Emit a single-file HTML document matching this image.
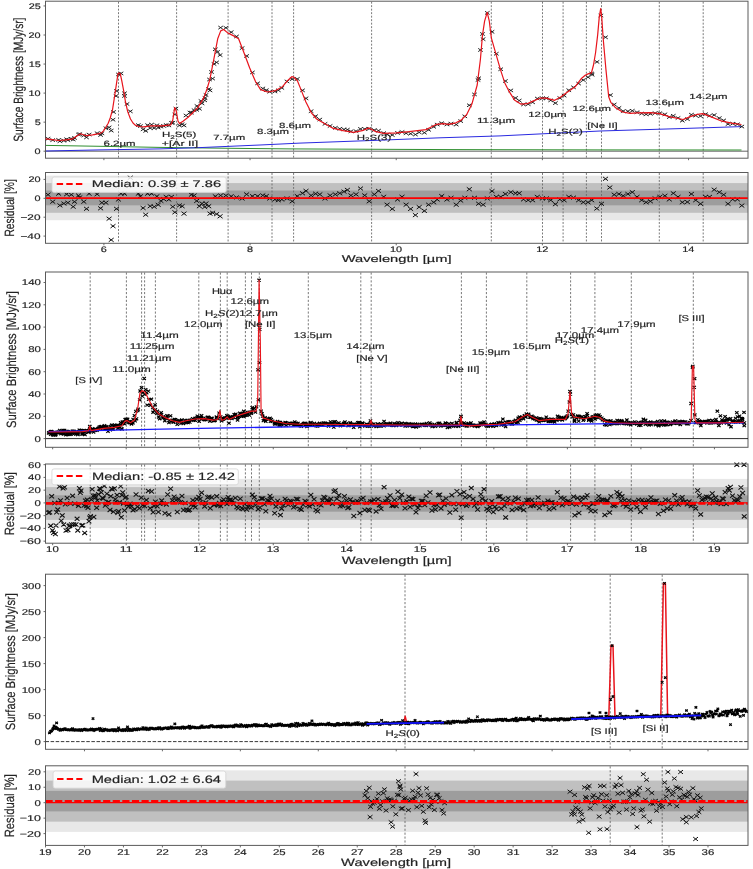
<!DOCTYPE html>
<html><head><meta charset="utf-8"><style>html,body{margin:0;padding:0;background:#fff;}svg{display:block;filter:blur(0.3px);}text{font-family:"Liberation Sans",sans-serif;text-rendering:geometricPrecision;stroke:#262626;stroke-width:0.18px;}</style></head>
<body>
<svg width="753" height="869" viewBox="0 0 753 869" font-family='"Liberation Sans", sans-serif'>
<rect width="753" height="869" fill="#fff"/>
<rect x="45.5" y="1.2" width="702.5" height="157" fill="none" stroke="#5a5a5a" stroke-width="1"/>
<line x1="118.5" y1="1.7" x2="118.5" y2="157.7" stroke="#6a6a6a" stroke-width="0.9" stroke-dasharray="1.93 1.57"/>
<line x1="176.6" y1="1.7" x2="176.6" y2="157.7" stroke="#6a6a6a" stroke-width="0.9" stroke-dasharray="1.93 1.57"/>
<line x1="228.1" y1="1.7" x2="228.1" y2="157.7" stroke="#6a6a6a" stroke-width="0.9" stroke-dasharray="1.93 1.57"/>
<line x1="272" y1="1.7" x2="272" y2="157.7" stroke="#6a6a6a" stroke-width="0.9" stroke-dasharray="1.93 1.57"/>
<line x1="293.6" y1="1.7" x2="293.6" y2="157.7" stroke="#6a6a6a" stroke-width="0.9" stroke-dasharray="1.93 1.57"/>
<line x1="371.6" y1="1.7" x2="371.6" y2="157.7" stroke="#6a6a6a" stroke-width="0.9" stroke-dasharray="1.93 1.57"/>
<line x1="491.3" y1="1.7" x2="491.3" y2="157.7" stroke="#6a6a6a" stroke-width="0.9" stroke-dasharray="1.93 1.57"/>
<line x1="542.5" y1="1.7" x2="542.5" y2="157.7" stroke="#6a6a6a" stroke-width="0.9" stroke-dasharray="1.93 1.57"/>
<line x1="563.1" y1="1.7" x2="563.1" y2="157.7" stroke="#6a6a6a" stroke-width="0.9" stroke-dasharray="1.93 1.57"/>
<line x1="586.4" y1="1.7" x2="586.4" y2="157.7" stroke="#6a6a6a" stroke-width="0.9" stroke-dasharray="1.93 1.57"/>
<line x1="601.5" y1="1.7" x2="601.5" y2="157.7" stroke="#6a6a6a" stroke-width="0.9" stroke-dasharray="1.93 1.57"/>
<line x1="659.3" y1="1.7" x2="659.3" y2="157.7" stroke="#6a6a6a" stroke-width="0.9" stroke-dasharray="1.93 1.57"/>
<line x1="703.2" y1="1.7" x2="703.2" y2="157.7" stroke="#6a6a6a" stroke-width="0.9" stroke-dasharray="1.93 1.57"/>
<line x1="45.5" y1="151.2" x2="748.0" y2="151.2" stroke="#555" stroke-width="0.9"/>
<polyline points="46,145.4 100,146.3 160,147.4 230,148.3 290,148.9 380,149.3 450,149.6 600,149.9 741.5,150" fill="none" stroke="#2f8f2f" stroke-width="1.0" stroke-linejoin="round"/>
<polyline points="46,151 100,149.9 160,148.9 200,147.6 260,145 300,143.1 380,140.2 440,137.8 500,135.9 600,131 680,128.6 741.5,126.6" fill="none" stroke="#2a2ae0" stroke-width="1.0" stroke-linejoin="round"/>
<path d="M45.7 137.1l4.6 3.2m0 -3.2l-4.6 3.2M50.4 138.5l4.6 3.2m0 -3.2l-4.6 3.2M56.3 138.31l4.6 3.2m0 -3.2l-4.6 3.2M57.6 139.63l4.6 3.2m0 -3.2l-4.6 3.2M61.6 139.03l4.6 3.2m0 -3.2l-4.6 3.2M64.3 137.64l4.6 3.2m0 -3.2l-4.6 3.2M65.6 138.55l4.6 3.2m0 -3.2l-4.6 3.2M69 137.21l4.6 3.2m0 -3.2l-4.6 3.2M70.9 137.89l4.6 3.2m0 -3.2l-4.6 3.2M72.2 136.38l4.6 3.2m0 -3.2l-4.6 3.2M76.2 132.95l4.6 3.2m0 -3.2l-4.6 3.2M77.5 132.51l4.6 3.2m0 -3.2l-4.6 3.2M81.5 133.87l4.6 3.2m0 -3.2l-4.6 3.2M84.2 135.79l4.6 3.2m0 -3.2l-4.6 3.2M86.8 132.97l4.6 3.2m0 -3.2l-4.6 3.2M94.8 131.64l4.6 3.2m0 -3.2l-4.6 3.2M98.3 133.4l4.6 3.2m0 -3.2l-4.6 3.2M99.6 131.68l4.6 3.2m0 -3.2l-4.6 3.2M103.6 126.65l4.6 3.2m0 -3.2l-4.6 3.2M106.8 125.81l4.6 3.2m0 -3.2l-4.6 3.2M108.9 129.02l4.6 3.2m0 -3.2l-4.6 3.2M110.7 118.11l4.6 3.2m0 -3.2l-4.6 3.2M114.2 89.38l4.6 3.2m0 -3.2l-4.6 3.2M116.1 72.83l4.6 3.2m0 -3.2l-4.6 3.2M118.7 71.84l4.6 3.2m0 -3.2l-4.6 3.2M122.2 91.66l4.6 3.2m0 -3.2l-4.6 3.2M128 109.74l4.6 3.2m0 -3.2l-4.6 3.2M136 123.47l4.6 3.2m0 -3.2l-4.6 3.2M138.1 124.5l4.6 3.2m0 -3.2l-4.6 3.2M140.8 127.76l4.6 3.2m0 -3.2l-4.6 3.2M143.4 129.28l4.6 3.2m0 -3.2l-4.6 3.2M145.3 123.54l4.6 3.2m0 -3.2l-4.6 3.2M147.9 126.5l4.6 3.2m0 -3.2l-4.6 3.2M149.3 122.96l4.6 3.2m0 -3.2l-4.6 3.2M151.9 126.48l4.6 3.2m0 -3.2l-4.6 3.2M154.6 123.71l4.6 3.2m0 -3.2l-4.6 3.2M155.9 126.01l4.6 3.2m0 -3.2l-4.6 3.2M158.6 124.99l4.6 3.2m0 -3.2l-4.6 3.2M161.2 124.3l4.6 3.2m0 -3.2l-4.6 3.2M163.9 123.4l4.6 3.2m0 -3.2l-4.6 3.2M166.5 123.79l4.6 3.2m0 -3.2l-4.6 3.2M169.2 121.27l4.6 3.2m0 -3.2l-4.6 3.2M170.5 121.17l4.6 3.2m0 -3.2l-4.6 3.2M172.6 112.85l4.6 3.2m0 -3.2l-4.6 3.2M177.1 123.83l4.6 3.2m0 -3.2l-4.6 3.2M179.8 122.65l4.6 3.2m0 -3.2l-4.6 3.2M181.7 123.81l4.6 3.2m0 -3.2l-4.6 3.2M189.1 111.06l4.6 3.2m0 -3.2l-4.6 3.2M191.8 108.58l4.6 3.2m0 -3.2l-4.6 3.2M194.4 108.29l4.6 3.2m0 -3.2l-4.6 3.2M197.1 107.2l4.6 3.2m0 -3.2l-4.6 3.2M199.7 101.78l4.6 3.2m0 -3.2l-4.6 3.2M202.4 98.74l4.6 3.2m0 -3.2l-4.6 3.2M203.7 93.36l4.6 3.2m0 -3.2l-4.6 3.2M206.4 87.43l4.6 3.2m0 -3.2l-4.6 3.2M207.7 88.82l4.6 3.2m0 -3.2l-4.6 3.2M210.3 76.98l4.6 3.2m0 -3.2l-4.6 3.2M213 47.69l4.6 3.2m0 -3.2l-4.6 3.2M214.3 60.8l4.6 3.2m0 -3.2l-4.6 3.2M217.8 53.49l4.6 3.2m0 -3.2l-4.6 3.2M218.3 26.01l4.6 3.2m0 -3.2l-4.6 3.2M223.6 26.22l4.6 3.2m0 -3.2l-4.6 3.2M228.9 30.58l4.6 3.2m0 -3.2l-4.6 3.2M234.2 34.87l4.6 3.2m0 -3.2l-4.6 3.2M239.8 46.52l4.6 3.2m0 -3.2l-4.6 3.2M244.3 54.38l4.6 3.2m0 -3.2l-4.6 3.2M250.1 70.84l4.6 3.2m0 -3.2l-4.6 3.2M255.3 81.72l4.6 3.2m0 -3.2l-4.6 3.2M260.5 86.9l4.6 3.2m0 -3.2l-4.6 3.2M264 88.59l4.6 3.2m0 -3.2l-4.6 3.2M267.4 90.14l4.6 3.2m0 -3.2l-4.6 3.2M272.6 89.87l4.6 3.2m0 -3.2l-4.6 3.2M276 88.69l4.6 3.2m0 -3.2l-4.6 3.2M279.5 86.3l4.6 3.2m0 -3.2l-4.6 3.2M284.7 79.85l4.6 3.2m0 -3.2l-4.6 3.2M289.9 77.53l4.6 3.2m0 -3.2l-4.6 3.2M295 77.36l4.6 3.2m0 -3.2l-4.6 3.2M300.2 88.76l4.6 3.2m0 -3.2l-4.6 3.2M303.7 96.76l4.6 3.2m0 -3.2l-4.6 3.2M308.8 109.61l4.6 3.2m0 -3.2l-4.6 3.2M313.3 114.59l4.6 3.2m0 -3.2l-4.6 3.2M317.5 117.96l4.6 3.2m0 -3.2l-4.6 3.2M322.7 122.23l4.6 3.2m0 -3.2l-4.6 3.2M327.8 124.37l4.6 3.2m0 -3.2l-4.6 3.2M333 126.26l4.6 3.2m0 -3.2l-4.6 3.2M337.5 127.16l4.6 3.2m0 -3.2l-4.6 3.2M341.7 127.8l4.6 3.2m0 -3.2l-4.6 3.2M345.1 128.03l4.6 3.2m0 -3.2l-4.6 3.2M348.6 129.76l4.6 3.2m0 -3.2l-4.6 3.2M353.7 129.55l4.6 3.2m0 -3.2l-4.6 3.2M358.2 127.35l4.6 3.2m0 -3.2l-4.6 3.2M362.4 127.41l4.6 3.2m0 -3.2l-4.6 3.2M366.9 127.15l4.6 3.2m0 -3.2l-4.6 3.2M372 128.47l4.6 3.2m0 -3.2l-4.6 3.2M376.2 129.07l4.6 3.2m0 -3.2l-4.6 3.2M381.4 131.51l4.6 3.2m0 -3.2l-4.6 3.2M384.8 132.85l4.6 3.2m0 -3.2l-4.6 3.2M390 133.43l4.6 3.2m0 -3.2l-4.6 3.2M395.2 131.32l4.6 3.2m0 -3.2l-4.6 3.2M399.7 130.4l4.6 3.2m0 -3.2l-4.6 3.2M403.8 131.65l4.6 3.2m0 -3.2l-4.6 3.2M408.3 132.11l4.6 3.2m0 -3.2l-4.6 3.2M413.1 132.92l4.6 3.2m0 -3.2l-4.6 3.2M416.9 130.77l4.6 3.2m0 -3.2l-4.6 3.2M422.1 131.05l4.6 3.2m0 -3.2l-4.6 3.2M426.3 128.25l4.6 3.2m0 -3.2l-4.6 3.2M431.4 125.23l4.6 3.2m0 -3.2l-4.6 3.2M434.9 122.99l4.6 3.2m0 -3.2l-4.6 3.2M439.4 121.58l4.6 3.2m0 -3.2l-4.6 3.2M444.6 122.87l4.6 3.2m0 -3.2l-4.6 3.2M448.7 122.05l4.6 3.2m0 -3.2l-4.6 3.2M453.9 122.98l4.6 3.2m0 -3.2l-4.6 3.2M458.4 119.51l4.6 3.2m0 -3.2l-4.6 3.2M462.5 114.72l4.6 3.2m0 -3.2l-4.6 3.2M467 103.67l4.6 3.2m0 -3.2l-4.6 3.2M472.2 92.83l4.6 3.2m0 -3.2l-4.6 3.2M476.3 76.66l4.6 3.2m0 -3.2l-4.6 3.2M480.8 37.59l4.6 3.2m0 -3.2l-4.6 3.2M485 11.27l4.6 3.2m0 -3.2l-4.6 3.2M489.7 30.23l4.6 3.2m0 -3.2l-4.6 3.2M494 52.16l4.6 3.2m0 -3.2l-4.6 3.2M498.4 67.61l4.6 3.2m0 -3.2l-4.6 3.2M503.1 79.43l4.6 3.2m0 -3.2l-4.6 3.2M508.5 88.84l4.6 3.2m0 -3.2l-4.6 3.2M513.2 96.36l4.6 3.2m0 -3.2l-4.6 3.2M516.9 98.96l4.6 3.2m0 -3.2l-4.6 3.2M521.2 102.88l4.6 3.2m0 -3.2l-4.6 3.2M525.9 102.58l4.6 3.2m0 -3.2l-4.6 3.2M530.3 100.7l4.6 3.2m0 -3.2l-4.6 3.2M535 96.93l4.6 3.2m0 -3.2l-4.6 3.2M540.1 96.66l4.6 3.2m0 -3.2l-4.6 3.2M544.1 96.71l4.6 3.2m0 -3.2l-4.6 3.2M548.4 98.76l4.6 3.2m0 -3.2l-4.6 3.2M553.1 101.51l4.6 3.2m0 -3.2l-4.6 3.2M557.5 96.46l4.6 3.2m0 -3.2l-4.6 3.2M561.8 94.01l4.6 3.2m0 -3.2l-4.6 3.2M566.5 88.62l4.6 3.2m0 -3.2l-4.6 3.2M571.2 85.74l4.6 3.2m0 -3.2l-4.6 3.2M576.3 81.98l4.6 3.2m0 -3.2l-4.6 3.2M581 78.47l4.6 3.2m0 -3.2l-4.6 3.2M585.7 75.61l4.6 3.2m0 -3.2l-4.6 3.2M589.4 71.85l4.6 3.2m0 -3.2l-4.6 3.2M611.9 102.88l4.6 3.2m0 -3.2l-4.6 3.2M616.6 106.33l4.6 3.2m0 -3.2l-4.6 3.2M620.9 109.5l4.6 3.2m0 -3.2l-4.6 3.2M625.6 109.67l4.6 3.2m0 -3.2l-4.6 3.2M630 109.17l4.6 3.2m0 -3.2l-4.6 3.2M634.7 110.68l4.6 3.2m0 -3.2l-4.6 3.2M639.4 111.91l4.6 3.2m0 -3.2l-4.6 3.2M643.8 112.7l4.6 3.2m0 -3.2l-4.6 3.2M648.1 112.23l4.6 3.2m0 -3.2l-4.6 3.2M652.8 111.56l4.6 3.2m0 -3.2l-4.6 3.2M657.5 111.6l4.6 3.2m0 -3.2l-4.6 3.2M662.6 112.76l4.6 3.2m0 -3.2l-4.6 3.2M667 115.46l4.6 3.2m0 -3.2l-4.6 3.2M671 114.16l4.6 3.2m0 -3.2l-4.6 3.2M675.7 116.4l4.6 3.2m0 -3.2l-4.6 3.2M680 119.09l4.6 3.2m0 -3.2l-4.6 3.2M685.1 117.49l4.6 3.2m0 -3.2l-4.6 3.2M689.1 113.1l4.6 3.2m0 -3.2l-4.6 3.2M693.4 113.97l4.6 3.2m0 -3.2l-4.6 3.2M698.2 114.52l4.6 3.2m0 -3.2l-4.6 3.2M703.2 112.57l4.6 3.2m0 -3.2l-4.6 3.2M707.2 114.13l4.6 3.2m0 -3.2l-4.6 3.2M711.9 113.48l4.6 3.2m0 -3.2l-4.6 3.2M717 116.52l4.6 3.2m0 -3.2l-4.6 3.2M721.4 118.81l4.6 3.2m0 -3.2l-4.6 3.2M725.7 122.49l4.6 3.2m0 -3.2l-4.6 3.2M730.4 122.08l4.6 3.2m0 -3.2l-4.6 3.2M735.1 122.69l4.6 3.2m0 -3.2l-4.6 3.2M739.5 124.96l4.6 3.2m0 -3.2l-4.6 3.2M173.6 107l4.6 3.2m0 -3.2l-4.6 3.2M207.2 77.9l4.6 3.2m0 -3.2l-4.6 3.2M209.2 70.4l4.6 3.2m0 -3.2l-4.6 3.2M211.7 62.4l4.6 3.2m0 -3.2l-4.6 3.2M215.2 50.4l4.6 3.2m0 -3.2l-4.6 3.2M202.7 96.4l4.6 3.2m0 -3.2l-4.6 3.2M198.7 99.4l4.6 3.2m0 -3.2l-4.6 3.2M194.7 104.4l4.6 3.2m0 -3.2l-4.6 3.2M187.7 110.9l4.6 3.2m0 -3.2l-4.6 3.2M183.7 113.9l4.6 3.2m0 -3.2l-4.6 3.2M111.2 110.4l4.6 3.2m0 -3.2l-4.6 3.2M113.7 94.4l4.6 3.2m0 -3.2l-4.6 3.2M122.2 94.4l4.6 3.2m0 -3.2l-4.6 3.2M124.7 102.4l4.6 3.2m0 -3.2l-4.6 3.2M480.2 32.4l4.6 3.2m0 -3.2l-4.6 3.2M478.2 48.4l4.6 3.2m0 -3.2l-4.6 3.2M475.7 78.4l4.6 3.2m0 -3.2l-4.6 3.2M594.7 60.3l4.6 3.2m0 -3.2l-4.6 3.2M598.6 13.9l4.6 3.2m0 -3.2l-4.6 3.2M603.2 35.7l4.6 3.2m0 -3.2l-4.6 3.2M608.1 93.5l4.6 3.2m0 -3.2l-4.6 3.2M589.8 73.1l4.6 3.2m0 -3.2l-4.6 3.2" fill="none" stroke="#1a1a1a" stroke-width="0.95"/>
<polyline points="45.6,138.9 52,139.6 59.1,140.5 66,139.8 71.9,139.2 76,136.5 80.6,133.8 86.2,135.7 92.6,134.9 99,133.6 101.5,132.8 103.7,130.6 105.8,127.3 108.2,123.2 110.2,118 112.5,109.8 114.8,95 116.7,82.1 118,73.8 119,72.9 120.3,73.8 121.7,80.3 123.6,90.4 125.4,101.5 127.7,111.6 130.5,119 133,123 135.5,125.4 139,126.5 143.6,126.9 151.6,125.8 162,125.9 170.9,124.8 172.8,120 174.7,107.6 176.2,111 178,121 179.5,123.5 183,121.2 187.8,117.5 192,113.5 197.8,107.6 203.8,97.6 207,89 209.8,79.7 213.7,59.8 217.7,38.8 220.7,30.9 223.7,29.5 227.7,32.9 233.7,35.9 238.6,38.8 243.6,51.8 249.6,67.7 255.6,81.7 260.6,89.6 267.5,92 275.5,90.6 282.5,86.7 287.5,80.7 291.8,76.7 293.5,77 297.4,80.7 301.7,91.4 305.9,102 311.2,112.6 316.6,119 324,123.2 332.5,128.1 343.1,130.7 353.7,132.4 362.2,130.7 369,127.9 375,131.3 383.5,133.4 396.2,132.8 409,131.7 426,129.6 430.2,127.5 436.6,124.3 443,123.7 448.5,124.3 455.9,122.8 461.2,120.1 466.6,114.7 471.9,104.1 477.2,85 480.4,59.5 482.5,35 484.6,21.2 487.2,12.3 489.3,21.2 491.4,38.2 495.7,53.1 500.6,70.1 504.8,82.9 509.1,91.4 514.4,99.9 520.7,104.1 527.1,103.7 533.5,100.9 539.9,98.2 546.2,98.2 554.7,100.3 561.1,96.7 565.4,93.5 575.5,86.4 581.1,78.8 585.2,75.3 588.7,73.6 591.4,73 593.5,65 595.6,52.5 597.7,34.6 599.3,16.6 600.7,8.6 601.8,18 603.2,38.7 605.9,69.1 608.7,96.8 610.8,102.3 615.6,107.8 622.5,112 630,113.4 637.6,112.8 650.6,112.6 659.3,113.6 670.1,116.9 683.1,119.5 689.6,116.9 696.1,114.7 702.6,113.6 711.2,116.9 722,121.2 732.9,123.4 741.5,124.5" fill="none" stroke="#e8141c" stroke-width="1.2" stroke-linejoin="round"/>
<line x1="43.5" y1="151.2" x2="45.5" y2="151.2" stroke="#5a5a5a" stroke-width="0.9"/>
<text x="34.59" y="153.94" font-size="7.95" textLength="6.04" lengthAdjust="spacingAndGlyphs" fill="#222">0</text>
<line x1="43.5" y1="122.15" x2="45.5" y2="122.15" stroke="#5a5a5a" stroke-width="0.9"/>
<text x="34.78" y="124.89" font-size="7.95" textLength="6.04" lengthAdjust="spacingAndGlyphs" fill="#222">5</text>
<line x1="43.5" y1="93.1" x2="45.5" y2="93.1" stroke="#5a5a5a" stroke-width="0.9"/>
<text x="28.54" y="95.84" font-size="7.95" textLength="12.09" lengthAdjust="spacingAndGlyphs" fill="#222">10</text>
<line x1="43.5" y1="64.05" x2="45.5" y2="64.05" stroke="#5a5a5a" stroke-width="0.9"/>
<text x="28.74" y="66.79" font-size="7.95" textLength="12.09" lengthAdjust="spacingAndGlyphs" fill="#222">15</text>
<line x1="43.5" y1="35" x2="45.5" y2="35" stroke="#5a5a5a" stroke-width="0.9"/>
<text x="28.54" y="37.74" font-size="7.95" textLength="12.09" lengthAdjust="spacingAndGlyphs" fill="#222">20</text>
<line x1="43.5" y1="5.95" x2="45.5" y2="5.95" stroke="#5a5a5a" stroke-width="0.9"/>
<text x="28.74" y="8.69" font-size="7.95" textLength="12.09" lengthAdjust="spacingAndGlyphs" fill="#222">25</text>
<line x1="103.9" y1="158.2" x2="103.9" y2="160.2" stroke="#5a5a5a" stroke-width="0.9"/>
<line x1="250.06" y1="158.2" x2="250.06" y2="160.2" stroke="#5a5a5a" stroke-width="0.9"/>
<line x1="396.22" y1="158.2" x2="396.22" y2="160.2" stroke="#5a5a5a" stroke-width="0.9"/>
<line x1="542.38" y1="158.2" x2="542.38" y2="160.2" stroke="#5a5a5a" stroke-width="0.9"/>
<line x1="688.54" y1="158.2" x2="688.54" y2="160.2" stroke="#5a5a5a" stroke-width="0.9"/>
<text transform="translate(22.5,79.7) rotate(-90)" x="-61.96" y="0" font-size="13.46" textLength="124.09" lengthAdjust="spacingAndGlyphs" fill="#222">Surface Brightness [MJy/sr]</text>
<text x="103.57" y="145.6" font-size="7.63" textLength="32.01" lengthAdjust="spacingAndGlyphs" fill="#222">6.2µm</text>
<text x="161.92" y="137.2" font-size="7.63" textLength="34.39" lengthAdjust="spacingAndGlyphs" fill="#222">H<tspan font-size="70%" dy="1.6">2</tspan><tspan dy="-1.6">S(5)</tspan></text>
<text x="161.85" y="146" font-size="7.63" textLength="36.21" lengthAdjust="spacingAndGlyphs" fill="#222">+[Ar II]</text>
<text x="213.2" y="139.7" font-size="7.63" textLength="32.01" lengthAdjust="spacingAndGlyphs" fill="#222">7.7µm</text>
<text x="257.08" y="134" font-size="7.63" textLength="32.01" lengthAdjust="spacingAndGlyphs" fill="#222">8.3µm</text>
<text x="279.08" y="128.2" font-size="7.63" textLength="32.01" lengthAdjust="spacingAndGlyphs" fill="#222">8.6µm</text>
<text x="356.84" y="139.5" font-size="7.63" textLength="34.39" lengthAdjust="spacingAndGlyphs" fill="#222">H<tspan font-size="70%" dy="1.6">2</tspan><tspan dy="-1.6">S(3)</tspan></text>
<text x="476.99" y="122.6" font-size="7.63" textLength="38.37" lengthAdjust="spacingAndGlyphs" fill="#222">11.3µm</text>
<text x="528.19" y="116.9" font-size="7.63" textLength="38.37" lengthAdjust="spacingAndGlyphs" fill="#222">12.0µm</text>
<text x="548.34" y="133.9" font-size="7.63" textLength="34.39" lengthAdjust="spacingAndGlyphs" fill="#222">H<tspan font-size="70%" dy="1.6">2</tspan><tspan dy="-1.6">S(2)</tspan></text>
<text x="572.59" y="111.3" font-size="7.63" textLength="38.37" lengthAdjust="spacingAndGlyphs" fill="#222">12.6µm</text>
<text x="587.25" y="128" font-size="7.63" textLength="30.51" lengthAdjust="spacingAndGlyphs" fill="#222">[Ne II]</text>
<text x="645.59" y="104.7" font-size="7.63" textLength="38.37" lengthAdjust="spacingAndGlyphs" fill="#222">13.6µm</text>
<text x="689.29" y="99.3" font-size="7.63" textLength="38.37" lengthAdjust="spacingAndGlyphs" fill="#222">14.2µm</text>
<rect x="45.5" y="175.65" width="702.5" height="44.57" fill="#e8e8e8"/>
<rect x="45.5" y="183.08" width="702.5" height="29.71" fill="#c0c0c0"/>
<rect x="45.5" y="190.5" width="702.5" height="14.86" fill="#9d9d9d"/>
<line x1="118.5" y1="173" x2="118.5" y2="242.8" stroke="#6a6a6a" stroke-width="0.9" stroke-dasharray="1.93 1.57"/>
<line x1="176.6" y1="173" x2="176.6" y2="242.8" stroke="#6a6a6a" stroke-width="0.9" stroke-dasharray="1.93 1.57"/>
<line x1="228.1" y1="173" x2="228.1" y2="242.8" stroke="#6a6a6a" stroke-width="0.9" stroke-dasharray="1.93 1.57"/>
<line x1="272" y1="173" x2="272" y2="242.8" stroke="#6a6a6a" stroke-width="0.9" stroke-dasharray="1.93 1.57"/>
<line x1="293.6" y1="173" x2="293.6" y2="242.8" stroke="#6a6a6a" stroke-width="0.9" stroke-dasharray="1.93 1.57"/>
<line x1="371.6" y1="173" x2="371.6" y2="242.8" stroke="#6a6a6a" stroke-width="0.9" stroke-dasharray="1.93 1.57"/>
<line x1="491.3" y1="173" x2="491.3" y2="242.8" stroke="#6a6a6a" stroke-width="0.9" stroke-dasharray="1.93 1.57"/>
<line x1="542.5" y1="173" x2="542.5" y2="242.8" stroke="#6a6a6a" stroke-width="0.9" stroke-dasharray="1.93 1.57"/>
<line x1="563.1" y1="173" x2="563.1" y2="242.8" stroke="#6a6a6a" stroke-width="0.9" stroke-dasharray="1.93 1.57"/>
<line x1="586.4" y1="173" x2="586.4" y2="242.8" stroke="#6a6a6a" stroke-width="0.9" stroke-dasharray="1.93 1.57"/>
<line x1="601.5" y1="173" x2="601.5" y2="242.8" stroke="#6a6a6a" stroke-width="0.9" stroke-dasharray="1.93 1.57"/>
<line x1="659.3" y1="173" x2="659.3" y2="242.8" stroke="#6a6a6a" stroke-width="0.9" stroke-dasharray="1.93 1.57"/>
<line x1="703.2" y1="173" x2="703.2" y2="242.8" stroke="#6a6a6a" stroke-width="0.9" stroke-dasharray="1.93 1.57"/>
<path d="M45.5 192.8l5 3.8m0 -3.8l-5 3.8M50.2 199.8l5 3.8m0 -3.8l-5 3.8M56.1 191.8l5 3.8m0 -3.8l-5 3.8M57.4 203.5l5 3.8m0 -3.8l-5 3.8M61.4 201.6l5 3.8m0 -3.8l-5 3.8M64.1 192.3l5 3.8m0 -3.8l-5 3.8M65.4 200.8l5 3.8m0 -3.8l-5 3.8M68.8 192.8l5 3.8m0 -3.8l-5 3.8M70.7 204.8l5 3.8m0 -3.8l-5 3.8M72 199.8l5 3.8m0 -3.8l-5 3.8M76 193.6l5 3.8m0 -3.8l-5 3.8M77.3 195.5l5 3.8m0 -3.8l-5 3.8M81.3 199.8l5 3.8m0 -3.8l-5 3.8M84 206.9l5 3.8m0 -3.8l-5 3.8M86.6 191.8l5 3.8m0 -3.8l-5 3.8M94.6 192.3l5 3.8m0 -3.8l-5 3.8M98.1 206.4l5 3.8m0 -3.8l-5 3.8M99.4 200.8l5 3.8m0 -3.8l-5 3.8M103.4 200.8l5 3.8m0 -3.8l-5 3.8M106.6 216.8l5 3.8m0 -3.8l-5 3.8M108.7 238l5 3.8m0 -3.8l-5 3.8M110.5 224.2l5 3.8m0 -3.8l-5 3.8M114 206.9l5 3.8m0 -3.8l-5 3.8M115.9 197.6l5 3.8m0 -3.8l-5 3.8M118.5 191.8l5 3.8m0 -3.8l-5 3.8M122 191.8l5 3.8m0 -3.8l-5 3.8M127.8 175.8l5 3.8m0 -3.8l-5 3.8M135.8 191.8l5 3.8m0 -3.8l-5 3.8M137.9 194.4l5 3.8m0 -3.8l-5 3.8M140.6 206.1l5 3.8m0 -3.8l-5 3.8M143.2 212.8l5 3.8m0 -3.8l-5 3.8M145.1 191.8l5 3.8m0 -3.8l-5 3.8M147.7 204.3l5 3.8m0 -3.8l-5 3.8M149.1 191.8l5 3.8m0 -3.8l-5 3.8M151.7 204.8l5 3.8m0 -3.8l-5 3.8M154.4 194.4l5 3.8m0 -3.8l-5 3.8M155.7 202.9l5 3.8m0 -3.8l-5 3.8M158.4 199l5 3.8m0 -3.8l-5 3.8M161 197.1l5 3.8m0 -3.8l-5 3.8M163.7 195l5 3.8m0 -3.8l-5 3.8M166.3 197.6l5 3.8m0 -3.8l-5 3.8M169 195l5 3.8m0 -3.8l-5 3.8M170.3 204.8l5 3.8m0 -3.8l-5 3.8M172.4 210.4l5 3.8m0 -3.8l-5 3.8M176.9 203.5l5 3.8m0 -3.8l-5 3.8M179.6 204.3l5 3.8m0 -3.8l-5 3.8M181.5 211.7l5 3.8m0 -3.8l-5 3.8M188.9 192.8l5 3.8m0 -3.8l-5 3.8M191.6 193.6l5 3.8m0 -3.8l-5 3.8M194.2 199l5 3.8m0 -3.8l-5 3.8M196.9 204.3l5 3.8m0 -3.8l-5 3.8M199.5 201.6l5 3.8m0 -3.8l-5 3.8M202.2 205.1l5 3.8m0 -3.8l-5 3.8M203.5 201.6l5 3.8m0 -3.8l-5 3.8M206.2 204.3l5 3.8m0 -3.8l-5 3.8M207.5 211.7l5 3.8m0 -3.8l-5 3.8M210.1 210.9l5 3.8m0 -3.8l-5 3.8M212.8 194.4l5 3.8m0 -3.8l-5 3.8M214.1 212.2l5 3.8m0 -3.8l-5 3.8M217.6 214.4l5 3.8m0 -3.8l-5 3.8M218.1 193.6l5 3.8m0 -3.8l-5 3.8M223.4 193.6l5 3.8m0 -3.8l-5 3.8M228.7 194.4l5 3.8m0 -3.8l-5 3.8M234 195.5l5 3.8m0 -3.8l-5 3.8M239.6 196.6l5 3.8m0 -3.8l-5 3.8M244.1 192.5l5 3.8m0 -3.8l-5 3.8M249.9 194.2l5 3.8m0 -3.8l-5 3.8M255.1 194.2l5 3.8m0 -3.8l-5 3.8M260.3 193.5l5 3.8m0 -3.8l-5 3.8M263.8 194.2l5 3.8m0 -3.8l-5 3.8M267.2 196.6l5 3.8m0 -3.8l-5 3.8M272.4 197.6l5 3.8m0 -3.8l-5 3.8M275.8 198.3l5 3.8m0 -3.8l-5 3.8M279.3 197.6l5 3.8m0 -3.8l-5 3.8M284.5 196.6l5 3.8m0 -3.8l-5 3.8M289.7 199.4l5 3.8m0 -3.8l-5 3.8M294.8 194.2l5 3.8m0 -3.8l-5 3.8M300 191.4l5 3.8m0 -3.8l-5 3.8M303.5 189l5 3.8m0 -3.8l-5 3.8M308.6 193.5l5 3.8m0 -3.8l-5 3.8M313.1 191.8l5 3.8m0 -3.8l-5 3.8M317.3 192.5l5 3.8m0 -3.8l-5 3.8M322.5 196.6l5 3.8m0 -3.8l-5 3.8M327.6 193.5l5 3.8m0 -3.8l-5 3.8M332.8 192.5l5 3.8m0 -3.8l-5 3.8M337.3 191.4l5 3.8m0 -3.8l-5 3.8M341.5 189.7l5 3.8m0 -3.8l-5 3.8M344.9 188l5 3.8m0 -3.8l-5 3.8M348.4 193.5l5 3.8m0 -3.8l-5 3.8M353.5 192.5l5 3.8m0 -3.8l-5 3.8M358 186.6l5 3.8m0 -3.8l-5 3.8M362.2 193.5l5 3.8m0 -3.8l-5 3.8M366.7 199.4l5 3.8m0 -3.8l-5 3.8M371.8 192.5l5 3.8m0 -3.8l-5 3.8M376 189l5 3.8m0 -3.8l-5 3.8M381.2 194.9l5 3.8m0 -3.8l-5 3.8M384.6 202.8l5 3.8m0 -3.8l-5 3.8M389.8 207l5 3.8m0 -3.8l-5 3.8M395 197.6l5 3.8m0 -3.8l-5 3.8M399.5 194.9l5 3.8m0 -3.8l-5 3.8M403.6 202.8l5 3.8m0 -3.8l-5 3.8M408.1 207l5 3.8m0 -3.8l-5 3.8M412.9 213.2l5 3.8m0 -3.8l-5 3.8M416.7 205.2l5 3.8m0 -3.8l-5 3.8M421.9 209l5 3.8m0 -3.8l-5 3.8M426.1 202.8l5 3.8m0 -3.8l-5 3.8M431.2 200.4l5 3.8m0 -3.8l-5 3.8M434.7 197.6l5 3.8m0 -3.8l-5 3.8M439.2 194.2l5 3.8m0 -3.8l-5 3.8M444.4 197.6l5 3.8m0 -3.8l-5 3.8M448.5 195.9l5 3.8m0 -3.8l-5 3.8M453.7 202.8l5 3.8m0 -3.8l-5 3.8M458.2 198.7l5 3.8m0 -3.8l-5 3.8M462.3 195.9l5 3.8m0 -3.8l-5 3.8M466.8 187.3l5 3.8m0 -3.8l-5 3.8M472 195.9l5 3.8m0 -3.8l-5 3.8M476.1 201.8l5 3.8m0 -3.8l-5 3.8M480.6 202.8l5 3.8m0 -3.8l-5 3.8M484.8 196.5l5 3.8m0 -3.8l-5 3.8M489.5 189.2l5 3.8m0 -3.8l-5 3.8M493.8 195l5 3.8m0 -3.8l-5 3.8M498.2 195l5 3.8m0 -3.8l-5 3.8M502.9 192.1l5 3.8m0 -3.8l-5 3.8M508.3 190.3l5 3.8m0 -3.8l-5 3.8M513 191.4l5 3.8m0 -3.8l-5 3.8M516.7 191.4l5 3.8m0 -3.8l-5 3.8M521 197.5l5 3.8m0 -3.8l-5 3.8M525.7 198.3l5 3.8m0 -3.8l-5 3.8M530.1 198.3l5 3.8m0 -3.8l-5 3.8M534.8 195l5 3.8m0 -3.8l-5 3.8M539.9 196.5l5 3.8m0 -3.8l-5 3.8M543.9 196.5l5 3.8m0 -3.8l-5 3.8M548.2 198.3l5 3.8m0 -3.8l-5 3.8M552.9 202.3l5 3.8m0 -3.8l-5 3.8M557.3 197.5l5 3.8m0 -3.8l-5 3.8M561.6 198.3l5 3.8m0 -3.8l-5 3.8M566.3 195l5 3.8m0 -3.8l-5 3.8M571 195.7l5 3.8m0 -3.8l-5 3.8M576.1 198.3l5 3.8m0 -3.8l-5 3.8M580.8 200.4l5 3.8m0 -3.8l-5 3.8M585.5 200.4l5 3.8m0 -3.8l-5 3.8M589.2 198.3l5 3.8m0 -3.8l-5 3.8M594.3 206.6l5 3.8m0 -3.8l-5 3.8M599 201.9l5 3.8m0 -3.8l-5 3.8M603 176.9l5 3.8m0 -3.8l-5 3.8M607.3 185.6l5 3.8m0 -3.8l-5 3.8M611.7 192.8l5 3.8m0 -3.8l-5 3.8M616.4 192.1l5 3.8m0 -3.8l-5 3.8M620.7 193.9l5 3.8m0 -3.8l-5 3.8M625.4 192.1l5 3.8m0 -3.8l-5 3.8M629.8 190.3l5 3.8m0 -3.8l-5 3.8M634.5 195l5 3.8m0 -3.8l-5 3.8M639.2 198.3l5 3.8m0 -3.8l-5 3.8M643.6 200.4l5 3.8m0 -3.8l-5 3.8M647.9 199.4l5 3.8m0 -3.8l-5 3.8M652.6 196.5l5 3.8m0 -3.8l-5 3.8M657.3 195l5 3.8m0 -3.8l-5 3.8M662.4 193.9l5 3.8m0 -3.8l-5 3.8M666.8 197.5l5 3.8m0 -3.8l-5 3.8M670.8 191.4l5 3.8m0 -3.8l-5 3.8M675.5 195l5 3.8m0 -3.8l-5 3.8M679.8 200.4l5 3.8m0 -3.8l-5 3.8M684.9 200.1l5 3.8m0 -3.8l-5 3.8M688.9 192.1l5 3.8m0 -3.8l-5 3.8M693.2 198.3l5 3.8m0 -3.8l-5 3.8M698 201.9l5 3.8m0 -3.8l-5 3.8M703 195l5 3.8m0 -3.8l-5 3.8M707 195l5 3.8m0 -3.8l-5 3.8M711.7 187.8l5 3.8m0 -3.8l-5 3.8M716.8 190.3l5 3.8m0 -3.8l-5 3.8M721.2 192.8l5 3.8m0 -3.8l-5 3.8M725.5 201.9l5 3.8m0 -3.8l-5 3.8M730.2 197.5l5 3.8m0 -3.8l-5 3.8M734.9 197.5l5 3.8m0 -3.8l-5 3.8M739.3 203.7l5 3.8m0 -3.8l-5 3.8" fill="none" stroke="#111" stroke-width="1.0"/>
<line x1="45.5" y1="198.1" x2="748.0" y2="198.1" stroke="#f00" stroke-width="1.6"/>
<rect x="45.5" y="172.5" width="702.5" height="70.8" fill="none" stroke="#5a5a5a" stroke-width="1"/>
<rect x="52" y="177" width="174.2" height="15.5" rx="2.2" fill="#fff" fill-opacity="0.82" stroke="#d4d4d4" stroke-width="0.8"/>
<line x1="56.7" y1="184" x2="82.4" y2="184" stroke="#f00" stroke-width="2" stroke-dasharray="6.4 3.2"/>
<text x="91.86" y="186.9" font-size="9.64" textLength="129.17" lengthAdjust="spacingAndGlyphs" fill="#222">Median: 0.39 ± 7.86</text>
<line x1="43.5" y1="179.4" x2="45.5" y2="179.4" stroke="#5a5a5a" stroke-width="0.9"/>
<text x="28.44" y="182.14" font-size="7.95" textLength="12.09" lengthAdjust="spacingAndGlyphs" fill="#222">20</text>
<line x1="43.5" y1="198.3" x2="45.5" y2="198.3" stroke="#5a5a5a" stroke-width="0.9"/>
<text x="34.48" y="201.04" font-size="7.95" textLength="6.04" lengthAdjust="spacingAndGlyphs" fill="#222">0</text>
<line x1="43.5" y1="217.2" x2="45.5" y2="217.2" stroke="#5a5a5a" stroke-width="0.9"/>
<text x="20.48" y="219.94" font-size="7.95" textLength="20.05" lengthAdjust="spacingAndGlyphs" fill="#222">−20</text>
<line x1="43.5" y1="236.1" x2="45.5" y2="236.1" stroke="#5a5a5a" stroke-width="0.9"/>
<text x="20.48" y="238.84" font-size="7.95" textLength="20.05" lengthAdjust="spacingAndGlyphs" fill="#222">−40</text>
<line x1="103.9" y1="243.3" x2="103.9" y2="245.3" stroke="#5a5a5a" stroke-width="0.9"/>
<text x="100.85" y="252.4" font-size="7.95" textLength="6.04" lengthAdjust="spacingAndGlyphs" fill="#222">6</text>
<line x1="250.06" y1="243.3" x2="250.06" y2="245.3" stroke="#5a5a5a" stroke-width="0.9"/>
<text x="247.04" y="252.4" font-size="7.95" textLength="6.04" lengthAdjust="spacingAndGlyphs" fill="#222">8</text>
<line x1="396.22" y1="243.3" x2="396.22" y2="245.3" stroke="#5a5a5a" stroke-width="0.9"/>
<text x="389.97" y="252.4" font-size="7.95" textLength="12.09" lengthAdjust="spacingAndGlyphs" fill="#222">10</text>
<line x1="542.38" y1="243.3" x2="542.38" y2="245.3" stroke="#5a5a5a" stroke-width="0.9"/>
<text x="536.29" y="252.4" font-size="7.95" textLength="12.09" lengthAdjust="spacingAndGlyphs" fill="#222">12</text>
<line x1="688.54" y1="243.3" x2="688.54" y2="245.3" stroke="#5a5a5a" stroke-width="0.9"/>
<text x="682.24" y="252.4" font-size="7.95" textLength="12.09" lengthAdjust="spacingAndGlyphs" fill="#222">14</text>
<text x="341.68" y="262" font-size="9.7" textLength="109.91" lengthAdjust="spacingAndGlyphs" fill="#222">Wavelength [µm]</text>
<text transform="translate(13.9,207.9) rotate(-90)" x="-28.73" y="0" font-size="13.46" textLength="57.35" lengthAdjust="spacingAndGlyphs" fill="#222">Residual [%]</text>
<rect x="45.5" y="272.0" width="702.5" height="175.3" fill="none" stroke="#5a5a5a" stroke-width="1"/>
<line x1="90.2" y1="272.5" x2="90.2" y2="446.8" stroke="#6a6a6a" stroke-width="0.9" stroke-dasharray="2.15 1.75"/>
<line x1="126.4" y1="272.5" x2="126.4" y2="446.8" stroke="#6a6a6a" stroke-width="0.9" stroke-dasharray="2.15 1.75"/>
<line x1="141.6" y1="272.5" x2="141.6" y2="446.8" stroke="#6a6a6a" stroke-width="0.9" stroke-dasharray="2.15 1.75"/>
<line x1="144.6" y1="272.5" x2="144.6" y2="446.8" stroke="#6a6a6a" stroke-width="0.9" stroke-dasharray="2.15 1.75"/>
<line x1="155.4" y1="272.5" x2="155.4" y2="446.8" stroke="#6a6a6a" stroke-width="0.9" stroke-dasharray="2.15 1.75"/>
<line x1="198.8" y1="272.5" x2="198.8" y2="446.8" stroke="#6a6a6a" stroke-width="0.9" stroke-dasharray="2.15 1.75"/>
<line x1="220.4" y1="272.5" x2="220.4" y2="446.8" stroke="#6a6a6a" stroke-width="0.9" stroke-dasharray="2.15 1.75"/>
<line x1="227.2" y1="272.5" x2="227.2" y2="446.8" stroke="#6a6a6a" stroke-width="0.9" stroke-dasharray="2.15 1.75"/>
<line x1="245.4" y1="272.5" x2="245.4" y2="446.8" stroke="#6a6a6a" stroke-width="0.9" stroke-dasharray="2.15 1.75"/>
<line x1="251.5" y1="272.5" x2="251.5" y2="446.8" stroke="#6a6a6a" stroke-width="0.9" stroke-dasharray="2.15 1.75"/>
<line x1="259.3" y1="272.5" x2="259.3" y2="446.8" stroke="#6a6a6a" stroke-width="0.9" stroke-dasharray="2.15 1.75"/>
<line x1="308.3" y1="272.5" x2="308.3" y2="446.8" stroke="#6a6a6a" stroke-width="0.9" stroke-dasharray="2.15 1.75"/>
<line x1="360.8" y1="272.5" x2="360.8" y2="446.8" stroke="#6a6a6a" stroke-width="0.9" stroke-dasharray="2.15 1.75"/>
<line x1="371.2" y1="272.5" x2="371.2" y2="446.8" stroke="#6a6a6a" stroke-width="0.9" stroke-dasharray="2.15 1.75"/>
<line x1="461.4" y1="272.5" x2="461.4" y2="446.8" stroke="#6a6a6a" stroke-width="0.9" stroke-dasharray="2.15 1.75"/>
<line x1="486.4" y1="272.5" x2="486.4" y2="446.8" stroke="#6a6a6a" stroke-width="0.9" stroke-dasharray="2.15 1.75"/>
<line x1="526.8" y1="272.5" x2="526.8" y2="446.8" stroke="#6a6a6a" stroke-width="0.9" stroke-dasharray="2.15 1.75"/>
<line x1="570.6" y1="272.5" x2="570.6" y2="446.8" stroke="#6a6a6a" stroke-width="0.9" stroke-dasharray="2.15 1.75"/>
<line x1="594.9" y1="272.5" x2="594.9" y2="446.8" stroke="#6a6a6a" stroke-width="0.9" stroke-dasharray="2.15 1.75"/>
<line x1="631.3" y1="272.5" x2="631.3" y2="446.8" stroke="#6a6a6a" stroke-width="0.9" stroke-dasharray="2.15 1.75"/>
<line x1="693.3" y1="272.5" x2="693.3" y2="446.8" stroke="#6a6a6a" stroke-width="0.9" stroke-dasharray="2.15 1.75"/>
<line x1="45.5" y1="438.6" x2="748.0" y2="438.6" stroke="#111" stroke-width="0.9"/>
<path d="M46.94 431.58l3.4 2.9m0 -2.9l-3.4 2.9M48.06 431.51l3.4 2.9m0 -2.9l-3.4 2.9M49.01 432.92l3.4 2.9m0 -2.9l-3.4 2.9M49.74 429.87l3.4 2.9m0 -2.9l-3.4 2.9M50.95 433.4l3.4 2.9m0 -2.9l-3.4 2.9M52.07 433.64l3.4 2.9m0 -2.9l-3.4 2.9M53.03 430.57l3.4 2.9m0 -2.9l-3.4 2.9M53.67 433.77l3.4 2.9m0 -2.9l-3.4 2.9M54.14 432.9l3.4 2.9m0 -2.9l-3.4 2.9M54.87 431.52l3.4 2.9m0 -2.9l-3.4 2.9M56.1 431.25l3.4 2.9m0 -2.9l-3.4 2.9M56.89 430.53l3.4 2.9m0 -2.9l-3.4 2.9M57.98 428.85l3.4 2.9m0 -2.9l-3.4 2.9M58.68 430.3l3.4 2.9m0 -2.9l-3.4 2.9M59.27 432.4l3.4 2.9m0 -2.9l-3.4 2.9M60.79 431.83l3.4 2.9m0 -2.9l-3.4 2.9M61.62 429l3.4 2.9m0 -2.9l-3.4 2.9M62.26 432.77l3.4 2.9m0 -2.9l-3.4 2.9M62.84 428.86l3.4 2.9m0 -2.9l-3.4 2.9M63.71 430.62l3.4 2.9m0 -2.9l-3.4 2.9M64.2 433.36l3.4 2.9m0 -2.9l-3.4 2.9M65.25 429.93l3.4 2.9m0 -2.9l-3.4 2.9M65.97 433.27l3.4 2.9m0 -2.9l-3.4 2.9M67.34 432.87l3.4 2.9m0 -2.9l-3.4 2.9M68.32 432.79l3.4 2.9m0 -2.9l-3.4 2.9M68.63 430.45l3.4 2.9m0 -2.9l-3.4 2.9M69.57 432.66l3.4 2.9m0 -2.9l-3.4 2.9M70.77 429.58l3.4 2.9m0 -2.9l-3.4 2.9M71.96 432.64l3.4 2.9m0 -2.9l-3.4 2.9M72.89 430.38l3.4 2.9m0 -2.9l-3.4 2.9M74.18 432.6l3.4 2.9m0 -2.9l-3.4 2.9M75.27 431.98l3.4 2.9m0 -2.9l-3.4 2.9M76.08 433.22l3.4 2.9m0 -2.9l-3.4 2.9M76.7 430.52l3.4 2.9m0 -2.9l-3.4 2.9M77.64 428.62l3.4 2.9m0 -2.9l-3.4 2.9M78.41 429.09l3.4 2.9m0 -2.9l-3.4 2.9M79.48 428.85l3.4 2.9m0 -2.9l-3.4 2.9M80.18 432.65l3.4 2.9m0 -2.9l-3.4 2.9M81.47 432.56l3.4 2.9m0 -2.9l-3.4 2.9M82.29 430.2l3.4 2.9m0 -2.9l-3.4 2.9M83.27 433.25l3.4 2.9m0 -2.9l-3.4 2.9M83.59 429.4l3.4 2.9m0 -2.9l-3.4 2.9M84.71 429.85l3.4 2.9m0 -2.9l-3.4 2.9M85.28 429l3.4 2.9m0 -2.9l-3.4 2.9M86.49 429.84l3.4 2.9m0 -2.9l-3.4 2.9M87.49 430.51l3.4 2.9m0 -2.9l-3.4 2.9M87.83 427.86l3.4 2.9m0 -2.9l-3.4 2.9M88.64 429.41l3.4 2.9m0 -2.9l-3.4 2.9M89.43 428.67l3.4 2.9m0 -2.9l-3.4 2.9M90.76 427.19l3.4 2.9m0 -2.9l-3.4 2.9M91.52 427.83l3.4 2.9m0 -2.9l-3.4 2.9M91.86 430.54l3.4 2.9m0 -2.9l-3.4 2.9M93.57 427.44l3.4 2.9m0 -2.9l-3.4 2.9M93.9 427.61l3.4 2.9m0 -2.9l-3.4 2.9M95.25 428.87l3.4 2.9m0 -2.9l-3.4 2.9M95.74 427.71l3.4 2.9m0 -2.9l-3.4 2.9M96.86 426.6l3.4 2.9m0 -2.9l-3.4 2.9M97.72 425.53l3.4 2.9m0 -2.9l-3.4 2.9M99.04 425.38l3.4 2.9m0 -2.9l-3.4 2.9M99.89 425.76l3.4 2.9m0 -2.9l-3.4 2.9M100.54 426.41l3.4 2.9m0 -2.9l-3.4 2.9M101.31 426.31l3.4 2.9m0 -2.9l-3.4 2.9M102.78 424.17l3.4 2.9m0 -2.9l-3.4 2.9M103.73 427.24l3.4 2.9m0 -2.9l-3.4 2.9M104.74 426.87l3.4 2.9m0 -2.9l-3.4 2.9M104.9 425.16l3.4 2.9m0 -2.9l-3.4 2.9M105.98 426.51l3.4 2.9m0 -2.9l-3.4 2.9M107.23 426.32l3.4 2.9m0 -2.9l-3.4 2.9M108.02 427.54l3.4 2.9m0 -2.9l-3.4 2.9M108.92 425.14l3.4 2.9m0 -2.9l-3.4 2.9M109.89 423.8l3.4 2.9m0 -2.9l-3.4 2.9M110.56 423.78l3.4 2.9m0 -2.9l-3.4 2.9M111.62 427.59l3.4 2.9m0 -2.9l-3.4 2.9M112.97 423.4l3.4 2.9m0 -2.9l-3.4 2.9M113.47 425.09l3.4 2.9m0 -2.9l-3.4 2.9M114.46 425.44l3.4 2.9m0 -2.9l-3.4 2.9M115.64 423.89l3.4 2.9m0 -2.9l-3.4 2.9M116.1 427l3.4 2.9m0 -2.9l-3.4 2.9M116.85 426.58l3.4 2.9m0 -2.9l-3.4 2.9M117.76 424.61l3.4 2.9m0 -2.9l-3.4 2.9M118.95 421.21l3.4 2.9m0 -2.9l-3.4 2.9M119.85 427.22l3.4 2.9m0 -2.9l-3.4 2.9M120.29 422.44l3.4 2.9m0 -2.9l-3.4 2.9M120.74 420.54l3.4 2.9m0 -2.9l-3.4 2.9M121.43 422l3.4 2.9m0 -2.9l-3.4 2.9M122.6 422.27l3.4 2.9m0 -2.9l-3.4 2.9M123.41 418.1l3.4 2.9m0 -2.9l-3.4 2.9M124.6 417.66l3.4 2.9m0 -2.9l-3.4 2.9M125.58 419.71l3.4 2.9m0 -2.9l-3.4 2.9M126.56 421.04l3.4 2.9m0 -2.9l-3.4 2.9M128.24 421.31l3.4 2.9m0 -2.9l-3.4 2.9M129.91 421.42l3.4 2.9m0 -2.9l-3.4 2.9M131.29 421.52l3.4 2.9m0 -2.9l-3.4 2.9M133.42 419.48l3.4 2.9m0 -2.9l-3.4 2.9M134.13 409.92l3.4 2.9m0 -2.9l-3.4 2.9M135.93 409.15l3.4 2.9m0 -2.9l-3.4 2.9M138 398.35l3.4 2.9m0 -2.9l-3.4 2.9M139.86 386.25l3.4 2.9m0 -2.9l-3.4 2.9M141.24 391.27l3.4 2.9m0 -2.9l-3.4 2.9M143.03 392.87l3.4 2.9m0 -2.9l-3.4 2.9M144.98 391.3l3.4 2.9m0 -2.9l-3.4 2.9M146.7 389.68l3.4 2.9m0 -2.9l-3.4 2.9M148.7 403.93l3.4 2.9m0 -2.9l-3.4 2.9M149.65 397.76l3.4 2.9m0 -2.9l-3.4 2.9M151.39 410.8l3.4 2.9m0 -2.9l-3.4 2.9M152.71 408.92l3.4 2.9m0 -2.9l-3.4 2.9M153.58 408.26l3.4 2.9m0 -2.9l-3.4 2.9M155.27 412.09l3.4 2.9m0 -2.9l-3.4 2.9M156.93 415.63l3.4 2.9m0 -2.9l-3.4 2.9M158.71 413.65l3.4 2.9m0 -2.9l-3.4 2.9M159.82 413.32l3.4 2.9m0 -2.9l-3.4 2.9M161.7 415.28l3.4 2.9m0 -2.9l-3.4 2.9M163.12 419.4l3.4 2.9m0 -2.9l-3.4 2.9M164.92 417.17l3.4 2.9m0 -2.9l-3.4 2.9M166.01 414.61l3.4 2.9m0 -2.9l-3.4 2.9M167.25 421.28l3.4 2.9m0 -2.9l-3.4 2.9M168.83 414.37l3.4 2.9m0 -2.9l-3.4 2.9M170.71 418.57l3.4 2.9m0 -2.9l-3.4 2.9M172.71 418.02l3.4 2.9m0 -2.9l-3.4 2.9M174.35 419.44l3.4 2.9m0 -2.9l-3.4 2.9M175.56 422.84l3.4 2.9m0 -2.9l-3.4 2.9M177.04 419.74l3.4 2.9m0 -2.9l-3.4 2.9M178.6 420.51l3.4 2.9m0 -2.9l-3.4 2.9M180.1 418.54l3.4 2.9m0 -2.9l-3.4 2.9M181.88 421.9l3.4 2.9m0 -2.9l-3.4 2.9M183.77 419.55l3.4 2.9m0 -2.9l-3.4 2.9M184.69 421.2l3.4 2.9m0 -2.9l-3.4 2.9M186.38 421.07l3.4 2.9m0 -2.9l-3.4 2.9M188.09 420.68l3.4 2.9m0 -2.9l-3.4 2.9M189.31 418.91l3.4 2.9m0 -2.9l-3.4 2.9M190.97 417.19l3.4 2.9m0 -2.9l-3.4 2.9M192.12 418.47l3.4 2.9m0 -2.9l-3.4 2.9M193.54 418.91l3.4 2.9m0 -2.9l-3.4 2.9M195.33 416.32l3.4 2.9m0 -2.9l-3.4 2.9M197.26 415.6l3.4 2.9m0 -2.9l-3.4 2.9M198.57 416.09l3.4 2.9m0 -2.9l-3.4 2.9M199.89 414.07l3.4 2.9m0 -2.9l-3.4 2.9M201.09 417.24l3.4 2.9m0 -2.9l-3.4 2.9M202.74 418.31l3.4 2.9m0 -2.9l-3.4 2.9M204.29 417.3l3.4 2.9m0 -2.9l-3.4 2.9M205.56 416.04l3.4 2.9m0 -2.9l-3.4 2.9M207.17 416.1l3.4 2.9m0 -2.9l-3.4 2.9M208.36 419.76l3.4 2.9m0 -2.9l-3.4 2.9M209.93 416.79l3.4 2.9m0 -2.9l-3.4 2.9M211.83 419.15l3.4 2.9m0 -2.9l-3.4 2.9M213.34 418.87l3.4 2.9m0 -2.9l-3.4 2.9M215.09 416.23l3.4 2.9m0 -2.9l-3.4 2.9M216.31 417.36l3.4 2.9m0 -2.9l-3.4 2.9M217.43 411.61l3.4 2.9m0 -2.9l-3.4 2.9M218.97 415.38l3.4 2.9m0 -2.9l-3.4 2.9M220.71 418.07l3.4 2.9m0 -2.9l-3.4 2.9M222.14 417.24l3.4 2.9m0 -2.9l-3.4 2.9M224.17 416.51l3.4 2.9m0 -2.9l-3.4 2.9M225.21 415.92l3.4 2.9m0 -2.9l-3.4 2.9M226.36 415.06l3.4 2.9m0 -2.9l-3.4 2.9M227.78 416.93l3.4 2.9m0 -2.9l-3.4 2.9M228.94 416.31l3.4 2.9m0 -2.9l-3.4 2.9M230.43 415.63l3.4 2.9m0 -2.9l-3.4 2.9M232.01 416.08l3.4 2.9m0 -2.9l-3.4 2.9M233.38 413.38l3.4 2.9m0 -2.9l-3.4 2.9M235.4 416.01l3.4 2.9m0 -2.9l-3.4 2.9M236.5 416.01l3.4 2.9m0 -2.9l-3.4 2.9M238.5 411.86l3.4 2.9m0 -2.9l-3.4 2.9M240.03 414.95l3.4 2.9m0 -2.9l-3.4 2.9M241.73 414.84l3.4 2.9m0 -2.9l-3.4 2.9M242.89 412.39l3.4 2.9m0 -2.9l-3.4 2.9M245.08 413.99l3.4 2.9m0 -2.9l-3.4 2.9M246.05 412.55l3.4 2.9m0 -2.9l-3.4 2.9M247.57 410.72l3.4 2.9m0 -2.9l-3.4 2.9M249.64 411.8l3.4 2.9m0 -2.9l-3.4 2.9M250.41 406.18l3.4 2.9m0 -2.9l-3.4 2.9M252.71 407.18l3.4 2.9m0 -2.9l-3.4 2.9M253.65 410.67l3.4 2.9m0 -2.9l-3.4 2.9M254.76 405.38l3.4 2.9m0 -2.9l-3.4 2.9M256.37 368.38l3.4 2.9m0 -2.9l-3.4 2.9M258 327.94l3.4 2.9m0 -2.9l-3.4 2.9M259.46 409.58l3.4 2.9m0 -2.9l-3.4 2.9M261 414.77l3.4 2.9m0 -2.9l-3.4 2.9M262.65 417.38l3.4 2.9m0 -2.9l-3.4 2.9M264.1 419.96l3.4 2.9m0 -2.9l-3.4 2.9M265.49 417.1l3.4 2.9m0 -2.9l-3.4 2.9M267.15 417.73l3.4 2.9m0 -2.9l-3.4 2.9M268.36 416.72l3.4 2.9m0 -2.9l-3.4 2.9M269.55 418.01l3.4 2.9m0 -2.9l-3.4 2.9M270.9 419.63l3.4 2.9m0 -2.9l-3.4 2.9M273.12 422.7l3.4 2.9m0 -2.9l-3.4 2.9M274.17 421.15l3.4 2.9m0 -2.9l-3.4 2.9M275.83 419.99l3.4 2.9m0 -2.9l-3.4 2.9M277.45 420.88l3.4 2.9m0 -2.9l-3.4 2.9M278.47 424.12l3.4 2.9m0 -2.9l-3.4 2.9M279.77 422.7l3.4 2.9m0 -2.9l-3.4 2.9M281.52 422.23l3.4 2.9m0 -2.9l-3.4 2.9M283.51 421.01l3.4 2.9m0 -2.9l-3.4 2.9M284.66 421.56l3.4 2.9m0 -2.9l-3.4 2.9M286.54 422.61l3.4 2.9m0 -2.9l-3.4 2.9M288.67 421.82l3.4 2.9m0 -2.9l-3.4 2.9M289.86 422.02l3.4 2.9m0 -2.9l-3.4 2.9M291.71 423.47l3.4 2.9m0 -2.9l-3.4 2.9M293.22 423.33l3.4 2.9m0 -2.9l-3.4 2.9M294.74 421.73l3.4 2.9m0 -2.9l-3.4 2.9M296.3 421.87l3.4 2.9m0 -2.9l-3.4 2.9M297.75 424.1l3.4 2.9m0 -2.9l-3.4 2.9M299.69 424.27l3.4 2.9m0 -2.9l-3.4 2.9M301.46 423.18l3.4 2.9m0 -2.9l-3.4 2.9M303.48 422.31l3.4 2.9m0 -2.9l-3.4 2.9M304.2 422.5l3.4 2.9m0 -2.9l-3.4 2.9M306.34 423.29l3.4 2.9m0 -2.9l-3.4 2.9M307.69 423.49l3.4 2.9m0 -2.9l-3.4 2.9M309.18 420.96l3.4 2.9m0 -2.9l-3.4 2.9M311.16 423.11l3.4 2.9m0 -2.9l-3.4 2.9M312.56 421.93l3.4 2.9m0 -2.9l-3.4 2.9M314.5 424.39l3.4 2.9m0 -2.9l-3.4 2.9M315.86 424.7l3.4 2.9m0 -2.9l-3.4 2.9M317.53 423.11l3.4 2.9m0 -2.9l-3.4 2.9M319.33 423.37l3.4 2.9m0 -2.9l-3.4 2.9M320.47 422.34l3.4 2.9m0 -2.9l-3.4 2.9M321.92 421.56l3.4 2.9m0 -2.9l-3.4 2.9M323.32 421.73l3.4 2.9m0 -2.9l-3.4 2.9M325.02 422.34l3.4 2.9m0 -2.9l-3.4 2.9M326.56 422.79l3.4 2.9m0 -2.9l-3.4 2.9M327.96 422.55l3.4 2.9m0 -2.9l-3.4 2.9M329.37 422.05l3.4 2.9m0 -2.9l-3.4 2.9M330.62 423.13l3.4 2.9m0 -2.9l-3.4 2.9M332.3 420.47l3.4 2.9m0 -2.9l-3.4 2.9M333.54 420.22l3.4 2.9m0 -2.9l-3.4 2.9M335.04 422.12l3.4 2.9m0 -2.9l-3.4 2.9M337.14 421.37l3.4 2.9m0 -2.9l-3.4 2.9M338.72 423.79l3.4 2.9m0 -2.9l-3.4 2.9M340.15 422.96l3.4 2.9m0 -2.9l-3.4 2.9M341.26 423.72l3.4 2.9m0 -2.9l-3.4 2.9M342.57 421.59l3.4 2.9m0 -2.9l-3.4 2.9M344.45 422.56l3.4 2.9m0 -2.9l-3.4 2.9M346.21 424.18l3.4 2.9m0 -2.9l-3.4 2.9M347.29 424.05l3.4 2.9m0 -2.9l-3.4 2.9M348.93 422.32l3.4 2.9m0 -2.9l-3.4 2.9M350.35 423l3.4 2.9m0 -2.9l-3.4 2.9M351.99 425.99l3.4 2.9m0 -2.9l-3.4 2.9M353.86 423l3.4 2.9m0 -2.9l-3.4 2.9M355.36 422.68l3.4 2.9m0 -2.9l-3.4 2.9M357.14 422.92l3.4 2.9m0 -2.9l-3.4 2.9M358.16 425.36l3.4 2.9m0 -2.9l-3.4 2.9M359.71 422.32l3.4 2.9m0 -2.9l-3.4 2.9M361.2 422.06l3.4 2.9m0 -2.9l-3.4 2.9M363.23 424.71l3.4 2.9m0 -2.9l-3.4 2.9M364.85 423.09l3.4 2.9m0 -2.9l-3.4 2.9M366.36 424.66l3.4 2.9m0 -2.9l-3.4 2.9M367.75 424.82l3.4 2.9m0 -2.9l-3.4 2.9M368.79 419.32l3.4 2.9m0 -2.9l-3.4 2.9M370.66 422.82l3.4 2.9m0 -2.9l-3.4 2.9M372.13 422.48l3.4 2.9m0 -2.9l-3.4 2.9M374.6 425.07l3.4 2.9m0 -2.9l-3.4 2.9M376.16 422.41l3.4 2.9m0 -2.9l-3.4 2.9M377.64 423.74l3.4 2.9m0 -2.9l-3.4 2.9M379.22 424.54l3.4 2.9m0 -2.9l-3.4 2.9M380.99 423.2l3.4 2.9m0 -2.9l-3.4 2.9M382.37 419.9l3.4 2.9m0 -2.9l-3.4 2.9M383.77 423.05l3.4 2.9m0 -2.9l-3.4 2.9M385.77 422.36l3.4 2.9m0 -2.9l-3.4 2.9M387.16 423.23l3.4 2.9m0 -2.9l-3.4 2.9M388.69 421.81l3.4 2.9m0 -2.9l-3.4 2.9M389.91 423.99l3.4 2.9m0 -2.9l-3.4 2.9M391.56 424.05l3.4 2.9m0 -2.9l-3.4 2.9M392.82 422.83l3.4 2.9m0 -2.9l-3.4 2.9M394.64 424.15l3.4 2.9m0 -2.9l-3.4 2.9M396.34 421.15l3.4 2.9m0 -2.9l-3.4 2.9M397.89 422.55l3.4 2.9m0 -2.9l-3.4 2.9M400.2 421.79l3.4 2.9m0 -2.9l-3.4 2.9M401.53 423.51l3.4 2.9m0 -2.9l-3.4 2.9M403.56 424.68l3.4 2.9m0 -2.9l-3.4 2.9M405.45 423.22l3.4 2.9m0 -2.9l-3.4 2.9M407.32 422.22l3.4 2.9m0 -2.9l-3.4 2.9M408.12 424.44l3.4 2.9m0 -2.9l-3.4 2.9M409.76 422.68l3.4 2.9m0 -2.9l-3.4 2.9M411.03 422.75l3.4 2.9m0 -2.9l-3.4 2.9M413.1 423.91l3.4 2.9m0 -2.9l-3.4 2.9M414.53 425.55l3.4 2.9m0 -2.9l-3.4 2.9M416.45 424.64l3.4 2.9m0 -2.9l-3.4 2.9M417.85 424.02l3.4 2.9m0 -2.9l-3.4 2.9M419.47 423.13l3.4 2.9m0 -2.9l-3.4 2.9M420.86 423.17l3.4 2.9m0 -2.9l-3.4 2.9M422.99 424.01l3.4 2.9m0 -2.9l-3.4 2.9M424.68 422.02l3.4 2.9m0 -2.9l-3.4 2.9M426.56 423.47l3.4 2.9m0 -2.9l-3.4 2.9M428.08 421.32l3.4 2.9m0 -2.9l-3.4 2.9M430.46 425.17l3.4 2.9m0 -2.9l-3.4 2.9M432.46 424.02l3.4 2.9m0 -2.9l-3.4 2.9M433.76 424.98l3.4 2.9m0 -2.9l-3.4 2.9M434.89 423.98l3.4 2.9m0 -2.9l-3.4 2.9M436.68 421.91l3.4 2.9m0 -2.9l-3.4 2.9M437.79 421.81l3.4 2.9m0 -2.9l-3.4 2.9M439.12 424.73l3.4 2.9m0 -2.9l-3.4 2.9M440.94 423.09l3.4 2.9m0 -2.9l-3.4 2.9M442.73 423.95l3.4 2.9m0 -2.9l-3.4 2.9M444.19 422.61l3.4 2.9m0 -2.9l-3.4 2.9M446.45 423.69l3.4 2.9m0 -2.9l-3.4 2.9M447.99 425.6l3.4 2.9m0 -2.9l-3.4 2.9M450.29 421.89l3.4 2.9m0 -2.9l-3.4 2.9M452.02 423.8l3.4 2.9m0 -2.9l-3.4 2.9M453.91 425.02l3.4 2.9m0 -2.9l-3.4 2.9M454.98 421.05l3.4 2.9m0 -2.9l-3.4 2.9M456.81 423.77l3.4 2.9m0 -2.9l-3.4 2.9M458.29 418.84l3.4 2.9m0 -2.9l-3.4 2.9M459.29 421.47l3.4 2.9m0 -2.9l-3.4 2.9M460.89 423.81l3.4 2.9m0 -2.9l-3.4 2.9M462.55 421.43l3.4 2.9m0 -2.9l-3.4 2.9M463.43 422.68l3.4 2.9m0 -2.9l-3.4 2.9M464.7 424.65l3.4 2.9m0 -2.9l-3.4 2.9M465.87 424.49l3.4 2.9m0 -2.9l-3.4 2.9M468.21 423.1l3.4 2.9m0 -2.9l-3.4 2.9M469.33 421.36l3.4 2.9m0 -2.9l-3.4 2.9M471.11 423.39l3.4 2.9m0 -2.9l-3.4 2.9M472.83 424.63l3.4 2.9m0 -2.9l-3.4 2.9M474.9 424.02l3.4 2.9m0 -2.9l-3.4 2.9M476.04 425.28l3.4 2.9m0 -2.9l-3.4 2.9M477.39 423.85l3.4 2.9m0 -2.9l-3.4 2.9M479.18 421.85l3.4 2.9m0 -2.9l-3.4 2.9M480.42 422.67l3.4 2.9m0 -2.9l-3.4 2.9M482.41 420.48l3.4 2.9m0 -2.9l-3.4 2.9M484.21 422.88l3.4 2.9m0 -2.9l-3.4 2.9M484.93 424.61l3.4 2.9m0 -2.9l-3.4 2.9M486.53 424.89l3.4 2.9m0 -2.9l-3.4 2.9M488.47 424.06l3.4 2.9m0 -2.9l-3.4 2.9M490.14 422.68l3.4 2.9m0 -2.9l-3.4 2.9M491.45 425l3.4 2.9m0 -2.9l-3.4 2.9M493.04 423.8l3.4 2.9m0 -2.9l-3.4 2.9M494.8 424.22l3.4 2.9m0 -2.9l-3.4 2.9M496.42 421.31l3.4 2.9m0 -2.9l-3.4 2.9M498.7 420.97l3.4 2.9m0 -2.9l-3.4 2.9M499.54 423.62l3.4 2.9m0 -2.9l-3.4 2.9M501.32 421.26l3.4 2.9m0 -2.9l-3.4 2.9M502.62 422.59l3.4 2.9m0 -2.9l-3.4 2.9M503.9 425.2l3.4 2.9m0 -2.9l-3.4 2.9M505.38 421.35l3.4 2.9m0 -2.9l-3.4 2.9M506.48 420.19l3.4 2.9m0 -2.9l-3.4 2.9M508.65 421.19l3.4 2.9m0 -2.9l-3.4 2.9M510.57 422.57l3.4 2.9m0 -2.9l-3.4 2.9M512.24 420.18l3.4 2.9m0 -2.9l-3.4 2.9M513.8 418.77l3.4 2.9m0 -2.9l-3.4 2.9M515.13 420.78l3.4 2.9m0 -2.9l-3.4 2.9M516.5 416.81l3.4 2.9m0 -2.9l-3.4 2.9M518.09 418.79l3.4 2.9m0 -2.9l-3.4 2.9M520.19 416.24l3.4 2.9m0 -2.9l-3.4 2.9M521.78 417.32l3.4 2.9m0 -2.9l-3.4 2.9M523.28 414.52l3.4 2.9m0 -2.9l-3.4 2.9M524.71 412.53l3.4 2.9m0 -2.9l-3.4 2.9M526.91 412.73l3.4 2.9m0 -2.9l-3.4 2.9M528.91 415.96l3.4 2.9m0 -2.9l-3.4 2.9M530.17 414.69l3.4 2.9m0 -2.9l-3.4 2.9M531.4 417.2l3.4 2.9m0 -2.9l-3.4 2.9M532.99 417.12l3.4 2.9m0 -2.9l-3.4 2.9M534.8 418.54l3.4 2.9m0 -2.9l-3.4 2.9M536.39 417.18l3.4 2.9m0 -2.9l-3.4 2.9M537.57 420.53l3.4 2.9m0 -2.9l-3.4 2.9M539.51 419.09l3.4 2.9m0 -2.9l-3.4 2.9M541.22 418.99l3.4 2.9m0 -2.9l-3.4 2.9M542.98 418.56l3.4 2.9m0 -2.9l-3.4 2.9M544.29 418.92l3.4 2.9m0 -2.9l-3.4 2.9M546.35 417.59l3.4 2.9m0 -2.9l-3.4 2.9M547.25 420l3.4 2.9m0 -2.9l-3.4 2.9M549.37 417.87l3.4 2.9m0 -2.9l-3.4 2.9M550.41 417.78l3.4 2.9m0 -2.9l-3.4 2.9M552.35 419.46l3.4 2.9m0 -2.9l-3.4 2.9M553.94 418.09l3.4 2.9m0 -2.9l-3.4 2.9M555.85 414.76l3.4 2.9m0 -2.9l-3.4 2.9M557.41 418.17l3.4 2.9m0 -2.9l-3.4 2.9M559.02 416.38l3.4 2.9m0 -2.9l-3.4 2.9M560.59 418.65l3.4 2.9m0 -2.9l-3.4 2.9M562.23 416.54l3.4 2.9m0 -2.9l-3.4 2.9M563.54 417.18l3.4 2.9m0 -2.9l-3.4 2.9M564.91 415.38l3.4 2.9m0 -2.9l-3.4 2.9M566.5 409.68l3.4 2.9m0 -2.9l-3.4 2.9M568.68 392.6l3.4 2.9m0 -2.9l-3.4 2.9M569.93 412.87l3.4 2.9m0 -2.9l-3.4 2.9M571.72 413.35l3.4 2.9m0 -2.9l-3.4 2.9M572.86 419.87l3.4 2.9m0 -2.9l-3.4 2.9M574.91 416.53l3.4 2.9m0 -2.9l-3.4 2.9M576.1 414.54l3.4 2.9m0 -2.9l-3.4 2.9M576.97 419.68l3.4 2.9m0 -2.9l-3.4 2.9M578.9 416.24l3.4 2.9m0 -2.9l-3.4 2.9M580.44 415.22l3.4 2.9m0 -2.9l-3.4 2.9M582.26 417.66l3.4 2.9m0 -2.9l-3.4 2.9M583.62 415.3l3.4 2.9m0 -2.9l-3.4 2.9M585.73 414.14l3.4 2.9m0 -2.9l-3.4 2.9M587.16 417.65l3.4 2.9m0 -2.9l-3.4 2.9M589.21 418.53l3.4 2.9m0 -2.9l-3.4 2.9M590.52 415.69l3.4 2.9m0 -2.9l-3.4 2.9M592.15 415.34l3.4 2.9m0 -2.9l-3.4 2.9M593.31 417.78l3.4 2.9m0 -2.9l-3.4 2.9M595.66 414.66l3.4 2.9m0 -2.9l-3.4 2.9M597.19 413.49l3.4 2.9m0 -2.9l-3.4 2.9M598.26 415.49l3.4 2.9m0 -2.9l-3.4 2.9M600.06 416.67l3.4 2.9m0 -2.9l-3.4 2.9M601.66 418.23l3.4 2.9m0 -2.9l-3.4 2.9M603.06 423.07l3.4 2.9m0 -2.9l-3.4 2.9M605.06 419.61l3.4 2.9m0 -2.9l-3.4 2.9M606.14 419.77l3.4 2.9m0 -2.9l-3.4 2.9M608.15 423.27l3.4 2.9m0 -2.9l-3.4 2.9M609.15 419.36l3.4 2.9m0 -2.9l-3.4 2.9M611.02 421.92l3.4 2.9m0 -2.9l-3.4 2.9M612.4 422.15l3.4 2.9m0 -2.9l-3.4 2.9M613.79 421.96l3.4 2.9m0 -2.9l-3.4 2.9M615.42 418.82l3.4 2.9m0 -2.9l-3.4 2.9M616.72 419.88l3.4 2.9m0 -2.9l-3.4 2.9M617.92 419.25l3.4 2.9m0 -2.9l-3.4 2.9M618.99 421.02l3.4 2.9m0 -2.9l-3.4 2.9M620.41 419.96l3.4 2.9m0 -2.9l-3.4 2.9M621.71 421.95l3.4 2.9m0 -2.9l-3.4 2.9M622.79 420.99l3.4 2.9m0 -2.9l-3.4 2.9M624.68 422.5l3.4 2.9m0 -2.9l-3.4 2.9M625.69 422l3.4 2.9m0 -2.9l-3.4 2.9M626.86 421.12l3.4 2.9m0 -2.9l-3.4 2.9M629.03 423.34l3.4 2.9m0 -2.9l-3.4 2.9M630.45 421.79l3.4 2.9m0 -2.9l-3.4 2.9M631.97 421.46l3.4 2.9m0 -2.9l-3.4 2.9M633.92 421.64l3.4 2.9m0 -2.9l-3.4 2.9M635.23 422.77l3.4 2.9m0 -2.9l-3.4 2.9M636.9 421.02l3.4 2.9m0 -2.9l-3.4 2.9M639 423.87l3.4 2.9m0 -2.9l-3.4 2.9M640.56 421.03l3.4 2.9m0 -2.9l-3.4 2.9M642.27 421.71l3.4 2.9m0 -2.9l-3.4 2.9M643.74 422.83l3.4 2.9m0 -2.9l-3.4 2.9M645.11 421.4l3.4 2.9m0 -2.9l-3.4 2.9M646.36 421.09l3.4 2.9m0 -2.9l-3.4 2.9M647.88 421.55l3.4 2.9m0 -2.9l-3.4 2.9M648.97 420.44l3.4 2.9m0 -2.9l-3.4 2.9M651.33 421.57l3.4 2.9m0 -2.9l-3.4 2.9M652.34 421.53l3.4 2.9m0 -2.9l-3.4 2.9M653.94 421.32l3.4 2.9m0 -2.9l-3.4 2.9M654.97 421.23l3.4 2.9m0 -2.9l-3.4 2.9M656.91 424.44l3.4 2.9m0 -2.9l-3.4 2.9M658.58 421.93l3.4 2.9m0 -2.9l-3.4 2.9M660.47 421.78l3.4 2.9m0 -2.9l-3.4 2.9M662.09 423.66l3.4 2.9m0 -2.9l-3.4 2.9M663.89 420.93l3.4 2.9m0 -2.9l-3.4 2.9M665.51 423.04l3.4 2.9m0 -2.9l-3.4 2.9M666.68 421.08l3.4 2.9m0 -2.9l-3.4 2.9M668.61 423.05l3.4 2.9m0 -2.9l-3.4 2.9M670.05 421.87l3.4 2.9m0 -2.9l-3.4 2.9M671.41 421.66l3.4 2.9m0 -2.9l-3.4 2.9M673.3 419.72l3.4 2.9m0 -2.9l-3.4 2.9M675.05 421.03l3.4 2.9m0 -2.9l-3.4 2.9M676.38 421.91l3.4 2.9m0 -2.9l-3.4 2.9M677.53 421.51l3.4 2.9m0 -2.9l-3.4 2.9M679.12 420.44l3.4 2.9m0 -2.9l-3.4 2.9M680.77 420.06l3.4 2.9m0 -2.9l-3.4 2.9M681.78 421.32l3.4 2.9m0 -2.9l-3.4 2.9M683.33 421.05l3.4 2.9m0 -2.9l-3.4 2.9M685.22 421.75l3.4 2.9m0 -2.9l-3.4 2.9M687.68 421.04l3.4 2.9m0 -2.9l-3.4 2.9M689.26 418.95l3.4 2.9m0 -2.9l-3.4 2.9M690.84 366.01l3.4 2.9m0 -2.9l-3.4 2.9M692.49 385.83l3.4 2.9m0 -2.9l-3.4 2.9M694.01 421.21l3.4 2.9m0 -2.9l-3.4 2.9M696.16 418.27l3.4 2.9m0 -2.9l-3.4 2.9M697.53 419.53l3.4 2.9m0 -2.9l-3.4 2.9M699.15 424.2l3.4 2.9m0 -2.9l-3.4 2.9M700.11 420.61l3.4 2.9m0 -2.9l-3.4 2.9M701.48 420.38l3.4 2.9m0 -2.9l-3.4 2.9M702.98 420.18l3.4 2.9m0 -2.9l-3.4 2.9M704.65 419.84l3.4 2.9m0 -2.9l-3.4 2.9M706.15 419.92l3.4 2.9m0 -2.9l-3.4 2.9M707.67 421.45l3.4 2.9m0 -2.9l-3.4 2.9M709.17 420.29l3.4 2.9m0 -2.9l-3.4 2.9M710.59 419l3.4 2.9m0 -2.9l-3.4 2.9M711.83 421.11l3.4 2.9m0 -2.9l-3.4 2.9M714.22 420.04l3.4 2.9m0 -2.9l-3.4 2.9M715.11 420.96l3.4 2.9m0 -2.9l-3.4 2.9M716.35 421.27l3.4 2.9m0 -2.9l-3.4 2.9M717.6 421.34l3.4 2.9m0 -2.9l-3.4 2.9M719.42 421.6l3.4 2.9m0 -2.9l-3.4 2.9M720.73 420.26l3.4 2.9m0 -2.9l-3.4 2.9M721.7 420.37l3.4 2.9m0 -2.9l-3.4 2.9M723.28 418.7l3.4 2.9m0 -2.9l-3.4 2.9M724.83 421.54l3.4 2.9m0 -2.9l-3.4 2.9M726.37 417.56l3.4 2.9m0 -2.9l-3.4 2.9M727.86 418.06l3.4 2.9m0 -2.9l-3.4 2.9M728.92 417.15l3.4 2.9m0 -2.9l-3.4 2.9M730.98 419.29l3.4 2.9m0 -2.9l-3.4 2.9M732.42 420.35l3.4 2.9m0 -2.9l-3.4 2.9M733.93 420.77l3.4 2.9m0 -2.9l-3.4 2.9M735.29 420.09l3.4 2.9m0 -2.9l-3.4 2.9M736.75 420.23l3.4 2.9m0 -2.9l-3.4 2.9M737.83 419.24l3.4 2.9m0 -2.9l-3.4 2.9M739.52 416.91l3.4 2.9m0 -2.9l-3.4 2.9M740.92 418.25l3.4 2.9m0 -2.9l-3.4 2.9M742.53 424.23l3.4 2.9m0 -2.9l-3.4 2.9M735.1 411.26l3.4 2.9m0 -2.9l-3.4 2.9M742.3 410.91l3.4 2.9m0 -2.9l-3.4 2.9M47.3 431.09l3.4 2.9m0 -2.9l-3.4 2.9M48.71 430.17l3.4 2.9m0 -2.9l-3.4 2.9M50.21 430.5l3.4 2.9m0 -2.9l-3.4 2.9M51.87 431.3l3.4 2.9m0 -2.9l-3.4 2.9M53.89 432.82l3.4 2.9m0 -2.9l-3.4 2.9M55.68 431.11l3.4 2.9m0 -2.9l-3.4 2.9M57.39 431.07l3.4 2.9m0 -2.9l-3.4 2.9M59.67 431l3.4 2.9m0 -2.9l-3.4 2.9M61.32 431.67l3.4 2.9m0 -2.9l-3.4 2.9M62.7 429.51l3.4 2.9m0 -2.9l-3.4 2.9M64.69 429.92l3.4 2.9m0 -2.9l-3.4 2.9M67.03 431.15l3.4 2.9m0 -2.9l-3.4 2.9M68.86 430.2l3.4 2.9m0 -2.9l-3.4 2.9M70.55 431.48l3.4 2.9m0 -2.9l-3.4 2.9M72.07 429.62l3.4 2.9m0 -2.9l-3.4 2.9M74.46 430.24l3.4 2.9m0 -2.9l-3.4 2.9M76.3 432.4l3.4 2.9m0 -2.9l-3.4 2.9M78.23 429.67l3.4 2.9m0 -2.9l-3.4 2.9M80.6 430.61l3.4 2.9m0 -2.9l-3.4 2.9M82.9 429.21l3.4 2.9m0 -2.9l-3.4 2.9M84.3 429.18l3.4 2.9m0 -2.9l-3.4 2.9M86.68 430.74l3.4 2.9m0 -2.9l-3.4 2.9M89.01 428.23l3.4 2.9m0 -2.9l-3.4 2.9M90.24 429.27l3.4 2.9m0 -2.9l-3.4 2.9M92 428.46l3.4 2.9m0 -2.9l-3.4 2.9M93.71 428.88l3.4 2.9m0 -2.9l-3.4 2.9M95.02 428.21l3.4 2.9m0 -2.9l-3.4 2.9M96.61 427.75l3.4 2.9m0 -2.9l-3.4 2.9M98.44 426.8l3.4 2.9m0 -2.9l-3.4 2.9M99.71 424.88l3.4 2.9m0 -2.9l-3.4 2.9M101.16 427.17l3.4 2.9m0 -2.9l-3.4 2.9M103.28 425.26l3.4 2.9m0 -2.9l-3.4 2.9M104.9 427.88l3.4 2.9m0 -2.9l-3.4 2.9M106.26 429.93l3.4 2.9m0 -2.9l-3.4 2.9M108.5 428.52l3.4 2.9m0 -2.9l-3.4 2.9M110.43 427.76l3.4 2.9m0 -2.9l-3.4 2.9M112.12 425.24l3.4 2.9m0 -2.9l-3.4 2.9M113.53 425.22l3.4 2.9m0 -2.9l-3.4 2.9M114.94 424.7l3.4 2.9m0 -2.9l-3.4 2.9M116.81 424.02l3.4 2.9m0 -2.9l-3.4 2.9M118.94 423.43l3.4 2.9m0 -2.9l-3.4 2.9M120.28 427.64l3.4 2.9m0 -2.9l-3.4 2.9M122.46 420.41l3.4 2.9m0 -2.9l-3.4 2.9M124.01 418.47l3.4 2.9m0 -2.9l-3.4 2.9M125.91 417.72l3.4 2.9m0 -2.9l-3.4 2.9M127.59 420.08l3.4 2.9m0 -2.9l-3.4 2.9M129.78 422.59l3.4 2.9m0 -2.9l-3.4 2.9M131.42 417.86l3.4 2.9m0 -2.9l-3.4 2.9M132.73 414.09l3.4 2.9m0 -2.9l-3.4 2.9M134.8 417.39l3.4 2.9m0 -2.9l-3.4 2.9M136.48 407.69l3.4 2.9m0 -2.9l-3.4 2.9M138.46 389.56l3.4 2.9m0 -2.9l-3.4 2.9M140.45 394.67l3.4 2.9m0 -2.9l-3.4 2.9M142.51 377.05l3.4 2.9m0 -2.9l-3.4 2.9M143.97 388.09l3.4 2.9m0 -2.9l-3.4 2.9M145.47 403.66l3.4 2.9m0 -2.9l-3.4 2.9M147.03 397.9l3.4 2.9m0 -2.9l-3.4 2.9M148.76 403.6l3.4 2.9m0 -2.9l-3.4 2.9M151.11 406.19l3.4 2.9m0 -2.9l-3.4 2.9M153.4 403.36l3.4 2.9m0 -2.9l-3.4 2.9M155.65 409.71l3.4 2.9m0 -2.9l-3.4 2.9M157.97 417.36l3.4 2.9m0 -2.9l-3.4 2.9M159.47 411.23l3.4 2.9m0 -2.9l-3.4 2.9M161.46 416.36l3.4 2.9m0 -2.9l-3.4 2.9M163.4 416.63l3.4 2.9m0 -2.9l-3.4 2.9M165.32 414.29l3.4 2.9m0 -2.9l-3.4 2.9M167.71 418.92l3.4 2.9m0 -2.9l-3.4 2.9M169.36 420.24l3.4 2.9m0 -2.9l-3.4 2.9M171.63 420.85l3.4 2.9m0 -2.9l-3.4 2.9M173.66 418.11l3.4 2.9m0 -2.9l-3.4 2.9M176.02 419.78l3.4 2.9m0 -2.9l-3.4 2.9M177.42 418.86l3.4 2.9m0 -2.9l-3.4 2.9M179.39 421.9l3.4 2.9m0 -2.9l-3.4 2.9M181.63 422.13l3.4 2.9m0 -2.9l-3.4 2.9M183.11 418.73l3.4 2.9m0 -2.9l-3.4 2.9M184.79 420.41l3.4 2.9m0 -2.9l-3.4 2.9M186.12 419.09l3.4 2.9m0 -2.9l-3.4 2.9M187.7 418.71l3.4 2.9m0 -2.9l-3.4 2.9M189.7 418.32l3.4 2.9m0 -2.9l-3.4 2.9M191.85 418.93l3.4 2.9m0 -2.9l-3.4 2.9M193.58 416.73l3.4 2.9m0 -2.9l-3.4 2.9M195.67 414.62l3.4 2.9m0 -2.9l-3.4 2.9M197.43 419.8l3.4 2.9m0 -2.9l-3.4 2.9M199.38 417.77l3.4 2.9m0 -2.9l-3.4 2.9M201.5 417.05l3.4 2.9m0 -2.9l-3.4 2.9M202.73 418.38l3.4 2.9m0 -2.9l-3.4 2.9M204.05 418.24l3.4 2.9m0 -2.9l-3.4 2.9M206.41 415.65l3.4 2.9m0 -2.9l-3.4 2.9M208.11 419.58l3.4 2.9m0 -2.9l-3.4 2.9M210.45 416.9l3.4 2.9m0 -2.9l-3.4 2.9M212.35 419.33l3.4 2.9m0 -2.9l-3.4 2.9M214.74 415.47l3.4 2.9m0 -2.9l-3.4 2.9M219.89 419.44l3.4 2.9m0 -2.9l-3.4 2.9M221.65 417.67l3.4 2.9m0 -2.9l-3.4 2.9M223 416.56l3.4 2.9m0 -2.9l-3.4 2.9M225.22 414.09l3.4 2.9m0 -2.9l-3.4 2.9M227.26 421.72l3.4 2.9m0 -2.9l-3.4 2.9M228.68 415.23l3.4 2.9m0 -2.9l-3.4 2.9M230.18 417.05l3.4 2.9m0 -2.9l-3.4 2.9M232.45 413.13l3.4 2.9m0 -2.9l-3.4 2.9M234.1 412.66l3.4 2.9m0 -2.9l-3.4 2.9M235.88 418.57l3.4 2.9m0 -2.9l-3.4 2.9M238.15 411.69l3.4 2.9m0 -2.9l-3.4 2.9M239.55 414.67l3.4 2.9m0 -2.9l-3.4 2.9M240.84 412.52l3.4 2.9m0 -2.9l-3.4 2.9M242.06 409.81l3.4 2.9m0 -2.9l-3.4 2.9M243.66 413.83l3.4 2.9m0 -2.9l-3.4 2.9M245.74 410.98l3.4 2.9m0 -2.9l-3.4 2.9M247.62 413.76l3.4 2.9m0 -2.9l-3.4 2.9M249.52 410.5l3.4 2.9m0 -2.9l-3.4 2.9M251.22 407.99l3.4 2.9m0 -2.9l-3.4 2.9M252.48 406.8l3.4 2.9m0 -2.9l-3.4 2.9M253.72 410.63l3.4 2.9m0 -2.9l-3.4 2.9M260.33 412.41l3.4 2.9m0 -2.9l-3.4 2.9M261.72 419.26l3.4 2.9m0 -2.9l-3.4 2.9M263.42 416.13l3.4 2.9m0 -2.9l-3.4 2.9M265.58 417.07l3.4 2.9m0 -2.9l-3.4 2.9M267.11 417.66l3.4 2.9m0 -2.9l-3.4 2.9M268.75 419.9l3.4 2.9m0 -2.9l-3.4 2.9M270.62 419.82l3.4 2.9m0 -2.9l-3.4 2.9M272.67 421.48l3.4 2.9m0 -2.9l-3.4 2.9M273.96 422.41l3.4 2.9m0 -2.9l-3.4 2.9M275.98 420.94l3.4 2.9m0 -2.9l-3.4 2.9M277.36 423.49l3.4 2.9m0 -2.9l-3.4 2.9M278.66 420.91l3.4 2.9m0 -2.9l-3.4 2.9M280.06 423.36l3.4 2.9m0 -2.9l-3.4 2.9M282.31 422.15l3.4 2.9m0 -2.9l-3.4 2.9M284.42 423.92l3.4 2.9m0 -2.9l-3.4 2.9M286.35 422.42l3.4 2.9m0 -2.9l-3.4 2.9M287.96 421.89l3.4 2.9m0 -2.9l-3.4 2.9M289.91 422.05l3.4 2.9m0 -2.9l-3.4 2.9M291.25 421.67l3.4 2.9m0 -2.9l-3.4 2.9M293.04 420.44l3.4 2.9m0 -2.9l-3.4 2.9M294.26 423.03l3.4 2.9m0 -2.9l-3.4 2.9M295.91 422.92l3.4 2.9m0 -2.9l-3.4 2.9M298.06 423.28l3.4 2.9m0 -2.9l-3.4 2.9M299.55 424.91l3.4 2.9m0 -2.9l-3.4 2.9M301.79 421.96l3.4 2.9m0 -2.9l-3.4 2.9M303.09 421.67l3.4 2.9m0 -2.9l-3.4 2.9M305.3 425.16l3.4 2.9m0 -2.9l-3.4 2.9M307.43 423.54l3.4 2.9m0 -2.9l-3.4 2.9M308.68 421.95l3.4 2.9m0 -2.9l-3.4 2.9M310.36 422.99l3.4 2.9m0 -2.9l-3.4 2.9M312.69 422.05l3.4 2.9m0 -2.9l-3.4 2.9M314.95 422.4l3.4 2.9m0 -2.9l-3.4 2.9M316.29 423.81l3.4 2.9m0 -2.9l-3.4 2.9M318.01 421.75l3.4 2.9m0 -2.9l-3.4 2.9M319.94 422.32l3.4 2.9m0 -2.9l-3.4 2.9M321.52 423.45l3.4 2.9m0 -2.9l-3.4 2.9M323.71 421.91l3.4 2.9m0 -2.9l-3.4 2.9M324.95 422.22l3.4 2.9m0 -2.9l-3.4 2.9M326.81 424.54l3.4 2.9m0 -2.9l-3.4 2.9M328.84 420.41l3.4 2.9m0 -2.9l-3.4 2.9M330.39 422.67l3.4 2.9m0 -2.9l-3.4 2.9M332.07 425.72l3.4 2.9m0 -2.9l-3.4 2.9M333.54 423.21l3.4 2.9m0 -2.9l-3.4 2.9M335.37 422.14l3.4 2.9m0 -2.9l-3.4 2.9M337.35 423.09l3.4 2.9m0 -2.9l-3.4 2.9M338.74 424.29l3.4 2.9m0 -2.9l-3.4 2.9M340.62 423.61l3.4 2.9m0 -2.9l-3.4 2.9M341.86 422.25l3.4 2.9m0 -2.9l-3.4 2.9M343.27 420.47l3.4 2.9m0 -2.9l-3.4 2.9M344.83 422.1l3.4 2.9m0 -2.9l-3.4 2.9M346.73 423.14l3.4 2.9m0 -2.9l-3.4 2.9M348.45 421.27l3.4 2.9m0 -2.9l-3.4 2.9M350.25 423.05l3.4 2.9m0 -2.9l-3.4 2.9M352.57 422.61l3.4 2.9m0 -2.9l-3.4 2.9M354.48 423.18l3.4 2.9m0 -2.9l-3.4 2.9M356.09 421.21l3.4 2.9m0 -2.9l-3.4 2.9M357.4 421.03l3.4 2.9m0 -2.9l-3.4 2.9M359.2 422.94l3.4 2.9m0 -2.9l-3.4 2.9M360.65 421.49l3.4 2.9m0 -2.9l-3.4 2.9M362.88 423.91l3.4 2.9m0 -2.9l-3.4 2.9M365.04 422.81l3.4 2.9m0 -2.9l-3.4 2.9M366.4 423.22l3.4 2.9m0 -2.9l-3.4 2.9M368.61 422.32l3.4 2.9m0 -2.9l-3.4 2.9M370.12 422.91l3.4 2.9m0 -2.9l-3.4 2.9M371.92 424.7l3.4 2.9m0 -2.9l-3.4 2.9M374.17 424.09l3.4 2.9m0 -2.9l-3.4 2.9M376 423.47l3.4 2.9m0 -2.9l-3.4 2.9M378.02 424.6l3.4 2.9m0 -2.9l-3.4 2.9M379.31 422.55l3.4 2.9m0 -2.9l-3.4 2.9M380.81 423.18l3.4 2.9m0 -2.9l-3.4 2.9M382.23 424.44l3.4 2.9m0 -2.9l-3.4 2.9M384.39 423.01l3.4 2.9m0 -2.9l-3.4 2.9M385.66 423.3l3.4 2.9m0 -2.9l-3.4 2.9M387.09 422.41l3.4 2.9m0 -2.9l-3.4 2.9M388.61 423.09l3.4 2.9m0 -2.9l-3.4 2.9M390.92 423.49l3.4 2.9m0 -2.9l-3.4 2.9M392.47 421.85l3.4 2.9m0 -2.9l-3.4 2.9M394.54 422.64l3.4 2.9m0 -2.9l-3.4 2.9M395.91 422.77l3.4 2.9m0 -2.9l-3.4 2.9M397.48 423.63l3.4 2.9m0 -2.9l-3.4 2.9M399.81 422.21l3.4 2.9m0 -2.9l-3.4 2.9M401.05 423.36l3.4 2.9m0 -2.9l-3.4 2.9M403.25 421.89l3.4 2.9m0 -2.9l-3.4 2.9M404.9 424.23l3.4 2.9m0 -2.9l-3.4 2.9M406.55 422.72l3.4 2.9m0 -2.9l-3.4 2.9M408.4 423.5l3.4 2.9m0 -2.9l-3.4 2.9M409.81 423.8l3.4 2.9m0 -2.9l-3.4 2.9M411.28 425.05l3.4 2.9m0 -2.9l-3.4 2.9M412.56 424.97l3.4 2.9m0 -2.9l-3.4 2.9M413.76 422.56l3.4 2.9m0 -2.9l-3.4 2.9M415.79 422.69l3.4 2.9m0 -2.9l-3.4 2.9M418.16 424.43l3.4 2.9m0 -2.9l-3.4 2.9M420.41 422.61l3.4 2.9m0 -2.9l-3.4 2.9M422.53 422.76l3.4 2.9m0 -2.9l-3.4 2.9M424.59 424.09l3.4 2.9m0 -2.9l-3.4 2.9M426.76 423.68l3.4 2.9m0 -2.9l-3.4 2.9M429.07 422.65l3.4 2.9m0 -2.9l-3.4 2.9M430.54 423.81l3.4 2.9m0 -2.9l-3.4 2.9M432.79 423.04l3.4 2.9m0 -2.9l-3.4 2.9M434.73 423.49l3.4 2.9m0 -2.9l-3.4 2.9M436.47 422.23l3.4 2.9m0 -2.9l-3.4 2.9M437.69 423.57l3.4 2.9m0 -2.9l-3.4 2.9M439.35 424.04l3.4 2.9m0 -2.9l-3.4 2.9M441.43 423.97l3.4 2.9m0 -2.9l-3.4 2.9M443.72 421.51l3.4 2.9m0 -2.9l-3.4 2.9M445.76 426.07l3.4 2.9m0 -2.9l-3.4 2.9M447.35 422.28l3.4 2.9m0 -2.9l-3.4 2.9M449.74 424.75l3.4 2.9m0 -2.9l-3.4 2.9M451.99 424.48l3.4 2.9m0 -2.9l-3.4 2.9M453.31 424.03l3.4 2.9m0 -2.9l-3.4 2.9M454.6 421.49l3.4 2.9m0 -2.9l-3.4 2.9M456.91 424.91l3.4 2.9m0 -2.9l-3.4 2.9M459.3 414.87l3.4 2.9m0 -2.9l-3.4 2.9M460.6 421.89l3.4 2.9m0 -2.9l-3.4 2.9M462.56 423.54l3.4 2.9m0 -2.9l-3.4 2.9M464.8 423.16l3.4 2.9m0 -2.9l-3.4 2.9M466.79 422.06l3.4 2.9m0 -2.9l-3.4 2.9M468.68 422.35l3.4 2.9m0 -2.9l-3.4 2.9M470.15 424.04l3.4 2.9m0 -2.9l-3.4 2.9M472.15 423.97l3.4 2.9m0 -2.9l-3.4 2.9M473.86 424.04l3.4 2.9m0 -2.9l-3.4 2.9M476.19 424.39l3.4 2.9m0 -2.9l-3.4 2.9M478.37 421.47l3.4 2.9m0 -2.9l-3.4 2.9M480.4 421.67l3.4 2.9m0 -2.9l-3.4 2.9M481.73 423.5l3.4 2.9m0 -2.9l-3.4 2.9M483.94 423.35l3.4 2.9m0 -2.9l-3.4 2.9M485.25 424.53l3.4 2.9m0 -2.9l-3.4 2.9M486.77 424.16l3.4 2.9m0 -2.9l-3.4 2.9M489.16 423.27l3.4 2.9m0 -2.9l-3.4 2.9M490.55 423.14l3.4 2.9m0 -2.9l-3.4 2.9M492.65 422.29l3.4 2.9m0 -2.9l-3.4 2.9M494.84 422.84l3.4 2.9m0 -2.9l-3.4 2.9M497.11 421.36l3.4 2.9m0 -2.9l-3.4 2.9M499.02 421.48l3.4 2.9m0 -2.9l-3.4 2.9M501.15 417.58l3.4 2.9m0 -2.9l-3.4 2.9M502.72 423.4l3.4 2.9m0 -2.9l-3.4 2.9M504.68 421.05l3.4 2.9m0 -2.9l-3.4 2.9M506.43 420.58l3.4 2.9m0 -2.9l-3.4 2.9M507.78 420.1l3.4 2.9m0 -2.9l-3.4 2.9M509.59 422.38l3.4 2.9m0 -2.9l-3.4 2.9M510.87 422.01l3.4 2.9m0 -2.9l-3.4 2.9M512.74 420.05l3.4 2.9m0 -2.9l-3.4 2.9M514.34 421.67l3.4 2.9m0 -2.9l-3.4 2.9M516.49 420.67l3.4 2.9m0 -2.9l-3.4 2.9M517.7 415.56l3.4 2.9m0 -2.9l-3.4 2.9M519 417.3l3.4 2.9m0 -2.9l-3.4 2.9M520.44 415.38l3.4 2.9m0 -2.9l-3.4 2.9M522.76 414.22l3.4 2.9m0 -2.9l-3.4 2.9M524.1 415.63l3.4 2.9m0 -2.9l-3.4 2.9M526.17 413.76l3.4 2.9m0 -2.9l-3.4 2.9M528.04 415.67l3.4 2.9m0 -2.9l-3.4 2.9M530.01 414.75l3.4 2.9m0 -2.9l-3.4 2.9M531.24 415.68l3.4 2.9m0 -2.9l-3.4 2.9M533.44 417.75l3.4 2.9m0 -2.9l-3.4 2.9M534.69 416.4l3.4 2.9m0 -2.9l-3.4 2.9M536.67 418.89l3.4 2.9m0 -2.9l-3.4 2.9M538.29 417l3.4 2.9m0 -2.9l-3.4 2.9M539.91 417.47l3.4 2.9m0 -2.9l-3.4 2.9M542.21 418.25l3.4 2.9m0 -2.9l-3.4 2.9M544.54 415.59l3.4 2.9m0 -2.9l-3.4 2.9M546.71 419.9l3.4 2.9m0 -2.9l-3.4 2.9M548.66 420.16l3.4 2.9m0 -2.9l-3.4 2.9M551.02 419.63l3.4 2.9m0 -2.9l-3.4 2.9M552.94 420.56l3.4 2.9m0 -2.9l-3.4 2.9M555.16 418.93l3.4 2.9m0 -2.9l-3.4 2.9M557 415.61l3.4 2.9m0 -2.9l-3.4 2.9M558.61 417.65l3.4 2.9m0 -2.9l-3.4 2.9M559.96 415.9l3.4 2.9m0 -2.9l-3.4 2.9M562.31 417.34l3.4 2.9m0 -2.9l-3.4 2.9M564.18 415.97l3.4 2.9m0 -2.9l-3.4 2.9M565.77 414.39l3.4 2.9m0 -2.9l-3.4 2.9M571.12 415.4l3.4 2.9m0 -2.9l-3.4 2.9M572.67 418.56l3.4 2.9m0 -2.9l-3.4 2.9M574.68 416.69l3.4 2.9m0 -2.9l-3.4 2.9M576.06 415.17l3.4 2.9m0 -2.9l-3.4 2.9M577.48 414.88l3.4 2.9m0 -2.9l-3.4 2.9M579.72 415.79l3.4 2.9m0 -2.9l-3.4 2.9M581.57 418.89l3.4 2.9m0 -2.9l-3.4 2.9M583.88 415.1l3.4 2.9m0 -2.9l-3.4 2.9M585.39 412.07l3.4 2.9m0 -2.9l-3.4 2.9M587.01 418.88l3.4 2.9m0 -2.9l-3.4 2.9M588.29 417.78l3.4 2.9m0 -2.9l-3.4 2.9M589.93 419.56l3.4 2.9m0 -2.9l-3.4 2.9M591.5 415.19l3.4 2.9m0 -2.9l-3.4 2.9M593.5 413.85l3.4 2.9m0 -2.9l-3.4 2.9M595.05 413.41l3.4 2.9m0 -2.9l-3.4 2.9M596.4 416.39l3.4 2.9m0 -2.9l-3.4 2.9M598.4 415.15l3.4 2.9m0 -2.9l-3.4 2.9M600.77 418.32l3.4 2.9m0 -2.9l-3.4 2.9M602.76 419.3l3.4 2.9m0 -2.9l-3.4 2.9M604.62 423.78l3.4 2.9m0 -2.9l-3.4 2.9M606.46 419.52l3.4 2.9m0 -2.9l-3.4 2.9M608.32 419.69l3.4 2.9m0 -2.9l-3.4 2.9M609.84 422.47l3.4 2.9m0 -2.9l-3.4 2.9M612.05 420.82l3.4 2.9m0 -2.9l-3.4 2.9M613.66 420.6l3.4 2.9m0 -2.9l-3.4 2.9M615.64 422.07l3.4 2.9m0 -2.9l-3.4 2.9M617.44 422.27l3.4 2.9m0 -2.9l-3.4 2.9M619.83 419.23l3.4 2.9m0 -2.9l-3.4 2.9M621.18 421.37l3.4 2.9m0 -2.9l-3.4 2.9M622.81 422.1l3.4 2.9m0 -2.9l-3.4 2.9M625.16 418.55l3.4 2.9m0 -2.9l-3.4 2.9M626.78 422.39l3.4 2.9m0 -2.9l-3.4 2.9M628.87 421.24l3.4 2.9m0 -2.9l-3.4 2.9M631.06 421.82l3.4 2.9m0 -2.9l-3.4 2.9M633.13 420.37l3.4 2.9m0 -2.9l-3.4 2.9M635.1 422.38l3.4 2.9m0 -2.9l-3.4 2.9M637.22 423.96l3.4 2.9m0 -2.9l-3.4 2.9M638.68 421.7l3.4 2.9m0 -2.9l-3.4 2.9M639.93 421l3.4 2.9m0 -2.9l-3.4 2.9M641.65 417.79l3.4 2.9m0 -2.9l-3.4 2.9M643.92 418.71l3.4 2.9m0 -2.9l-3.4 2.9M645.78 422.32l3.4 2.9m0 -2.9l-3.4 2.9M647.32 423.59l3.4 2.9m0 -2.9l-3.4 2.9M649.39 423.25l3.4 2.9m0 -2.9l-3.4 2.9M650.63 421.42l3.4 2.9m0 -2.9l-3.4 2.9M652.13 421.63l3.4 2.9m0 -2.9l-3.4 2.9M653.8 423.37l3.4 2.9m0 -2.9l-3.4 2.9M655.92 420.06l3.4 2.9m0 -2.9l-3.4 2.9M657.46 423.44l3.4 2.9m0 -2.9l-3.4 2.9M659.49 419.37l3.4 2.9m0 -2.9l-3.4 2.9M660.72 422.98l3.4 2.9m0 -2.9l-3.4 2.9M662.57 419.45l3.4 2.9m0 -2.9l-3.4 2.9M664.01 423.5l3.4 2.9m0 -2.9l-3.4 2.9M665.42 420.61l3.4 2.9m0 -2.9l-3.4 2.9M666.93 420.91l3.4 2.9m0 -2.9l-3.4 2.9M668.62 422.8l3.4 2.9m0 -2.9l-3.4 2.9M671.01 420.45l3.4 2.9m0 -2.9l-3.4 2.9M672.21 421.89l3.4 2.9m0 -2.9l-3.4 2.9M673.62 419.4l3.4 2.9m0 -2.9l-3.4 2.9M675.09 421.87l3.4 2.9m0 -2.9l-3.4 2.9M677.38 419.92l3.4 2.9m0 -2.9l-3.4 2.9M678.6 423.04l3.4 2.9m0 -2.9l-3.4 2.9M680.44 421.28l3.4 2.9m0 -2.9l-3.4 2.9M682.11 420.37l3.4 2.9m0 -2.9l-3.4 2.9M683.79 420.39l3.4 2.9m0 -2.9l-3.4 2.9M685.19 422.31l3.4 2.9m0 -2.9l-3.4 2.9M686.57 422.49l3.4 2.9m0 -2.9l-3.4 2.9M694.78 421.09l3.4 2.9m0 -2.9l-3.4 2.9M696.74 421.45l3.4 2.9m0 -2.9l-3.4 2.9M698.62 422.23l3.4 2.9m0 -2.9l-3.4 2.9M700.65 419.98l3.4 2.9m0 -2.9l-3.4 2.9M702.65 420.92l3.4 2.9m0 -2.9l-3.4 2.9M704.03 420.4l3.4 2.9m0 -2.9l-3.4 2.9M705.37 421.61l3.4 2.9m0 -2.9l-3.4 2.9M707.4 418.91l3.4 2.9m0 -2.9l-3.4 2.9M709.24 421.57l3.4 2.9m0 -2.9l-3.4 2.9M710.83 421.24l3.4 2.9m0 -2.9l-3.4 2.9M712.3 420.84l3.4 2.9m0 -2.9l-3.4 2.9M714.25 418.05l3.4 2.9m0 -2.9l-3.4 2.9M715.64 409.69l3.4 2.9m0 -2.9l-3.4 2.9M717.14 424.09l3.4 2.9m0 -2.9l-3.4 2.9M718.75 414.32l3.4 2.9m0 -2.9l-3.4 2.9M720.17 418.38l3.4 2.9m0 -2.9l-3.4 2.9M721.93 419.38l3.4 2.9m0 -2.9l-3.4 2.9M723.39 415.14l3.4 2.9m0 -2.9l-3.4 2.9M725.2 418.55l3.4 2.9m0 -2.9l-3.4 2.9M727.54 423.17l3.4 2.9m0 -2.9l-3.4 2.9M729.26 425.31l3.4 2.9m0 -2.9l-3.4 2.9M731.51 420l3.4 2.9m0 -2.9l-3.4 2.9M733.86 416.84l3.4 2.9m0 -2.9l-3.4 2.9M735.81 415.35l3.4 2.9m0 -2.9l-3.4 2.9M737.83 414.65l3.4 2.9m0 -2.9l-3.4 2.9M739.2 420.74l3.4 2.9m0 -2.9l-3.4 2.9M740.62 417.2l3.4 2.9m0 -2.9l-3.4 2.9M742.64 421.43l3.4 2.9m0 -2.9l-3.4 2.9M257.4 278.75l3.4 2.9m0 -2.9l-3.4 2.9M257.8 361.15l3.4 2.9m0 -2.9l-3.4 2.9M256.7 398.35l3.4 2.9m0 -2.9l-3.4 2.9M691.1 364.85l3.4 2.9m0 -2.9l-3.4 2.9M692.9 377.25l3.4 2.9m0 -2.9l-3.4 2.9M689.4 402.05l3.4 2.9m0 -2.9l-3.4 2.9M693.1 413.45l3.4 2.9m0 -2.9l-3.4 2.9M568.3 390.05l3.4 2.9m0 -2.9l-3.4 2.9M567.7 400.55l3.4 2.9m0 -2.9l-3.4 2.9M459.2 415.05l3.4 2.9m0 -2.9l-3.4 2.9M88.1 425.05l3.4 2.9m0 -2.9l-3.4 2.9" fill="none" stroke="#000" stroke-width="1.15"/>
<polyline points="48.5,431.6 150,429.4 200,428.4 320,426.4 480,425.3 640,423.3 744,422.8" fill="none" stroke="#1a1aff" stroke-width="1.3" stroke-linejoin="round"/>
<polyline points="48.5,432 61.3,432 82.5,431.6 88.6,430.6 89.8,426 91,430.6 103.7,428.4 114.4,427.4 121.8,425.7 125,421 127.1,420.6 130.3,422.7 134.6,420 137.7,408.3 139.9,393.4 142,390.6 145.2,392.3 148.4,398.7 152.6,407.2 159,414.1 165.8,417.9 172.6,420.8 179.4,422.4 186.1,420.8 195.2,419 204.2,418.6 213.2,420.1 217.7,419.5 219,415 219.8,410.4 220.8,416 221.6,420.1 224.5,419.5 227.2,416.8 229,419.5 235.8,416.3 244.8,413.4 251.6,411.1 256.1,411.1 257.7,401 259.1,280.2 260.3,340 261.1,412.2 262.9,417.9 271.9,420.8 285.5,423.5 299,424.2 312.6,424.2 340,424.5 369.8,424.6 371,420.1 372.2,424.6 400,425 440,425 459.6,425 460.9,416.3 462.2,424.9 469.6,425.9 483.9,424.9 498.2,424.2 515,421.8 522.2,417 527.4,414.6 531.7,417 538.9,420.6 550.8,419.4 565.2,419.4 568.1,413.4 570,391.9 571.6,413.4 573.6,417 584.3,418.7 595.1,416.3 600,417.5 604.1,421.1 612.4,422.8 631.1,423.2 662.1,423.2 690,422.8 691.2,419.1 692.4,366.3 693.6,366.3 694.9,419.1 696.3,422.8 724.2,422.8 743.9,422.2" fill="none" stroke="#e8141c" stroke-width="1.15" stroke-linejoin="round"/>
<line x1="43.5" y1="438.6" x2="45.5" y2="438.6" stroke="#5a5a5a" stroke-width="0.9"/>
<text x="34.6" y="441.5" font-size="8.42" textLength="6.36" lengthAdjust="spacingAndGlyphs" fill="#222">0</text>
<line x1="43.5" y1="416.3" x2="45.5" y2="416.3" stroke="#5a5a5a" stroke-width="0.9"/>
<text x="28.24" y="419.2" font-size="8.42" textLength="12.72" lengthAdjust="spacingAndGlyphs" fill="#222">20</text>
<line x1="43.5" y1="394" x2="45.5" y2="394" stroke="#5a5a5a" stroke-width="0.9"/>
<text x="28.24" y="396.9" font-size="8.42" textLength="12.72" lengthAdjust="spacingAndGlyphs" fill="#222">40</text>
<line x1="43.5" y1="371.7" x2="45.5" y2="371.7" stroke="#5a5a5a" stroke-width="0.9"/>
<text x="28.24" y="374.6" font-size="8.42" textLength="12.72" lengthAdjust="spacingAndGlyphs" fill="#222">60</text>
<line x1="43.5" y1="349.4" x2="45.5" y2="349.4" stroke="#5a5a5a" stroke-width="0.9"/>
<text x="28.24" y="352.3" font-size="8.42" textLength="12.72" lengthAdjust="spacingAndGlyphs" fill="#222">80</text>
<line x1="43.5" y1="327.1" x2="45.5" y2="327.1" stroke="#5a5a5a" stroke-width="0.9"/>
<text x="21.88" y="330" font-size="8.42" textLength="19.09" lengthAdjust="spacingAndGlyphs" fill="#222">100</text>
<line x1="43.5" y1="304.8" x2="45.5" y2="304.8" stroke="#5a5a5a" stroke-width="0.9"/>
<text x="21.88" y="307.7" font-size="8.42" textLength="19.09" lengthAdjust="spacingAndGlyphs" fill="#222">120</text>
<line x1="43.5" y1="282.5" x2="45.5" y2="282.5" stroke="#5a5a5a" stroke-width="0.9"/>
<text x="21.88" y="285.4" font-size="8.42" textLength="19.09" lengthAdjust="spacingAndGlyphs" fill="#222">140</text>
<line x1="52.66" y1="447.3" x2="52.66" y2="449.3" stroke="#5a5a5a" stroke-width="0.9"/>
<line x1="126.19" y1="447.3" x2="126.19" y2="449.3" stroke="#5a5a5a" stroke-width="0.9"/>
<line x1="199.72" y1="447.3" x2="199.72" y2="449.3" stroke="#5a5a5a" stroke-width="0.9"/>
<line x1="273.25" y1="447.3" x2="273.25" y2="449.3" stroke="#5a5a5a" stroke-width="0.9"/>
<line x1="346.78" y1="447.3" x2="346.78" y2="449.3" stroke="#5a5a5a" stroke-width="0.9"/>
<line x1="420.31" y1="447.3" x2="420.31" y2="449.3" stroke="#5a5a5a" stroke-width="0.9"/>
<line x1="493.84" y1="447.3" x2="493.84" y2="449.3" stroke="#5a5a5a" stroke-width="0.9"/>
<line x1="567.37" y1="447.3" x2="567.37" y2="449.3" stroke="#5a5a5a" stroke-width="0.9"/>
<line x1="640.9" y1="447.3" x2="640.9" y2="449.3" stroke="#5a5a5a" stroke-width="0.9"/>
<line x1="714.43" y1="447.3" x2="714.43" y2="449.3" stroke="#5a5a5a" stroke-width="0.9"/>
<text transform="translate(15.7,359.65) rotate(-90)" x="-68.41" y="0" font-size="13.46" textLength="137.02" lengthAdjust="spacingAndGlyphs" fill="#222">Surface Brightness [MJy/sr]</text>
<text x="75.34" y="383.1" font-size="8.42" textLength="27.12" lengthAdjust="spacingAndGlyphs" fill="#222">[S IV]</text>
<text x="112.29" y="371.7" font-size="8.42" textLength="38.37" lengthAdjust="spacingAndGlyphs" fill="#222">11.0µm</text>
<text x="126.81" y="360.6" font-size="8.42" textLength="44.73" lengthAdjust="spacingAndGlyphs" fill="#222">11.21µm</text>
<text x="129.81" y="349.3" font-size="8.42" textLength="44.73" lengthAdjust="spacingAndGlyphs" fill="#222">11.25µm</text>
<text x="140.29" y="338" font-size="8.42" textLength="38.37" lengthAdjust="spacingAndGlyphs" fill="#222">11.4µm</text>
<text x="184.09" y="327.1" font-size="8.42" textLength="38.37" lengthAdjust="spacingAndGlyphs" fill="#222">12.0µm</text>
<text x="211.92" y="293.5" font-size="8.42" textLength="20.45" lengthAdjust="spacingAndGlyphs" fill="#222">Huα</text>
<text x="230.59" y="304.3" font-size="8.42" textLength="38.37" lengthAdjust="spacingAndGlyphs" fill="#222">12.6µm</text>
<text x="205.02" y="315.7" font-size="8.42" textLength="72.76" lengthAdjust="spacingAndGlyphs" fill="#222">H<tspan font-size="70%" dy="1.8">2</tspan><tspan dy="-1.8" font-style="italic">S</tspan>(2)12.7µm</text>
<text x="244.94" y="327.1" font-size="8.42" textLength="30.51" lengthAdjust="spacingAndGlyphs" fill="#222">[Ne II]</text>
<text x="293.69" y="338.2" font-size="8.42" textLength="38.37" lengthAdjust="spacingAndGlyphs" fill="#222">13.5µm</text>
<text x="346.29" y="349.4" font-size="8.42" textLength="38.37" lengthAdjust="spacingAndGlyphs" fill="#222">14.2µm</text>
<text x="356.27" y="360.9" font-size="8.42" textLength="31.46" lengthAdjust="spacingAndGlyphs" fill="#222">[Ne V]</text>
<text x="446.07" y="371.6" font-size="8.42" textLength="33.46" lengthAdjust="spacingAndGlyphs" fill="#222">[Ne III]</text>
<text x="471.69" y="355.4" font-size="8.42" textLength="38.37" lengthAdjust="spacingAndGlyphs" fill="#222">15.9µm</text>
<text x="512.49" y="349.4" font-size="8.42" textLength="38.37" lengthAdjust="spacingAndGlyphs" fill="#222">16.5µm</text>
<text x="555.99" y="337.9" font-size="8.42" textLength="38.37" lengthAdjust="spacingAndGlyphs" fill="#222">17.0µm</text>
<text x="554.74" y="343.4" font-size="8.42" textLength="34.39" lengthAdjust="spacingAndGlyphs" fill="#222">H<tspan font-size="70%" dy="1.8">2</tspan><tspan dy="-1.8" font-style="italic">S</tspan>(1)</text>
<text x="580.79" y="332.7" font-size="8.42" textLength="38.37" lengthAdjust="spacingAndGlyphs" fill="#222">17.4µm</text>
<text x="617.29" y="326.9" font-size="8.42" textLength="38.37" lengthAdjust="spacingAndGlyphs" fill="#222">17.9µm</text>
<text x="678.41" y="321.1" font-size="8.42" textLength="26.18" lengthAdjust="spacingAndGlyphs" fill="#222">[S III]</text>
<rect x="45.5" y="478.91" width="702.5" height="49.18" fill="#e8e8e8"/>
<rect x="45.5" y="487.11" width="702.5" height="32.79" fill="#c0c0c0"/>
<rect x="45.5" y="495.3" width="702.5" height="16.39" fill="#9d9d9d"/>
<line x1="90.2" y1="464.5" x2="90.2" y2="542.7" stroke="#6a6a6a" stroke-width="0.9" stroke-dasharray="2.15 1.75"/>
<line x1="126.4" y1="464.5" x2="126.4" y2="542.7" stroke="#6a6a6a" stroke-width="0.9" stroke-dasharray="2.15 1.75"/>
<line x1="141.6" y1="464.5" x2="141.6" y2="542.7" stroke="#6a6a6a" stroke-width="0.9" stroke-dasharray="2.15 1.75"/>
<line x1="144.6" y1="464.5" x2="144.6" y2="542.7" stroke="#6a6a6a" stroke-width="0.9" stroke-dasharray="2.15 1.75"/>
<line x1="155.4" y1="464.5" x2="155.4" y2="542.7" stroke="#6a6a6a" stroke-width="0.9" stroke-dasharray="2.15 1.75"/>
<line x1="198.8" y1="464.5" x2="198.8" y2="542.7" stroke="#6a6a6a" stroke-width="0.9" stroke-dasharray="2.15 1.75"/>
<line x1="220.4" y1="464.5" x2="220.4" y2="542.7" stroke="#6a6a6a" stroke-width="0.9" stroke-dasharray="2.15 1.75"/>
<line x1="227.2" y1="464.5" x2="227.2" y2="542.7" stroke="#6a6a6a" stroke-width="0.9" stroke-dasharray="2.15 1.75"/>
<line x1="245.4" y1="464.5" x2="245.4" y2="542.7" stroke="#6a6a6a" stroke-width="0.9" stroke-dasharray="2.15 1.75"/>
<line x1="251.5" y1="464.5" x2="251.5" y2="542.7" stroke="#6a6a6a" stroke-width="0.9" stroke-dasharray="2.15 1.75"/>
<line x1="259.3" y1="464.5" x2="259.3" y2="542.7" stroke="#6a6a6a" stroke-width="0.9" stroke-dasharray="2.15 1.75"/>
<line x1="308.3" y1="464.5" x2="308.3" y2="542.7" stroke="#6a6a6a" stroke-width="0.9" stroke-dasharray="2.15 1.75"/>
<line x1="360.8" y1="464.5" x2="360.8" y2="542.7" stroke="#6a6a6a" stroke-width="0.9" stroke-dasharray="2.15 1.75"/>
<line x1="371.2" y1="464.5" x2="371.2" y2="542.7" stroke="#6a6a6a" stroke-width="0.9" stroke-dasharray="2.15 1.75"/>
<line x1="461.4" y1="464.5" x2="461.4" y2="542.7" stroke="#6a6a6a" stroke-width="0.9" stroke-dasharray="2.15 1.75"/>
<line x1="486.4" y1="464.5" x2="486.4" y2="542.7" stroke="#6a6a6a" stroke-width="0.9" stroke-dasharray="2.15 1.75"/>
<line x1="526.8" y1="464.5" x2="526.8" y2="542.7" stroke="#6a6a6a" stroke-width="0.9" stroke-dasharray="2.15 1.75"/>
<line x1="570.6" y1="464.5" x2="570.6" y2="542.7" stroke="#6a6a6a" stroke-width="0.9" stroke-dasharray="2.15 1.75"/>
<line x1="594.9" y1="464.5" x2="594.9" y2="542.7" stroke="#6a6a6a" stroke-width="0.9" stroke-dasharray="2.15 1.75"/>
<line x1="631.3" y1="464.5" x2="631.3" y2="542.7" stroke="#6a6a6a" stroke-width="0.9" stroke-dasharray="2.15 1.75"/>
<line x1="693.3" y1="464.5" x2="693.3" y2="542.7" stroke="#6a6a6a" stroke-width="0.9" stroke-dasharray="2.15 1.75"/>
<path d="M46.2 510.76l4.8 4.2m0 -4.2l-4.8 4.2M47.35 510.11l4.8 4.2m0 -4.2l-4.8 4.2M48.31 523.73l4.8 4.2m0 -4.2l-4.8 4.2M49.28 494.26l4.8 4.2m0 -4.2l-4.8 4.2M50.07 528.28l4.8 4.2m0 -4.2l-4.8 4.2M51.08 530.65l4.8 4.2m0 -4.2l-4.8 4.2M52.26 500.99l4.8 4.2m0 -4.2l-4.8 4.2M52.96 531.95l4.8 4.2m0 -4.2l-4.8 4.2M53.59 523.46l4.8 4.2m0 -4.2l-4.8 4.2M54.21 510.2l4.8 4.2m0 -4.2l-4.8 4.2M55.32 507.52l4.8 4.2m0 -4.2l-4.8 4.2M56.22 500.58l4.8 4.2m0 -4.2l-4.8 4.2M56.98 484.34l4.8 4.2m0 -4.2l-4.8 4.2M58.09 498.38l4.8 4.2m0 -4.2l-4.8 4.2M58.82 518.67l4.8 4.2m0 -4.2l-4.8 4.2M59.88 513.28l4.8 4.2m0 -4.2l-4.8 4.2M60.72 486.26l4.8 4.2m0 -4.2l-4.8 4.2M61.32 522.51l4.8 4.2m0 -4.2l-4.8 4.2M62.2 485.18l4.8 4.2m0 -4.2l-4.8 4.2M62.84 502.18l4.8 4.2m0 -4.2l-4.8 4.2M63.6 528.45l4.8 4.2m0 -4.2l-4.8 4.2M64.78 495.95l4.8 4.2m0 -4.2l-4.8 4.2M65.53 527.78l4.8 4.2m0 -4.2l-4.8 4.2M66.61 524.07l4.8 4.2m0 -4.2l-4.8 4.2M67.48 523.44l4.8 4.2m0 -4.2l-4.8 4.2M68.16 501.49l4.8 4.2m0 -4.2l-4.8 4.2M69.01 522.36l4.8 4.2m0 -4.2l-4.8 4.2M70.19 493.75l4.8 4.2m0 -4.2l-4.8 4.2M71.32 522.47l4.8 4.2m0 -4.2l-4.8 4.2M72.43 501.58l4.8 4.2m0 -4.2l-4.8 4.2M73.63 522.34l4.8 4.2m0 -4.2l-4.8 4.2M74.69 516.74l4.8 4.2m0 -4.2l-4.8 4.2M75.34 528.31l4.8 4.2m0 -4.2l-4.8 4.2M76.08 503.54l4.8 4.2m0 -4.2l-4.8 4.2M76.95 486.2l4.8 4.2m0 -4.2l-4.8 4.2M77.9 490.69l4.8 4.2m0 -4.2l-4.8 4.2M78.59 488.66l4.8 4.2m0 -4.2l-4.8 4.2M79.34 523.48l4.8 4.2m0 -4.2l-4.8 4.2M80.5 523.15l4.8 4.2m0 -4.2l-4.8 4.2M81.63 503.43l4.8 4.2m0 -4.2l-4.8 4.2M82.3 530.8l4.8 4.2m0 -4.2l-4.8 4.2M83.04 498.54l4.8 4.2m0 -4.2l-4.8 4.2M84.13 503.78l4.8 4.2m0 -4.2l-4.8 4.2M84.84 497.77l4.8 4.2m0 -4.2l-4.8 4.2M85.58 505.57l4.8 4.2m0 -4.2l-4.8 4.2M86.54 519.1l4.8 4.2m0 -4.2l-4.8 4.2M87.27 515.56l4.8 4.2m0 -4.2l-4.8 4.2M88.13 514.13l4.8 4.2m0 -4.2l-4.8 4.2M88.96 497.5l4.8 4.2m0 -4.2l-4.8 4.2M89.77 487.13l4.8 4.2m0 -4.2l-4.8 4.2M90.77 493.63l4.8 4.2m0 -4.2l-4.8 4.2M91.45 514.96l4.8 4.2m0 -4.2l-4.8 4.2M92.6 493.31l4.8 4.2m0 -4.2l-4.8 4.2M93.21 495.42l4.8 4.2m0 -4.2l-4.8 4.2M94.25 505.73l4.8 4.2m0 -4.2l-4.8 4.2M94.89 498.35l4.8 4.2m0 -4.2l-4.8 4.2M96.03 492.14l4.8 4.2m0 -4.2l-4.8 4.2M97.11 486.35l4.8 4.2m0 -4.2l-4.8 4.2M98.12 486.81l4.8 4.2m0 -4.2l-4.8 4.2M98.97 490.4l4.8 4.2m0 -4.2l-4.8 4.2M99.91 495.78l4.8 4.2m0 -4.2l-4.8 4.2M100.86 496.3l4.8 4.2m0 -4.2l-4.8 4.2M101.85 483.8l4.8 4.2m0 -4.2l-4.8 4.2M102.88 503.47l4.8 4.2m0 -4.2l-4.8 4.2M103.83 501.78l4.8 4.2m0 -4.2l-4.8 4.2M104.48 491.71l4.8 4.2m0 -4.2l-4.8 4.2M105.44 500.46l4.8 4.2m0 -4.2l-4.8 4.2M106.46 499.93l4.8 4.2m0 -4.2l-4.8 4.2M107.62 507.78l4.8 4.2m0 -4.2l-4.8 4.2M108.4 494.05l4.8 4.2m0 -4.2l-4.8 4.2M109.1 486.65l4.8 4.2m0 -4.2l-4.8 4.2M109.96 487.11l4.8 4.2m0 -4.2l-4.8 4.2M110.96 509.65l4.8 4.2m0 -4.2l-4.8 4.2M112.05 486.38l4.8 4.2m0 -4.2l-4.8 4.2M112.88 497.14l4.8 4.2m0 -4.2l-4.8 4.2M113.56 499.96l4.8 4.2m0 -4.2l-4.8 4.2M114.67 492.98l4.8 4.2m0 -4.2l-4.8 4.2M115.43 510.6l4.8 4.2m0 -4.2l-4.8 4.2M116.2 509.14l4.8 4.2m0 -4.2l-4.8 4.2M117.17 500.04l4.8 4.2m0 -4.2l-4.8 4.2M118.28 484.17l4.8 4.2m0 -4.2l-4.8 4.2M118.92 515.08l4.8 4.2m0 -4.2l-4.8 4.2M119.55 493.06l4.8 4.2m0 -4.2l-4.8 4.2M120.33 490.37l4.8 4.2m0 -4.2l-4.8 4.2M121.01 501.31l4.8 4.2m0 -4.2l-4.8 4.2M122.11 508.38l4.8 4.2m0 -4.2l-4.8 4.2M122.74 495.64l4.8 4.2m0 -4.2l-4.8 4.2M123.72 494.8l4.8 4.2m0 -4.2l-4.8 4.2M124.89 502.33l4.8 4.2m0 -4.2l-4.8 4.2M126.15 504.31l4.8 4.2m0 -4.2l-4.8 4.2M127.68 501.6l4.8 4.2m0 -4.2l-4.8 4.2M129.09 504.31l4.8 4.2m0 -4.2l-4.8 4.2M130.66 508.05l4.8 4.2m0 -4.2l-4.8 4.2M132.47 507.15l4.8 4.2m0 -4.2l-4.8 4.2M133.65 492.43l4.8 4.2m0 -4.2l-4.8 4.2M135.16 504.57l4.8 4.2m0 -4.2l-4.8 4.2M137.08 506.12l4.8 4.2m0 -4.2l-4.8 4.2M138.89 495.6l4.8 4.2m0 -4.2l-4.8 4.2M140.41 503.06l4.8 4.2m0 -4.2l-4.8 4.2M142.25 503.96l4.8 4.2m0 -4.2l-4.8 4.2M143.99 497.99l4.8 4.2m0 -4.2l-4.8 4.2M145.97 488.81l4.8 4.2m0 -4.2l-4.8 4.2M147.79 506.19l4.8 4.2m0 -4.2l-4.8 4.2M149.2 489.42l4.8 4.2m0 -4.2l-4.8 4.2M150.7 510.13l4.8 4.2m0 -4.2l-4.8 4.2M151.82 503.85l4.8 4.2m0 -4.2l-4.8 4.2M152.98 499.71l4.8 4.2m0 -4.2l-4.8 4.2M154.79 504.16l4.8 4.2m0 -4.2l-4.8 4.2M156.02 509.95l4.8 4.2m0 -4.2l-4.8 4.2M157.74 501.75l4.8 4.2m0 -4.2l-4.8 4.2M159.29 498.49l4.8 4.2m0 -4.2l-4.8 4.2M160.86 501.52l4.8 4.2m0 -4.2l-4.8 4.2M162.53 511.13l4.8 4.2m0 -4.2l-4.8 4.2M163.98 502.29l4.8 4.2m0 -4.2l-4.8 4.2M165.26 492.37l4.8 4.2m0 -4.2l-4.8 4.2M166.55 512.28l4.8 4.2m0 -4.2l-4.8 4.2M168.19 486.71l4.8 4.2m0 -4.2l-4.8 4.2M170.01 498.32l4.8 4.2m0 -4.2l-4.8 4.2M171.73 494.63l4.8 4.2m0 -4.2l-4.8 4.2M173.66 498.09l4.8 4.2m0 -4.2l-4.8 4.2M174.88 509.91l4.8 4.2m0 -4.2l-4.8 4.2M176.26 496.77l4.8 4.2m0 -4.2l-4.8 4.2M178.2 500.22l4.8 4.2m0 -4.2l-4.8 4.2M179.55 493.96l4.8 4.2m0 -4.2l-4.8 4.2M181.1 507.96l4.8 4.2m0 -4.2l-4.8 4.2M182.85 500.79l4.8 4.2m0 -4.2l-4.8 4.2M183.97 507.59l4.8 4.2m0 -4.2l-4.8 4.2M185.85 508.31l4.8 4.2m0 -4.2l-4.8 4.2M187.14 507.74l4.8 4.2m0 -4.2l-4.8 4.2M188.81 502.72l4.8 4.2m0 -4.2l-4.8 4.2M190.45 498.04l4.8 4.2m0 -4.2l-4.8 4.2M191.64 503.06l4.8 4.2m0 -4.2l-4.8 4.2M192.81 505.21l4.8 4.2m0 -4.2l-4.8 4.2M194.55 497.05l4.8 4.2m0 -4.2l-4.8 4.2M196.37 495l4.8 4.2m0 -4.2l-4.8 4.2M197.79 496.8l4.8 4.2m0 -4.2l-4.8 4.2M199.2 490.55l4.8 4.2m0 -4.2l-4.8 4.2M200.32 500.89l4.8 4.2m0 -4.2l-4.8 4.2M202.24 504.29l4.8 4.2m0 -4.2l-4.8 4.2M203.48 500.39l4.8 4.2m0 -4.2l-4.8 4.2M205.1 495.36l4.8 4.2m0 -4.2l-4.8 4.2M206.55 494.67l4.8 4.2m0 -4.2l-4.8 4.2M207.84 506.17l4.8 4.2m0 -4.2l-4.8 4.2M209.31 495.3l4.8 4.2m0 -4.2l-4.8 4.2M211.24 502.71l4.8 4.2m0 -4.2l-4.8 4.2M212.42 502.28l4.8 4.2m0 -4.2l-4.8 4.2M214.33 494.26l4.8 4.2m0 -4.2l-4.8 4.2M215.74 503.41l4.8 4.2m0 -4.2l-4.8 4.2M216.95 500.94l4.8 4.2m0 -4.2l-4.8 4.2M218.34 504l4.8 4.2m0 -4.2l-4.8 4.2M219.83 499.26l4.8 4.2m0 -4.2l-4.8 4.2M221.2 497.45l4.8 4.2m0 -4.2l-4.8 4.2M223.19 499.39l4.8 4.2m0 -4.2l-4.8 4.2M224.56 501.79l4.8 4.2m0 -4.2l-4.8 4.2M225.83 495.03l4.8 4.2m0 -4.2l-4.8 4.2M227.04 497.78l4.8 4.2m0 -4.2l-4.8 4.2M228.24 497.7l4.8 4.2m0 -4.2l-4.8 4.2M230.02 498.3l4.8 4.2m0 -4.2l-4.8 4.2M231.36 501.6l4.8 4.2m0 -4.2l-4.8 4.2M232.93 495.92l4.8 4.2m0 -4.2l-4.8 4.2M234.43 505.01l4.8 4.2m0 -4.2l-4.8 4.2M235.87 506.2l4.8 4.2m0 -4.2l-4.8 4.2M237.85 496.63l4.8 4.2m0 -4.2l-4.8 4.2M239.39 506.13l4.8 4.2m0 -4.2l-4.8 4.2M240.77 506.91l4.8 4.2m0 -4.2l-4.8 4.2M242.47 501.98l4.8 4.2m0 -4.2l-4.8 4.2M244.26 507.38l4.8 4.2m0 -4.2l-4.8 4.2M245.41 504.74l4.8 4.2m0 -4.2l-4.8 4.2M247.04 501.6l4.8 4.2m0 -4.2l-4.8 4.2M248.78 505.48l4.8 4.2m0 -4.2l-4.8 4.2M249.92 492.75l4.8 4.2m0 -4.2l-4.8 4.2M251.89 495.07l4.8 4.2m0 -4.2l-4.8 4.2M253.03 503.16l4.8 4.2m0 -4.2l-4.8 4.2M254.27 499.45l4.8 4.2m0 -4.2l-4.8 4.2M255.75 507.03l4.8 4.2m0 -4.2l-4.8 4.2M257.52 505.39l4.8 4.2m0 -4.2l-4.8 4.2M258.88 496.52l4.8 4.2m0 -4.2l-4.8 4.2M260.43 496.31l4.8 4.2m0 -4.2l-4.8 4.2M262.08 502.11l4.8 4.2m0 -4.2l-4.8 4.2M263.4 509.09l4.8 4.2m0 -4.2l-4.8 4.2M265.09 498.06l4.8 4.2m0 -4.2l-4.8 4.2M266.42 498.68l4.8 4.2m0 -4.2l-4.8 4.2M267.59 493.83l4.8 4.2m0 -4.2l-4.8 4.2M269.02 496.59l4.8 4.2m0 -4.2l-4.8 4.2M270.43 501.14l4.8 4.2m0 -4.2l-4.8 4.2M272.26 511.14l4.8 4.2m0 -4.2l-4.8 4.2M273.55 504.52l4.8 4.2m0 -4.2l-4.8 4.2M275.24 498.88l4.8 4.2m0 -4.2l-4.8 4.2M276.83 501.1l4.8 4.2m0 -4.2l-4.8 4.2M278.02 513l4.8 4.2m0 -4.2l-4.8 4.2M279.19 506.54l4.8 4.2m0 -4.2l-4.8 4.2M280.99 503.25l4.8 4.2m0 -4.2l-4.8 4.2M282.69 496.78l4.8 4.2m0 -4.2l-4.8 4.2M284.04 498.54l4.8 4.2m0 -4.2l-4.8 4.2M285.8 502.61l4.8 4.2m0 -4.2l-4.8 4.2M287.72 498.78l4.8 4.2m0 -4.2l-4.8 4.2M289.22 499.29l4.8 4.2m0 -4.2l-4.8 4.2M291.16 505.17l4.8 4.2m0 -4.2l-4.8 4.2M292.58 504.22l4.8 4.2m0 -4.2l-4.8 4.2M293.86 496.95l4.8 4.2m0 -4.2l-4.8 4.2M295.45 497.2l4.8 4.2m0 -4.2l-4.8 4.2M297.34 506.77l4.8 4.2m0 -4.2l-4.8 4.2M298.9 507.55l4.8 4.2m0 -4.2l-4.8 4.2M300.73 502.72l4.8 4.2m0 -4.2l-4.8 4.2M302.54 498.87l4.8 4.2m0 -4.2l-4.8 4.2M303.71 499.67l4.8 4.2m0 -4.2l-4.8 4.2M305.48 503.21l4.8 4.2m0 -4.2l-4.8 4.2M307.05 504.08l4.8 4.2m0 -4.2l-4.8 4.2M308.46 492.87l4.8 4.2m0 -4.2l-4.8 4.2M310.21 502.4l4.8 4.2m0 -4.2l-4.8 4.2M311.68 497.1l4.8 4.2m0 -4.2l-4.8 4.2M313.53 507.93l4.8 4.2m0 -4.2l-4.8 4.2M315.2 509.23l4.8 4.2m0 -4.2l-4.8 4.2M316.68 502.07l4.8 4.2m0 -4.2l-4.8 4.2M318.67 503.13l4.8 4.2m0 -4.2l-4.8 4.2M320.04 498.49l4.8 4.2m0 -4.2l-4.8 4.2M321.41 494.92l4.8 4.2m0 -4.2l-4.8 4.2M322.57 495.63l4.8 4.2m0 -4.2l-4.8 4.2M324.49 498.27l4.8 4.2m0 -4.2l-4.8 4.2M325.8 500.21l4.8 4.2m0 -4.2l-4.8 4.2M327.1 499.05l4.8 4.2m0 -4.2l-4.8 4.2M328.48 496.76l4.8 4.2m0 -4.2l-4.8 4.2M330.01 501.54l4.8 4.2m0 -4.2l-4.8 4.2M331.61 489.5l4.8 4.2m0 -4.2l-4.8 4.2M332.9 488.28l4.8 4.2m0 -4.2l-4.8 4.2M334.48 496.76l4.8 4.2m0 -4.2l-4.8 4.2M336.47 493.27l4.8 4.2m0 -4.2l-4.8 4.2M337.79 504.14l4.8 4.2m0 -4.2l-4.8 4.2M339.27 500.38l4.8 4.2m0 -4.2l-4.8 4.2M340.48 503.8l4.8 4.2m0 -4.2l-4.8 4.2M342.05 494.13l4.8 4.2m0 -4.2l-4.8 4.2M343.97 498.5l4.8 4.2m0 -4.2l-4.8 4.2M345.39 505.78l4.8 4.2m0 -4.2l-4.8 4.2M346.56 505.19l4.8 4.2m0 -4.2l-4.8 4.2M348.12 497.33l4.8 4.2m0 -4.2l-4.8 4.2M349.92 500.38l4.8 4.2m0 -4.2l-4.8 4.2M351.4 513.91l4.8 4.2m0 -4.2l-4.8 4.2M352.86 500.32l4.8 4.2m0 -4.2l-4.8 4.2M354.56 498.86l4.8 4.2m0 -4.2l-4.8 4.2M356.27 499.93l4.8 4.2m0 -4.2l-4.8 4.2M357.48 510.99l4.8 4.2m0 -4.2l-4.8 4.2M358.84 497.16l4.8 4.2m0 -4.2l-4.8 4.2M360.71 495.97l4.8 4.2m0 -4.2l-4.8 4.2M362.38 507.96l4.8 4.2m0 -4.2l-4.8 4.2M364.34 500.59l4.8 4.2m0 -4.2l-4.8 4.2M365.78 507.7l4.8 4.2m0 -4.2l-4.8 4.2M367.12 508.41l4.8 4.2m0 -4.2l-4.8 4.2M368.31 499.34l4.8 4.2m0 -4.2l-4.8 4.2M369.98 499.27l4.8 4.2m0 -4.2l-4.8 4.2M371.71 497.59l4.8 4.2m0 -4.2l-4.8 4.2M373.7 509.31l4.8 4.2m0 -4.2l-4.8 4.2M375.64 497.04l4.8 4.2m0 -4.2l-4.8 4.2M376.87 503.04l4.8 4.2m0 -4.2l-4.8 4.2M378.63 506.6l4.8 4.2m0 -4.2l-4.8 4.2M380.44 500.31l4.8 4.2m0 -4.2l-4.8 4.2M381.7 485.03l4.8 4.2m0 -4.2l-4.8 4.2M383.31 499.44l4.8 4.2m0 -4.2l-4.8 4.2M385.05 496.12l4.8 4.2m0 -4.2l-4.8 4.2M386.42 500.05l4.8 4.2m0 -4.2l-4.8 4.2M387.7 493.38l4.8 4.2m0 -4.2l-4.8 4.2M389.43 503.41l4.8 4.2m0 -4.2l-4.8 4.2M390.96 503.55l4.8 4.2m0 -4.2l-4.8 4.2M392.14 497.83l4.8 4.2m0 -4.2l-4.8 4.2M393.9 503.86l4.8 4.2m0 -4.2l-4.8 4.2M395.49 489.71l4.8 4.2m0 -4.2l-4.8 4.2M397.4 496.12l4.8 4.2m0 -4.2l-4.8 4.2M399.34 492.57l4.8 4.2m0 -4.2l-4.8 4.2M400.77 500.6l4.8 4.2m0 -4.2l-4.8 4.2M402.6 506.08l4.8 4.2m0 -4.2l-4.8 4.2M404.6 499.24l4.8 4.2m0 -4.2l-4.8 4.2M406.46 494.57l4.8 4.2m0 -4.2l-4.8 4.2M407.7 504.95l4.8 4.2m0 -4.2l-4.8 4.2M409.28 496.73l4.8 4.2m0 -4.2l-4.8 4.2M410.6 497.06l4.8 4.2m0 -4.2l-4.8 4.2M412.4 502.49l4.8 4.2m0 -4.2l-4.8 4.2M413.59 510.19l4.8 4.2m0 -4.2l-4.8 4.2M415.52 505.89l4.8 4.2m0 -4.2l-4.8 4.2M417.03 502.99l4.8 4.2m0 -4.2l-4.8 4.2M418.88 498.82l4.8 4.2m0 -4.2l-4.8 4.2M420.44 499l4.8 4.2m0 -4.2l-4.8 4.2M422.36 502.94l4.8 4.2m0 -4.2l-4.8 4.2M423.75 493.61l4.8 4.2m0 -4.2l-4.8 4.2M425.64 500.43l4.8 4.2m0 -4.2l-4.8 4.2M427.62 490.35l4.8 4.2m0 -4.2l-4.8 4.2M429.53 508.41l4.8 4.2m0 -4.2l-4.8 4.2M431.53 503.01l4.8 4.2m0 -4.2l-4.8 4.2M432.97 507.49l4.8 4.2m0 -4.2l-4.8 4.2M434.44 502.8l4.8 4.2m0 -4.2l-4.8 4.2M436.01 493.13l4.8 4.2m0 -4.2l-4.8 4.2M437.38 492.63l4.8 4.2m0 -4.2l-4.8 4.2M438.63 506.32l4.8 4.2m0 -4.2l-4.8 4.2M440.36 498.65l4.8 4.2m0 -4.2l-4.8 4.2M441.87 502.67l4.8 4.2m0 -4.2l-4.8 4.2M443.67 496.38l4.8 4.2m0 -4.2l-4.8 4.2M445.54 501.47l4.8 4.2m0 -4.2l-4.8 4.2M447.45 510.39l4.8 4.2m0 -4.2l-4.8 4.2M449.4 493.03l4.8 4.2m0 -4.2l-4.8 4.2M451.37 501.97l4.8 4.2m0 -4.2l-4.8 4.2M453.26 507.71l4.8 4.2m0 -4.2l-4.8 4.2M454.51 489.1l4.8 4.2m0 -4.2l-4.8 4.2M456.23 501.83l4.8 4.2m0 -4.2l-4.8 4.2M457.58 492.21l4.8 4.2m0 -4.2l-4.8 4.2M458.78 515.62l4.8 4.2m0 -4.2l-4.8 4.2M460.09 502.29l4.8 4.2m0 -4.2l-4.8 4.2M461.6 490.07l4.8 4.2m0 -4.2l-4.8 4.2M462.71 495.22l4.8 4.2m0 -4.2l-4.8 4.2M464.19 503.75l4.8 4.2m0 -4.2l-4.8 4.2M465.45 502.16l4.8 4.2m0 -4.2l-4.8 4.2M467.26 494.04l4.8 4.2m0 -4.2l-4.8 4.2M468.89 486l4.8 4.2m0 -4.2l-4.8 4.2M470.69 496.78l4.8 4.2m0 -4.2l-4.8 4.2M472.05 503.36l4.8 4.2m0 -4.2l-4.8 4.2M474.04 501.04l4.8 4.2m0 -4.2l-4.8 4.2M475.24 507.47l4.8 4.2m0 -4.2l-4.8 4.2M476.83 501.13l4.8 4.2m0 -4.2l-4.8 4.2M478.42 492.21l4.8 4.2m0 -4.2l-4.8 4.2M479.75 496.57l4.8 4.2m0 -4.2l-4.8 4.2M481.65 487.04l4.8 4.2m0 -4.2l-4.8 4.2M483.3 498.58l4.8 4.2m0 -4.2l-4.8 4.2M484.42 506.82l4.8 4.2m0 -4.2l-4.8 4.2M486.1 508.41l4.8 4.2m0 -4.2l-4.8 4.2M487.58 504.95l4.8 4.2m0 -4.2l-4.8 4.2M489.35 499.03l4.8 4.2m0 -4.2l-4.8 4.2M490.91 509.85l4.8 4.2m0 -4.2l-4.8 4.2M492.45 504.75l4.8 4.2m0 -4.2l-4.8 4.2M493.97 506.93l4.8 4.2m0 -4.2l-4.8 4.2M495.93 494.51l4.8 4.2m0 -4.2l-4.8 4.2M497.7 494.23l4.8 4.2m0 -4.2l-4.8 4.2M498.81 506.38l4.8 4.2m0 -4.2l-4.8 4.2M500.33 497.25l4.8 4.2m0 -4.2l-4.8 4.2M502.04 503.85l4.8 4.2m0 -4.2l-4.8 4.2M503.25 515.29l4.8 4.2m0 -4.2l-4.8 4.2M504.43 500.14l4.8 4.2m0 -4.2l-4.8 4.2M505.73 496.19l4.8 4.2m0 -4.2l-4.8 4.2M507.72 501.35l4.8 4.2m0 -4.2l-4.8 4.2M509.65 507.79l4.8 4.2m0 -4.2l-4.8 4.2M511.59 499.59l4.8 4.2m0 -4.2l-4.8 4.2M512.92 495.65l4.8 4.2m0 -4.2l-4.8 4.2M514.45 506.69l4.8 4.2m0 -4.2l-4.8 4.2M515.99 496.53l4.8 4.2m0 -4.2l-4.8 4.2M517.53 506.27l4.8 4.2m0 -4.2l-4.8 4.2M519.48 502.22l4.8 4.2m0 -4.2l-4.8 4.2M521.25 507.79l4.8 4.2m0 -4.2l-4.8 4.2M522.44 501.33l4.8 4.2m0 -4.2l-4.8 4.2M524.24 498.18l4.8 4.2m0 -4.2l-4.8 4.2M526.24 497.75l4.8 4.2m0 -4.2l-4.8 4.2M528.11 503.86l4.8 4.2m0 -4.2l-4.8 4.2M529.48 497.97l4.8 4.2m0 -4.2l-4.8 4.2M530.75 503.62l4.8 4.2m0 -4.2l-4.8 4.2M532.28 501.05l4.8 4.2m0 -4.2l-4.8 4.2M533.87 503.12l4.8 4.2m0 -4.2l-4.8 4.2M535.72 495.33l4.8 4.2m0 -4.2l-4.8 4.2M536.95 505.85l4.8 4.2m0 -4.2l-4.8 4.2M538.6 501.34l4.8 4.2m0 -4.2l-4.8 4.2M540.37 501.61l4.8 4.2m0 -4.2l-4.8 4.2M542.06 500.71l4.8 4.2m0 -4.2l-4.8 4.2M543.67 502.47l4.8 4.2m0 -4.2l-4.8 4.2M545.47 498.6l4.8 4.2m0 -4.2l-4.8 4.2M546.68 507.08l4.8 4.2m0 -4.2l-4.8 4.2M548.41 500.52l4.8 4.2m0 -4.2l-4.8 4.2M549.69 500.22l4.8 4.2m0 -4.2l-4.8 4.2M551.46 505.8l4.8 4.2m0 -4.2l-4.8 4.2M552.99 501.27l4.8 4.2m0 -4.2l-4.8 4.2M554.91 490.2l4.8 4.2m0 -4.2l-4.8 4.2M556.83 501.53l4.8 4.2m0 -4.2l-4.8 4.2M558.57 495.58l4.8 4.2m0 -4.2l-4.8 4.2M559.71 503.14l4.8 4.2m0 -4.2l-4.8 4.2M561.6 496.11l4.8 4.2m0 -4.2l-4.8 4.2M563.01 499.71l4.8 4.2m0 -4.2l-4.8 4.2M564.18 501.62l4.8 4.2m0 -4.2l-4.8 4.2M565.83 498.92l4.8 4.2m0 -4.2l-4.8 4.2M567.8 500.01l4.8 4.2m0 -4.2l-4.8 4.2M569.52 501.71l4.8 4.2m0 -4.2l-4.8 4.2M571.16 494.53l4.8 4.2m0 -4.2l-4.8 4.2M572.46 513.08l4.8 4.2m0 -4.2l-4.8 4.2M574.05 502.4l4.8 4.2m0 -4.2l-4.8 4.2M575.22 495.79l4.8 4.2m0 -4.2l-4.8 4.2M576.56 510.87l4.8 4.2m0 -4.2l-4.8 4.2M578.38 499.38l4.8 4.2m0 -4.2l-4.8 4.2M579.63 495.55l4.8 4.2m0 -4.2l-4.8 4.2M581.45 502.32l4.8 4.2m0 -4.2l-4.8 4.2M583 495.4l4.8 4.2m0 -4.2l-4.8 4.2M584.74 493.1l4.8 4.2m0 -4.2l-4.8 4.2M586.57 505.19l4.8 4.2m0 -4.2l-4.8 4.2M588.44 508.95l4.8 4.2m0 -4.2l-4.8 4.2M589.91 501.43l4.8 4.2m0 -4.2l-4.8 4.2M591.37 501.35l4.8 4.2m0 -4.2l-4.8 4.2M592.8 509.12l4.8 4.2m0 -4.2l-4.8 4.2M594.67 498.85l4.8 4.2m0 -4.2l-4.8 4.2M596.35 494.1l4.8 4.2m0 -4.2l-4.8 4.2M597.69 498.87l4.8 4.2m0 -4.2l-4.8 4.2M599.37 497.73l4.8 4.2m0 -4.2l-4.8 4.2M601.1 497.66l4.8 4.2m0 -4.2l-4.8 4.2M602.43 512.81l4.8 4.2m0 -4.2l-4.8 4.2M604.14 498.76l4.8 4.2m0 -4.2l-4.8 4.2M605.41 498.37l4.8 4.2m0 -4.2l-4.8 4.2M607.23 510.5l4.8 4.2m0 -4.2l-4.8 4.2M608.49 494.17l4.8 4.2m0 -4.2l-4.8 4.2M610.37 503.07l4.8 4.2m0 -4.2l-4.8 4.2M611.6 503.91l4.8 4.2m0 -4.2l-4.8 4.2M612.89 503.02l4.8 4.2m0 -4.2l-4.8 4.2M614.49 490.15l4.8 4.2m0 -4.2l-4.8 4.2M615.98 494.29l4.8 4.2m0 -4.2l-4.8 4.2M617.33 491.62l4.8 4.2m0 -4.2l-4.8 4.2M618.5 498.72l4.8 4.2m0 -4.2l-4.8 4.2M619.61 494.26l4.8 4.2m0 -4.2l-4.8 4.2M620.71 502.33l4.8 4.2m0 -4.2l-4.8 4.2M622.18 498.25l4.8 4.2m0 -4.2l-4.8 4.2M623.78 504.33l4.8 4.2m0 -4.2l-4.8 4.2M625.11 502.13l4.8 4.2m0 -4.2l-4.8 4.2M626.44 498.4l4.8 4.2m0 -4.2l-4.8 4.2M628.31 507.43l4.8 4.2m0 -4.2l-4.8 4.2M630.01 500.96l4.8 4.2m0 -4.2l-4.8 4.2M631.53 499.62l4.8 4.2m0 -4.2l-4.8 4.2M632.96 500.35l4.8 4.2m0 -4.2l-4.8 4.2M634.51 505.03l4.8 4.2m0 -4.2l-4.8 4.2M636.21 497.8l4.8 4.2m0 -4.2l-4.8 4.2M638.06 509.56l4.8 4.2m0 -4.2l-4.8 4.2M639.72 497.82l4.8 4.2m0 -4.2l-4.8 4.2M641.28 500.62l4.8 4.2m0 -4.2l-4.8 4.2M642.94 505.26l4.8 4.2m0 -4.2l-4.8 4.2M644.58 499.35l4.8 4.2m0 -4.2l-4.8 4.2M645.84 498.05l4.8 4.2m0 -4.2l-4.8 4.2M647.25 499.97l4.8 4.2m0 -4.2l-4.8 4.2M648.52 495.38l4.8 4.2m0 -4.2l-4.8 4.2M650.47 500.05l4.8 4.2m0 -4.2l-4.8 4.2M651.59 499.88l4.8 4.2m0 -4.2l-4.8 4.2M652.98 499.01l4.8 4.2m0 -4.2l-4.8 4.2M654.53 498.65l4.8 4.2m0 -4.2l-4.8 4.2M655.98 511.93l4.8 4.2m0 -4.2l-4.8 4.2M657.78 501.56l4.8 4.2m0 -4.2l-4.8 4.2M659.7 500.92l4.8 4.2m0 -4.2l-4.8 4.2M661.11 508.77l4.8 4.2m0 -4.2l-4.8 4.2M663.04 497.61l4.8 4.2m0 -4.2l-4.8 4.2M664.81 506.4l4.8 4.2m0 -4.2l-4.8 4.2M666.25 498.43l4.8 4.2m0 -4.2l-4.8 4.2M668.18 506.65l4.8 4.2m0 -4.2l-4.8 4.2M669.33 501.85l4.8 4.2m0 -4.2l-4.8 4.2M670.72 501.08l4.8 4.2m0 -4.2l-4.8 4.2M672.32 493.24l4.8 4.2m0 -4.2l-4.8 4.2M674.1 498.7l4.8 4.2m0 -4.2l-4.8 4.2M675.91 502.38l4.8 4.2m0 -4.2l-4.8 4.2M677.1 500.85l4.8 4.2m0 -4.2l-4.8 4.2M678.51 496.58l4.8 4.2m0 -4.2l-4.8 4.2M679.8 495.11l4.8 4.2m0 -4.2l-4.8 4.2M681.11 500.28l4.8 4.2m0 -4.2l-4.8 4.2M682.89 499.3l4.8 4.2m0 -4.2l-4.8 4.2M684.78 502.27l4.8 4.2m0 -4.2l-4.8 4.2M686.72 499.52l4.8 4.2m0 -4.2l-4.8 4.2M688.68 503.95l4.8 4.2m0 -4.2l-4.8 4.2M690.16 501.83l4.8 4.2m0 -4.2l-4.8 4.2M691.7 501.7l4.8 4.2m0 -4.2l-4.8 4.2M693.28 506.31l4.8 4.2m0 -4.2l-4.8 4.2M695.27 488.37l4.8 4.2m0 -4.2l-4.8 4.2M697 493.47l4.8 4.2m0 -4.2l-4.8 4.2M698.29 512.28l4.8 4.2m0 -4.2l-4.8 4.2M699.55 497.81l4.8 4.2m0 -4.2l-4.8 4.2M700.88 496.87l4.8 4.2m0 -4.2l-4.8 4.2M702.54 496.07l4.8 4.2m0 -4.2l-4.8 4.2M703.82 494.71l4.8 4.2m0 -4.2l-4.8 4.2M705.71 495.01l4.8 4.2m0 -4.2l-4.8 4.2M707.05 501.2l4.8 4.2m0 -4.2l-4.8 4.2M708.7 496.51l4.8 4.2m0 -4.2l-4.8 4.2M709.88 491.33l4.8 4.2m0 -4.2l-4.8 4.2M711.36 499.84l4.8 4.2m0 -4.2l-4.8 4.2M713.25 495.51l4.8 4.2m0 -4.2l-4.8 4.2M714.42 499.23l4.8 4.2m0 -4.2l-4.8 4.2M715.7 500.46l4.8 4.2m0 -4.2l-4.8 4.2M717 500.77l4.8 4.2m0 -4.2l-4.8 4.2M718.62 501.8l4.8 4.2m0 -4.2l-4.8 4.2M719.96 496.4l4.8 4.2m0 -4.2l-4.8 4.2M721.08 496.83l4.8 4.2m0 -4.2l-4.8 4.2M722.71 490.22l4.8 4.2m0 -4.2l-4.8 4.2M723.9 501.82l4.8 4.2m0 -4.2l-4.8 4.2M725.69 486.08l4.8 4.2m0 -4.2l-4.8 4.2M726.98 488.3l4.8 4.2m0 -4.2l-4.8 4.2M728.1 484.83l4.8 4.2m0 -4.2l-4.8 4.2M730.09 493.61l4.8 4.2m0 -4.2l-4.8 4.2M731.97 498.08l4.8 4.2m0 -4.2l-4.8 4.2M733.23 499.9l4.8 4.2m0 -4.2l-4.8 4.2M734.76 497.4l4.8 4.2m0 -4.2l-4.8 4.2M735.88 498.1l4.8 4.2m0 -4.2l-4.8 4.2M737.37 494.4l4.8 4.2m0 -4.2l-4.8 4.2M738.52 485.43l4.8 4.2m0 -4.2l-4.8 4.2M740.21 490.89l4.8 4.2m0 -4.2l-4.8 4.2M741.84 514.31l4.8 4.2m0 -4.2l-4.8 4.2M734.4 462.55l4.8 4.2m0 -4.2l-4.8 4.2M741.6 462.55l4.8 4.2m0 -4.2l-4.8 4.2" fill="none" stroke="#111" stroke-width="1.05"/>
<line x1="45.5" y1="502.9" x2="748.0" y2="502.9" stroke="#f00" stroke-width="1.2"/>
<line x1="45.5" y1="503.5" x2="748.0" y2="503.5" stroke="#f00" stroke-width="2.4" stroke-dasharray="7.2 2.4"/>
<rect x="45.5" y="464.0" width="702.5" height="79.2" fill="none" stroke="#5a5a5a" stroke-width="1"/>
<rect x="51.9" y="468.9" width="186.4" height="15.9" rx="2.2" fill="#fff" fill-opacity="0.82" stroke="#d4d4d4" stroke-width="0.8"/>
<line x1="56.7" y1="476.1" x2="82.4" y2="476.1" stroke="#f00" stroke-width="2" stroke-dasharray="6.4 3.2"/>
<text x="91.95" y="479.8" font-size="10.73" textLength="142.89" lengthAdjust="spacingAndGlyphs" fill="#222">Median: -0.85 ± 12.42</text>
<line x1="43.5" y1="464.65" x2="45.5" y2="464.65" stroke="#5a5a5a" stroke-width="0.9"/>
<text x="28.14" y="467.55" font-size="8.42" textLength="12.72" lengthAdjust="spacingAndGlyphs" fill="#222">60</text>
<line x1="43.5" y1="477.4" x2="45.5" y2="477.4" stroke="#5a5a5a" stroke-width="0.9"/>
<text x="28.14" y="480.3" font-size="8.42" textLength="12.72" lengthAdjust="spacingAndGlyphs" fill="#222">40</text>
<line x1="43.5" y1="490.15" x2="45.5" y2="490.15" stroke="#5a5a5a" stroke-width="0.9"/>
<text x="28.14" y="493.05" font-size="8.42" textLength="12.72" lengthAdjust="spacingAndGlyphs" fill="#222">20</text>
<line x1="43.5" y1="502.9" x2="45.5" y2="502.9" stroke="#5a5a5a" stroke-width="0.9"/>
<text x="34.5" y="505.8" font-size="8.42" textLength="6.36" lengthAdjust="spacingAndGlyphs" fill="#222">0</text>
<line x1="43.5" y1="515.65" x2="45.5" y2="515.65" stroke="#5a5a5a" stroke-width="0.9"/>
<text x="19.76" y="518.55" font-size="8.42" textLength="21.1" lengthAdjust="spacingAndGlyphs" fill="#222">−20</text>
<line x1="43.5" y1="528.4" x2="45.5" y2="528.4" stroke="#5a5a5a" stroke-width="0.9"/>
<text x="19.76" y="531.3" font-size="8.42" textLength="21.1" lengthAdjust="spacingAndGlyphs" fill="#222">−40</text>
<line x1="43.5" y1="541.15" x2="45.5" y2="541.15" stroke="#5a5a5a" stroke-width="0.9"/>
<text x="19.76" y="544.05" font-size="8.42" textLength="21.1" lengthAdjust="spacingAndGlyphs" fill="#222">−60</text>
<line x1="52.66" y1="543.2" x2="52.66" y2="545.2" stroke="#5a5a5a" stroke-width="0.9"/>
<text x="46.08" y="552.4" font-size="8.42" textLength="12.72" lengthAdjust="spacingAndGlyphs" fill="#222">10</text>
<line x1="126.19" y1="543.2" x2="126.19" y2="545.2" stroke="#5a5a5a" stroke-width="0.9"/>
<text x="119.75" y="552.4" font-size="8.42" textLength="12.72" lengthAdjust="spacingAndGlyphs" fill="#222">11</text>
<line x1="199.72" y1="543.2" x2="199.72" y2="545.2" stroke="#5a5a5a" stroke-width="0.9"/>
<text x="193.31" y="552.4" font-size="8.42" textLength="12.72" lengthAdjust="spacingAndGlyphs" fill="#222">12</text>
<line x1="273.25" y1="543.2" x2="273.25" y2="545.2" stroke="#5a5a5a" stroke-width="0.9"/>
<text x="266.74" y="552.4" font-size="8.42" textLength="12.72" lengthAdjust="spacingAndGlyphs" fill="#222">13</text>
<line x1="346.78" y1="543.2" x2="346.78" y2="545.2" stroke="#5a5a5a" stroke-width="0.9"/>
<text x="340.15" y="552.4" font-size="8.42" textLength="12.72" lengthAdjust="spacingAndGlyphs" fill="#222">14</text>
<line x1="420.31" y1="543.2" x2="420.31" y2="545.2" stroke="#5a5a5a" stroke-width="0.9"/>
<text x="413.84" y="552.4" font-size="8.42" textLength="12.72" lengthAdjust="spacingAndGlyphs" fill="#222">15</text>
<line x1="493.84" y1="543.2" x2="493.84" y2="545.2" stroke="#5a5a5a" stroke-width="0.9"/>
<text x="487.25" y="552.4" font-size="8.42" textLength="12.72" lengthAdjust="spacingAndGlyphs" fill="#222">16</text>
<line x1="567.37" y1="543.2" x2="567.37" y2="545.2" stroke="#5a5a5a" stroke-width="0.9"/>
<text x="560.89" y="552.4" font-size="8.42" textLength="12.72" lengthAdjust="spacingAndGlyphs" fill="#222">17</text>
<line x1="640.9" y1="543.2" x2="640.9" y2="545.2" stroke="#5a5a5a" stroke-width="0.9"/>
<text x="634.33" y="552.4" font-size="8.42" textLength="12.72" lengthAdjust="spacingAndGlyphs" fill="#222">18</text>
<line x1="714.43" y1="543.2" x2="714.43" y2="545.2" stroke="#5a5a5a" stroke-width="0.9"/>
<text x="707.88" y="552.4" font-size="8.42" textLength="12.72" lengthAdjust="spacingAndGlyphs" fill="#222">19</text>
<text x="341.68" y="563.9" font-size="10.72" textLength="109.91" lengthAdjust="spacingAndGlyphs" fill="#222">Wavelength [µm]</text>
<text transform="translate(14.2,503.6) rotate(-90)" x="-31.72" y="0" font-size="13.46" textLength="63.32" lengthAdjust="spacingAndGlyphs" fill="#222">Residual [%]</text>
<rect x="45.5" y="574.2" width="702.5" height="175.1" fill="none" stroke="#5a5a5a" stroke-width="1"/>
<line x1="405" y1="574.7" x2="405" y2="748.8" stroke="#6a6a6a" stroke-width="0.9" stroke-dasharray="2.15 1.75"/>
<line x1="610.2" y1="574.7" x2="610.2" y2="748.8" stroke="#6a6a6a" stroke-width="0.9" stroke-dasharray="2.15 1.75"/>
<line x1="662.2" y1="574.7" x2="662.2" y2="748.8" stroke="#6a6a6a" stroke-width="0.9" stroke-dasharray="2.15 1.75"/>
<line x1="45.5" y1="741.6" x2="748.0" y2="741.6" stroke="#222" stroke-width="0.9" stroke-dasharray="3.5 1.6"/>
<polyline points="403.6,723 405.2,716.2 406.8,723" fill="none" stroke="#e8141c" stroke-width="1.4" stroke-linejoin="round"/>
<polyline points="608.8,717 611,645.6 613,645.6 615,717" fill="none" stroke="#e8141c" stroke-width="1.5" stroke-linejoin="round"/>
<polyline points="660.8,715.8 663.4,583.4 665.4,583.4 667.6,715.8" fill="none" stroke="#e8141c" stroke-width="1.5" stroke-linejoin="round"/>
<path d="M48.2 731.79l2.6 2.2m0 -2.2l-2.6 2.2M49.27 730.32l2.6 2.2m0 -2.2l-2.6 2.2M50.33 729.84l2.6 2.2m0 -2.2l-2.6 2.2M51.26 728.42l2.6 2.2m0 -2.2l-2.6 2.2M51.91 727.23l2.6 2.2m0 -2.2l-2.6 2.2M52.8 724.77l2.6 2.2m0 -2.2l-2.6 2.2M53.54 727.65l2.6 2.2m0 -2.2l-2.6 2.2M54.54 726.02l2.6 2.2m0 -2.2l-2.6 2.2M55.45 727.07l2.6 2.2m0 -2.2l-2.6 2.2M56.15 727.47l2.6 2.2m0 -2.2l-2.6 2.2M57.24 728.4l2.6 2.2m0 -2.2l-2.6 2.2M58.11 728l2.6 2.2m0 -2.2l-2.6 2.2M58.82 729.36l2.6 2.2m0 -2.2l-2.6 2.2M59.86 728.17l2.6 2.2m0 -2.2l-2.6 2.2M60.64 728.68l2.6 2.2m0 -2.2l-2.6 2.2M61.39 728.81l2.6 2.2m0 -2.2l-2.6 2.2M62 728.28l2.6 2.2m0 -2.2l-2.6 2.2M63 728.04l2.6 2.2m0 -2.2l-2.6 2.2M63.76 727.6l2.6 2.2m0 -2.2l-2.6 2.2M64.85 728.65l2.6 2.2m0 -2.2l-2.6 2.2M65.82 728.61l2.6 2.2m0 -2.2l-2.6 2.2M66.61 728.46l2.6 2.2m0 -2.2l-2.6 2.2M67.21 728.92l2.6 2.2m0 -2.2l-2.6 2.2M67.91 728.67l2.6 2.2m0 -2.2l-2.6 2.2M68.98 729.08l2.6 2.2m0 -2.2l-2.6 2.2M69.84 728.38l2.6 2.2m0 -2.2l-2.6 2.2M70.49 728.57l2.6 2.2m0 -2.2l-2.6 2.2M71.11 727.51l2.6 2.2m0 -2.2l-2.6 2.2M71.76 728.14l2.6 2.2m0 -2.2l-2.6 2.2M72.53 729.29l2.6 2.2m0 -2.2l-2.6 2.2M73.4 728.4l2.6 2.2m0 -2.2l-2.6 2.2M74.04 729.09l2.6 2.2m0 -2.2l-2.6 2.2M74.98 728.96l2.6 2.2m0 -2.2l-2.6 2.2M76.08 728.61l2.6 2.2m0 -2.2l-2.6 2.2M76.88 728.69l2.6 2.2m0 -2.2l-2.6 2.2M77.71 729.43l2.6 2.2m0 -2.2l-2.6 2.2M78.33 728.76l2.6 2.2m0 -2.2l-2.6 2.2M79.35 728.56l2.6 2.2m0 -2.2l-2.6 2.2M80.32 729.45l2.6 2.2m0 -2.2l-2.6 2.2M80.97 728.39l2.6 2.2m0 -2.2l-2.6 2.2M81.65 728.93l2.6 2.2m0 -2.2l-2.6 2.2M82.75 728.25l2.6 2.2m0 -2.2l-2.6 2.2M83.83 728l2.6 2.2m0 -2.2l-2.6 2.2M84.67 728.87l2.6 2.2m0 -2.2l-2.6 2.2M85.48 729.03l2.6 2.2m0 -2.2l-2.6 2.2M86.56 729.15l2.6 2.2m0 -2.2l-2.6 2.2M87.41 728.55l2.6 2.2m0 -2.2l-2.6 2.2M88.4 728.92l2.6 2.2m0 -2.2l-2.6 2.2M89.18 728.94l2.6 2.2m0 -2.2l-2.6 2.2M90.11 727.71l2.6 2.2m0 -2.2l-2.6 2.2M90.89 728.59l2.6 2.2m0 -2.2l-2.6 2.2M91.88 728.27l2.6 2.2m0 -2.2l-2.6 2.2M92.62 729.57l2.6 2.2m0 -2.2l-2.6 2.2M93.23 728.47l2.6 2.2m0 -2.2l-2.6 2.2M93.95 728.45l2.6 2.2m0 -2.2l-2.6 2.2M94.88 728.19l2.6 2.2m0 -2.2l-2.6 2.2M95.65 728.19l2.6 2.2m0 -2.2l-2.6 2.2M96.43 728.03l2.6 2.2m0 -2.2l-2.6 2.2M97.46 728.2l2.6 2.2m0 -2.2l-2.6 2.2M98.32 727.31l2.6 2.2m0 -2.2l-2.6 2.2M99 729.57l2.6 2.2m0 -2.2l-2.6 2.2M99.95 727.64l2.6 2.2m0 -2.2l-2.6 2.2M100.91 729.36l2.6 2.2m0 -2.2l-2.6 2.2M101.85 729.8l2.6 2.2m0 -2.2l-2.6 2.2M102.76 729.02l2.6 2.2m0 -2.2l-2.6 2.2M103.37 728.05l2.6 2.2m0 -2.2l-2.6 2.2M104.19 728.66l2.6 2.2m0 -2.2l-2.6 2.2M105.11 728.58l2.6 2.2m0 -2.2l-2.6 2.2M105.94 728.96l2.6 2.2m0 -2.2l-2.6 2.2M106.7 729.14l2.6 2.2m0 -2.2l-2.6 2.2M107.4 729.6l2.6 2.2m0 -2.2l-2.6 2.2M108.31 729.11l2.6 2.2m0 -2.2l-2.6 2.2M109.03 728.99l2.6 2.2m0 -2.2l-2.6 2.2M109.76 728.97l2.6 2.2m0 -2.2l-2.6 2.2M110.42 729.27l2.6 2.2m0 -2.2l-2.6 2.2M111.33 728.5l2.6 2.2m0 -2.2l-2.6 2.2M112.2 728.59l2.6 2.2m0 -2.2l-2.6 2.2M113.21 729.7l2.6 2.2m0 -2.2l-2.6 2.2M114.22 728.68l2.6 2.2m0 -2.2l-2.6 2.2M115.12 728.6l2.6 2.2m0 -2.2l-2.6 2.2M116.19 729.87l2.6 2.2m0 -2.2l-2.6 2.2M117.24 726.7l2.6 2.2m0 -2.2l-2.6 2.2M118.12 728.84l2.6 2.2m0 -2.2l-2.6 2.2M119.17 728.86l2.6 2.2m0 -2.2l-2.6 2.2M119.98 729.11l2.6 2.2m0 -2.2l-2.6 2.2M120.77 729.48l2.6 2.2m0 -2.2l-2.6 2.2M121.83 728.55l2.6 2.2m0 -2.2l-2.6 2.2M122.68 728.62l2.6 2.2m0 -2.2l-2.6 2.2M123.44 729.54l2.6 2.2m0 -2.2l-2.6 2.2M124.28 728.73l2.6 2.2m0 -2.2l-2.6 2.2M125.19 728.29l2.6 2.2m0 -2.2l-2.6 2.2M126.2 725.81l2.6 2.2m0 -2.2l-2.6 2.2M126.94 729.62l2.6 2.2m0 -2.2l-2.6 2.2M127.67 728.21l2.6 2.2m0 -2.2l-2.6 2.2M128.77 728.34l2.6 2.2m0 -2.2l-2.6 2.2M129.69 729.31l2.6 2.2m0 -2.2l-2.6 2.2M130.66 729.21l2.6 2.2m0 -2.2l-2.6 2.2M131.53 729.1l2.6 2.2m0 -2.2l-2.6 2.2M132.28 727.72l2.6 2.2m0 -2.2l-2.6 2.2M133.25 728.2l2.6 2.2m0 -2.2l-2.6 2.2M133.87 728.28l2.6 2.2m0 -2.2l-2.6 2.2M134.91 728.9l2.6 2.2m0 -2.2l-2.6 2.2M135.52 728.32l2.6 2.2m0 -2.2l-2.6 2.2M136.47 727.53l2.6 2.2m0 -2.2l-2.6 2.2M137.31 728.61l2.6 2.2m0 -2.2l-2.6 2.2M138.34 727.74l2.6 2.2m0 -2.2l-2.6 2.2M139.09 728.12l2.6 2.2m0 -2.2l-2.6 2.2M140.03 727.77l2.6 2.2m0 -2.2l-2.6 2.2M140.78 728.18l2.6 2.2m0 -2.2l-2.6 2.2M141.62 726.58l2.6 2.2m0 -2.2l-2.6 2.2M142.47 727.66l2.6 2.2m0 -2.2l-2.6 2.2M143.47 728.08l2.6 2.2m0 -2.2l-2.6 2.2M144.19 728.19l2.6 2.2m0 -2.2l-2.6 2.2M144.8 726.75l2.6 2.2m0 -2.2l-2.6 2.2M145.89 728.58l2.6 2.2m0 -2.2l-2.6 2.2M146.91 727.59l2.6 2.2m0 -2.2l-2.6 2.2M147.83 728.45l2.6 2.2m0 -2.2l-2.6 2.2M148.58 727.23l2.6 2.2m0 -2.2l-2.6 2.2M149.25 727.01l2.6 2.2m0 -2.2l-2.6 2.2M150.17 727.06l2.6 2.2m0 -2.2l-2.6 2.2M150.82 727.27l2.6 2.2m0 -2.2l-2.6 2.2M151.71 727.57l2.6 2.2m0 -2.2l-2.6 2.2M152.75 727.8l2.6 2.2m0 -2.2l-2.6 2.2M153.65 727.83l2.6 2.2m0 -2.2l-2.6 2.2M154.72 727.18l2.6 2.2m0 -2.2l-2.6 2.2M155.39 727.44l2.6 2.2m0 -2.2l-2.6 2.2M156.24 727.92l2.6 2.2m0 -2.2l-2.6 2.2M156.98 726.84l2.6 2.2m0 -2.2l-2.6 2.2M157.7 727.23l2.6 2.2m0 -2.2l-2.6 2.2M158.42 726.48l2.6 2.2m0 -2.2l-2.6 2.2M159.39 727.59l2.6 2.2m0 -2.2l-2.6 2.2M160.03 728.02l2.6 2.2m0 -2.2l-2.6 2.2M160.68 727.71l2.6 2.2m0 -2.2l-2.6 2.2M161.72 727.68l2.6 2.2m0 -2.2l-2.6 2.2M162.48 727.13l2.6 2.2m0 -2.2l-2.6 2.2M163.1 726.93l2.6 2.2m0 -2.2l-2.6 2.2M164.18 726.86l2.6 2.2m0 -2.2l-2.6 2.2M165.27 726.62l2.6 2.2m0 -2.2l-2.6 2.2M166.28 727.51l2.6 2.2m0 -2.2l-2.6 2.2M166.99 727.6l2.6 2.2m0 -2.2l-2.6 2.2M167.9 726.58l2.6 2.2m0 -2.2l-2.6 2.2M168.92 727.38l2.6 2.2m0 -2.2l-2.6 2.2M169.92 725.79l2.6 2.2m0 -2.2l-2.6 2.2M170.81 727.31l2.6 2.2m0 -2.2l-2.6 2.2M171.78 726.59l2.6 2.2m0 -2.2l-2.6 2.2M172.49 726.95l2.6 2.2m0 -2.2l-2.6 2.2M173.53 722.81l2.6 2.2m0 -2.2l-2.6 2.2M174.58 726.84l2.6 2.2m0 -2.2l-2.6 2.2M175.39 726.43l2.6 2.2m0 -2.2l-2.6 2.2M176.07 726.74l2.6 2.2m0 -2.2l-2.6 2.2M176.86 726.91l2.6 2.2m0 -2.2l-2.6 2.2M177.6 726.4l2.6 2.2m0 -2.2l-2.6 2.2M178.34 726.67l2.6 2.2m0 -2.2l-2.6 2.2M179.41 727.26l2.6 2.2m0 -2.2l-2.6 2.2M180.48 726.2l2.6 2.2m0 -2.2l-2.6 2.2M181.55 725.68l2.6 2.2m0 -2.2l-2.6 2.2M182.48 726.26l2.6 2.2m0 -2.2l-2.6 2.2M183.16 727.34l2.6 2.2m0 -2.2l-2.6 2.2M183.78 726.48l2.6 2.2m0 -2.2l-2.6 2.2M184.86 726.66l2.6 2.2m0 -2.2l-2.6 2.2M185.62 725.91l2.6 2.2m0 -2.2l-2.6 2.2M186.58 726.46l2.6 2.2m0 -2.2l-2.6 2.2M187.3 725.67l2.6 2.2m0 -2.2l-2.6 2.2M188.11 725.06l2.6 2.2m0 -2.2l-2.6 2.2M188.72 727.27l2.6 2.2m0 -2.2l-2.6 2.2M189.34 726.67l2.6 2.2m0 -2.2l-2.6 2.2M190.43 725.69l2.6 2.2m0 -2.2l-2.6 2.2M191.07 726.16l2.6 2.2m0 -2.2l-2.6 2.2M191.92 726.38l2.6 2.2m0 -2.2l-2.6 2.2M192.54 726.1l2.6 2.2m0 -2.2l-2.6 2.2M193.17 726.14l2.6 2.2m0 -2.2l-2.6 2.2M193.8 726.75l2.6 2.2m0 -2.2l-2.6 2.2M194.88 726.41l2.6 2.2m0 -2.2l-2.6 2.2M195.75 726.72l2.6 2.2m0 -2.2l-2.6 2.2M196.51 726.64l2.6 2.2m0 -2.2l-2.6 2.2M197.4 726.49l2.6 2.2m0 -2.2l-2.6 2.2M198.11 726.74l2.6 2.2m0 -2.2l-2.6 2.2M199 726.06l2.6 2.2m0 -2.2l-2.6 2.2M199.91 725.74l2.6 2.2m0 -2.2l-2.6 2.2M200.73 724.61l2.6 2.2m0 -2.2l-2.6 2.2M201.45 726.28l2.6 2.2m0 -2.2l-2.6 2.2M202.43 726.21l2.6 2.2m0 -2.2l-2.6 2.2M203.19 726.01l2.6 2.2m0 -2.2l-2.6 2.2M203.83 726l2.6 2.2m0 -2.2l-2.6 2.2M204.72 725.8l2.6 2.2m0 -2.2l-2.6 2.2M205.34 725.99l2.6 2.2m0 -2.2l-2.6 2.2M206.09 725.56l2.6 2.2m0 -2.2l-2.6 2.2M206.84 725.92l2.6 2.2m0 -2.2l-2.6 2.2M207.72 726.39l2.6 2.2m0 -2.2l-2.6 2.2M208.61 725.14l2.6 2.2m0 -2.2l-2.6 2.2M209.62 724.8l2.6 2.2m0 -2.2l-2.6 2.2M210.57 724.37l2.6 2.2m0 -2.2l-2.6 2.2M211.57 725.34l2.6 2.2m0 -2.2l-2.6 2.2M212.26 725.77l2.6 2.2m0 -2.2l-2.6 2.2M213.2 725.48l2.6 2.2m0 -2.2l-2.6 2.2M214.08 725.71l2.6 2.2m0 -2.2l-2.6 2.2M214.7 725.86l2.6 2.2m0 -2.2l-2.6 2.2M215.78 725.85l2.6 2.2m0 -2.2l-2.6 2.2M216.49 724.91l2.6 2.2m0 -2.2l-2.6 2.2M217.1 725.65l2.6 2.2m0 -2.2l-2.6 2.2M218.11 725.33l2.6 2.2m0 -2.2l-2.6 2.2M218.8 725.08l2.6 2.2m0 -2.2l-2.6 2.2M219.62 726.31l2.6 2.2m0 -2.2l-2.6 2.2M220.38 724.89l2.6 2.2m0 -2.2l-2.6 2.2M221.21 724.68l2.6 2.2m0 -2.2l-2.6 2.2M222.28 725.5l2.6 2.2m0 -2.2l-2.6 2.2M223.36 724.97l2.6 2.2m0 -2.2l-2.6 2.2M224.17 725.02l2.6 2.2m0 -2.2l-2.6 2.2M225.26 725.91l2.6 2.2m0 -2.2l-2.6 2.2M226.3 725.27l2.6 2.2m0 -2.2l-2.6 2.2M227.01 725.02l2.6 2.2m0 -2.2l-2.6 2.2M227.79 725.46l2.6 2.2m0 -2.2l-2.6 2.2M228.51 724.77l2.6 2.2m0 -2.2l-2.6 2.2M229.53 725.37l2.6 2.2m0 -2.2l-2.6 2.2M230.44 724.71l2.6 2.2m0 -2.2l-2.6 2.2M231.28 725.15l2.6 2.2m0 -2.2l-2.6 2.2M231.97 725.71l2.6 2.2m0 -2.2l-2.6 2.2M232.67 725.46l2.6 2.2m0 -2.2l-2.6 2.2M233.43 724.39l2.6 2.2m0 -2.2l-2.6 2.2M234.43 723.76l2.6 2.2m0 -2.2l-2.6 2.2M235.03 724.04l2.6 2.2m0 -2.2l-2.6 2.2M235.83 724.75l2.6 2.2m0 -2.2l-2.6 2.2M236.44 724.56l2.6 2.2m0 -2.2l-2.6 2.2M237.39 725.3l2.6 2.2m0 -2.2l-2.6 2.2M238.48 725.27l2.6 2.2m0 -2.2l-2.6 2.2M239.42 723.45l2.6 2.2m0 -2.2l-2.6 2.2M240.42 724.14l2.6 2.2m0 -2.2l-2.6 2.2M241.28 725.25l2.6 2.2m0 -2.2l-2.6 2.2M241.92 725.09l2.6 2.2m0 -2.2l-2.6 2.2M242.9 724.88l2.6 2.2m0 -2.2l-2.6 2.2M243.65 724.99l2.6 2.2m0 -2.2l-2.6 2.2M244.29 724.33l2.6 2.2m0 -2.2l-2.6 2.2M245.22 725.74l2.6 2.2m0 -2.2l-2.6 2.2M246.24 724.14l2.6 2.2m0 -2.2l-2.6 2.2M247.15 724.63l2.6 2.2m0 -2.2l-2.6 2.2M247.87 725.13l2.6 2.2m0 -2.2l-2.6 2.2M248.74 724.36l2.6 2.2m0 -2.2l-2.6 2.2M249.43 724.42l2.6 2.2m0 -2.2l-2.6 2.2M250.48 725.07l2.6 2.2m0 -2.2l-2.6 2.2M251.13 723.92l2.6 2.2m0 -2.2l-2.6 2.2M252.01 724.23l2.6 2.2m0 -2.2l-2.6 2.2M252.72 723.78l2.6 2.2m0 -2.2l-2.6 2.2M253.45 723.41l2.6 2.2m0 -2.2l-2.6 2.2M254.37 723.43l2.6 2.2m0 -2.2l-2.6 2.2M255.08 725.03l2.6 2.2m0 -2.2l-2.6 2.2M256.12 724.59l2.6 2.2m0 -2.2l-2.6 2.2M256.93 723.63l2.6 2.2m0 -2.2l-2.6 2.2M257.68 724.61l2.6 2.2m0 -2.2l-2.6 2.2M258.58 724.64l2.6 2.2m0 -2.2l-2.6 2.2M259.24 724.17l2.6 2.2m0 -2.2l-2.6 2.2M260.14 724.4l2.6 2.2m0 -2.2l-2.6 2.2M261.06 724.58l2.6 2.2m0 -2.2l-2.6 2.2M262.03 724.85l2.6 2.2m0 -2.2l-2.6 2.2M263.11 724.46l2.6 2.2m0 -2.2l-2.6 2.2M264.13 723.34l2.6 2.2m0 -2.2l-2.6 2.2M265.08 723.09l2.6 2.2m0 -2.2l-2.6 2.2M265.92 724.48l2.6 2.2m0 -2.2l-2.6 2.2M266.56 724.38l2.6 2.2m0 -2.2l-2.6 2.2M267.47 724.94l2.6 2.2m0 -2.2l-2.6 2.2M268.48 724.74l2.6 2.2m0 -2.2l-2.6 2.2M269.44 725.45l2.6 2.2m0 -2.2l-2.6 2.2M270.52 723.4l2.6 2.2m0 -2.2l-2.6 2.2M271.17 724.46l2.6 2.2m0 -2.2l-2.6 2.2M272 724.23l2.6 2.2m0 -2.2l-2.6 2.2M272.97 724.59l2.6 2.2m0 -2.2l-2.6 2.2M273.76 724.36l2.6 2.2m0 -2.2l-2.6 2.2M274.66 723.4l2.6 2.2m0 -2.2l-2.6 2.2M275.74 724.67l2.6 2.2m0 -2.2l-2.6 2.2M276.37 724.07l2.6 2.2m0 -2.2l-2.6 2.2M277.03 723.05l2.6 2.2m0 -2.2l-2.6 2.2M277.81 723.89l2.6 2.2m0 -2.2l-2.6 2.2M278.56 722.64l2.6 2.2m0 -2.2l-2.6 2.2M279.5 724.16l2.6 2.2m0 -2.2l-2.6 2.2M280.27 723.2l2.6 2.2m0 -2.2l-2.6 2.2M281.13 724.54l2.6 2.2m0 -2.2l-2.6 2.2M282.07 724.13l2.6 2.2m0 -2.2l-2.6 2.2M282.8 724.49l2.6 2.2m0 -2.2l-2.6 2.2M283.67 724.3l2.6 2.2m0 -2.2l-2.6 2.2M284.74 724.37l2.6 2.2m0 -2.2l-2.6 2.2M285.34 724.19l2.6 2.2m0 -2.2l-2.6 2.2M286.12 724.33l2.6 2.2m0 -2.2l-2.6 2.2M286.91 723.91l2.6 2.2m0 -2.2l-2.6 2.2M287.54 724.17l2.6 2.2m0 -2.2l-2.6 2.2M288.38 725.44l2.6 2.2m0 -2.2l-2.6 2.2M289.12 724.71l2.6 2.2m0 -2.2l-2.6 2.2M289.74 723.57l2.6 2.2m0 -2.2l-2.6 2.2M290.73 723.07l2.6 2.2m0 -2.2l-2.6 2.2M291.65 724.12l2.6 2.2m0 -2.2l-2.6 2.2M292.27 724.81l2.6 2.2m0 -2.2l-2.6 2.2M293.31 723.93l2.6 2.2m0 -2.2l-2.6 2.2M294.37 722.14l2.6 2.2m0 -2.2l-2.6 2.2M295.41 725.29l2.6 2.2m0 -2.2l-2.6 2.2M296.4 722.32l2.6 2.2m0 -2.2l-2.6 2.2M297.11 724.48l2.6 2.2m0 -2.2l-2.6 2.2M297.85 723.23l2.6 2.2m0 -2.2l-2.6 2.2M298.51 723.8l2.6 2.2m0 -2.2l-2.6 2.2M299.34 724.22l2.6 2.2m0 -2.2l-2.6 2.2M300.38 723.94l2.6 2.2m0 -2.2l-2.6 2.2M300.99 724.39l2.6 2.2m0 -2.2l-2.6 2.2M301.66 722.31l2.6 2.2m0 -2.2l-2.6 2.2M302.72 723.78l2.6 2.2m0 -2.2l-2.6 2.2M303.53 723.57l2.6 2.2m0 -2.2l-2.6 2.2M304.51 722.89l2.6 2.2m0 -2.2l-2.6 2.2M305.37 724.34l2.6 2.2m0 -2.2l-2.6 2.2M306.32 723.83l2.6 2.2m0 -2.2l-2.6 2.2M307.11 723.73l2.6 2.2m0 -2.2l-2.6 2.2M307.94 722.2l2.6 2.2m0 -2.2l-2.6 2.2M308.83 722.78l2.6 2.2m0 -2.2l-2.6 2.2M309.7 723.5l2.6 2.2m0 -2.2l-2.6 2.2M310.65 719.66l2.6 2.2m0 -2.2l-2.6 2.2M311.46 722.68l2.6 2.2m0 -2.2l-2.6 2.2M312.09 723.48l2.6 2.2m0 -2.2l-2.6 2.2M312.71 723.07l2.6 2.2m0 -2.2l-2.6 2.2M313.46 723.84l2.6 2.2m0 -2.2l-2.6 2.2M314.39 723.98l2.6 2.2m0 -2.2l-2.6 2.2M315.34 723.19l2.6 2.2m0 -2.2l-2.6 2.2M316.42 723.94l2.6 2.2m0 -2.2l-2.6 2.2M317.49 723.38l2.6 2.2m0 -2.2l-2.6 2.2M318.31 723.34l2.6 2.2m0 -2.2l-2.6 2.2M319.37 722.66l2.6 2.2m0 -2.2l-2.6 2.2M320.25 723.53l2.6 2.2m0 -2.2l-2.6 2.2M321.09 723.08l2.6 2.2m0 -2.2l-2.6 2.2M321.8 723.15l2.6 2.2m0 -2.2l-2.6 2.2M322.57 723.4l2.6 2.2m0 -2.2l-2.6 2.2M323.65 723.29l2.6 2.2m0 -2.2l-2.6 2.2M324.62 723.79l2.6 2.2m0 -2.2l-2.6 2.2M325.64 722.88l2.6 2.2m0 -2.2l-2.6 2.2M326.36 722.86l2.6 2.2m0 -2.2l-2.6 2.2M327.4 722.08l2.6 2.2m0 -2.2l-2.6 2.2M328.07 723.74l2.6 2.2m0 -2.2l-2.6 2.2M329.04 723.17l2.6 2.2m0 -2.2l-2.6 2.2M330.05 723.2l2.6 2.2m0 -2.2l-2.6 2.2M331.09 723.99l2.6 2.2m0 -2.2l-2.6 2.2M332.05 723.4l2.6 2.2m0 -2.2l-2.6 2.2M332.95 723.45l2.6 2.2m0 -2.2l-2.6 2.2M333.58 724.62l2.6 2.2m0 -2.2l-2.6 2.2M334.23 723.78l2.6 2.2m0 -2.2l-2.6 2.2M335.28 723.42l2.6 2.2m0 -2.2l-2.6 2.2M335.91 722.42l2.6 2.2m0 -2.2l-2.6 2.2M336.89 722.22l2.6 2.2m0 -2.2l-2.6 2.2M337.64 724.13l2.6 2.2m0 -2.2l-2.6 2.2M338.69 723.11l2.6 2.2m0 -2.2l-2.6 2.2M339.37 723.19l2.6 2.2m0 -2.2l-2.6 2.2M340.07 723.54l2.6 2.2m0 -2.2l-2.6 2.2M340.85 723.62l2.6 2.2m0 -2.2l-2.6 2.2M341.77 723.35l2.6 2.2m0 -2.2l-2.6 2.2M342.44 722.13l2.6 2.2m0 -2.2l-2.6 2.2M343.33 723.08l2.6 2.2m0 -2.2l-2.6 2.2M344 722.94l2.6 2.2m0 -2.2l-2.6 2.2M345.05 723.7l2.6 2.2m0 -2.2l-2.6 2.2M345.98 722.07l2.6 2.2m0 -2.2l-2.6 2.2M346.73 723.49l2.6 2.2m0 -2.2l-2.6 2.2M347.46 722.18l2.6 2.2m0 -2.2l-2.6 2.2M348.37 723.93l2.6 2.2m0 -2.2l-2.6 2.2M349.45 723.7l2.6 2.2m0 -2.2l-2.6 2.2M350.1 723.61l2.6 2.2m0 -2.2l-2.6 2.2M351.12 722.74l2.6 2.2m0 -2.2l-2.6 2.2M351.92 722.8l2.6 2.2m0 -2.2l-2.6 2.2M352.88 722.84l2.6 2.2m0 -2.2l-2.6 2.2M353.53 723.49l2.6 2.2m0 -2.2l-2.6 2.2M354.48 721.83l2.6 2.2m0 -2.2l-2.6 2.2M355.23 723.49l2.6 2.2m0 -2.2l-2.6 2.2M356.31 723.15l2.6 2.2m0 -2.2l-2.6 2.2M356.96 721.58l2.6 2.2m0 -2.2l-2.6 2.2M357.67 723.57l2.6 2.2m0 -2.2l-2.6 2.2M358.33 722.93l2.6 2.2m0 -2.2l-2.6 2.2M359.39 723.42l2.6 2.2m0 -2.2l-2.6 2.2M360.38 722.54l2.6 2.2m0 -2.2l-2.6 2.2M361.25 724.29l2.6 2.2m0 -2.2l-2.6 2.2M362.06 723.63l2.6 2.2m0 -2.2l-2.6 2.2M362.94 723.35l2.6 2.2m0 -2.2l-2.6 2.2M363.8 722.61l2.6 2.2m0 -2.2l-2.6 2.2M364.59 721.81l2.6 2.2m0 -2.2l-2.6 2.2M365.59 721.68l2.6 2.2m0 -2.2l-2.6 2.2M366.26 724.01l2.6 2.2m0 -2.2l-2.6 2.2M367.08 723.12l2.6 2.2m0 -2.2l-2.6 2.2M367.97 722.14l2.6 2.2m0 -2.2l-2.6 2.2M368.7 722.62l2.6 2.2m0 -2.2l-2.6 2.2M369.68 722.34l2.6 2.2m0 -2.2l-2.6 2.2M370.63 722.38l2.6 2.2m0 -2.2l-2.6 2.2M371.28 722.89l2.6 2.2m0 -2.2l-2.6 2.2M371.92 722.55l2.6 2.2m0 -2.2l-2.6 2.2M372.83 722.76l2.6 2.2m0 -2.2l-2.6 2.2M373.49 722.24l2.6 2.2m0 -2.2l-2.6 2.2M374.21 722.38l2.6 2.2m0 -2.2l-2.6 2.2M374.87 722.65l2.6 2.2m0 -2.2l-2.6 2.2M375.64 721.76l2.6 2.2m0 -2.2l-2.6 2.2M376.68 721.99l2.6 2.2m0 -2.2l-2.6 2.2M377.42 721.82l2.6 2.2m0 -2.2l-2.6 2.2M378.23 723.48l2.6 2.2m0 -2.2l-2.6 2.2M379.32 723.01l2.6 2.2m0 -2.2l-2.6 2.2M380.28 719.12l2.6 2.2m0 -2.2l-2.6 2.2M381.04 722.9l2.6 2.2m0 -2.2l-2.6 2.2M382.06 721.64l2.6 2.2m0 -2.2l-2.6 2.2M382.83 722.25l2.6 2.2m0 -2.2l-2.6 2.2M383.73 721.6l2.6 2.2m0 -2.2l-2.6 2.2M384.41 722.27l2.6 2.2m0 -2.2l-2.6 2.2M385.4 722.28l2.6 2.2m0 -2.2l-2.6 2.2M386.02 721.59l2.6 2.2m0 -2.2l-2.6 2.2M386.72 722.1l2.6 2.2m0 -2.2l-2.6 2.2M387.75 722.31l2.6 2.2m0 -2.2l-2.6 2.2M388.54 723.34l2.6 2.2m0 -2.2l-2.6 2.2M389.25 722.18l2.6 2.2m0 -2.2l-2.6 2.2M390.15 722.26l2.6 2.2m0 -2.2l-2.6 2.2M391 721.69l2.6 2.2m0 -2.2l-2.6 2.2M391.78 722.35l2.6 2.2m0 -2.2l-2.6 2.2M392.76 721.27l2.6 2.2m0 -2.2l-2.6 2.2M393.49 722.42l2.6 2.2m0 -2.2l-2.6 2.2M394.17 722.19l2.6 2.2m0 -2.2l-2.6 2.2M394.82 722.12l2.6 2.2m0 -2.2l-2.6 2.2M395.64 722.29l2.6 2.2m0 -2.2l-2.6 2.2M396.25 721.41l2.6 2.2m0 -2.2l-2.6 2.2M397.23 721.22l2.6 2.2m0 -2.2l-2.6 2.2M398.19 721.22l2.6 2.2m0 -2.2l-2.6 2.2M399.1 723.23l2.6 2.2m0 -2.2l-2.6 2.2M399.8 722.14l2.6 2.2m0 -2.2l-2.6 2.2M400.57 722.43l2.6 2.2m0 -2.2l-2.6 2.2M401.28 719.43l2.6 2.2m0 -2.2l-2.6 2.2M402.03 721.86l2.6 2.2m0 -2.2l-2.6 2.2M403.11 721.32l2.6 2.2m0 -2.2l-2.6 2.2M404.05 722.02l2.6 2.2m0 -2.2l-2.6 2.2M404.86 722.48l2.6 2.2m0 -2.2l-2.6 2.2M405.69 721.98l2.6 2.2m0 -2.2l-2.6 2.2M406.63 720.95l2.6 2.2m0 -2.2l-2.6 2.2M407.66 722.77l2.6 2.2m0 -2.2l-2.6 2.2M408.59 721.31l2.6 2.2m0 -2.2l-2.6 2.2M409.63 721.68l2.6 2.2m0 -2.2l-2.6 2.2M410.4 721.18l2.6 2.2m0 -2.2l-2.6 2.2M411.34 721.85l2.6 2.2m0 -2.2l-2.6 2.2M412.36 721.4l2.6 2.2m0 -2.2l-2.6 2.2M413.01 721.34l2.6 2.2m0 -2.2l-2.6 2.2M413.75 719.13l2.6 2.2m0 -2.2l-2.6 2.2M414.56 721.82l2.6 2.2m0 -2.2l-2.6 2.2M415.64 721.79l2.6 2.2m0 -2.2l-2.6 2.2M416.4 721.96l2.6 2.2m0 -2.2l-2.6 2.2M417.01 721.62l2.6 2.2m0 -2.2l-2.6 2.2M417.91 721.75l2.6 2.2m0 -2.2l-2.6 2.2M418.73 721.03l2.6 2.2m0 -2.2l-2.6 2.2M419.64 721.34l2.6 2.2m0 -2.2l-2.6 2.2M420.46 721.61l2.6 2.2m0 -2.2l-2.6 2.2M421.17 721.38l2.6 2.2m0 -2.2l-2.6 2.2M422.04 722.73l2.6 2.2m0 -2.2l-2.6 2.2M422.97 721.44l2.6 2.2m0 -2.2l-2.6 2.2M423.78 721.5l2.6 2.2m0 -2.2l-2.6 2.2M424.81 721.73l2.6 2.2m0 -2.2l-2.6 2.2M425.47 721.12l2.6 2.2m0 -2.2l-2.6 2.2M426.11 720.77l2.6 2.2m0 -2.2l-2.6 2.2M426.73 720.58l2.6 2.2m0 -2.2l-2.6 2.2M427.56 721.28l2.6 2.2m0 -2.2l-2.6 2.2M428.39 721.71l2.6 2.2m0 -2.2l-2.6 2.2M429.33 721.6l2.6 2.2m0 -2.2l-2.6 2.2M430.08 722.07l2.6 2.2m0 -2.2l-2.6 2.2M430.82 722.02l2.6 2.2m0 -2.2l-2.6 2.2M431.47 721.87l2.6 2.2m0 -2.2l-2.6 2.2M432.17 721.27l2.6 2.2m0 -2.2l-2.6 2.2M433.2 720.92l2.6 2.2m0 -2.2l-2.6 2.2M434.15 720.36l2.6 2.2m0 -2.2l-2.6 2.2M434.86 721.87l2.6 2.2m0 -2.2l-2.6 2.2M435.59 721.81l2.6 2.2m0 -2.2l-2.6 2.2M436.45 720.85l2.6 2.2m0 -2.2l-2.6 2.2M437.33 720.64l2.6 2.2m0 -2.2l-2.6 2.2M438.13 721.73l2.6 2.2m0 -2.2l-2.6 2.2M438.8 720.32l2.6 2.2m0 -2.2l-2.6 2.2M439.58 721.91l2.6 2.2m0 -2.2l-2.6 2.2M440.48 721.73l2.6 2.2m0 -2.2l-2.6 2.2M441.1 722.01l2.6 2.2m0 -2.2l-2.6 2.2M442.08 721.61l2.6 2.2m0 -2.2l-2.6 2.2M442.99 721.28l2.6 2.2m0 -2.2l-2.6 2.2M443.92 722.04l2.6 2.2m0 -2.2l-2.6 2.2M444.68 721.49l2.6 2.2m0 -2.2l-2.6 2.2M445.54 722l2.6 2.2m0 -2.2l-2.6 2.2M446.56 720.33l2.6 2.2m0 -2.2l-2.6 2.2M447.4 720.84l2.6 2.2m0 -2.2l-2.6 2.2M448.44 721.9l2.6 2.2m0 -2.2l-2.6 2.2M449.43 722.42l2.6 2.2m0 -2.2l-2.6 2.2M450.46 720.53l2.6 2.2m0 -2.2l-2.6 2.2M451.13 720.98l2.6 2.2m0 -2.2l-2.6 2.2M451.87 719.99l2.6 2.2m0 -2.2l-2.6 2.2M452.67 721.47l2.6 2.2m0 -2.2l-2.6 2.2M453.58 720.61l2.6 2.2m0 -2.2l-2.6 2.2M454.49 720.34l2.6 2.2m0 -2.2l-2.6 2.2M455.5 720.9l2.6 2.2m0 -2.2l-2.6 2.2M456.22 719.93l2.6 2.2m0 -2.2l-2.6 2.2M457.27 720.67l2.6 2.2m0 -2.2l-2.6 2.2M458.02 720.19l2.6 2.2m0 -2.2l-2.6 2.2M459.09 721.26l2.6 2.2m0 -2.2l-2.6 2.2M459.94 720.41l2.6 2.2m0 -2.2l-2.6 2.2M460.65 721.21l2.6 2.2m0 -2.2l-2.6 2.2M461.65 720.55l2.6 2.2m0 -2.2l-2.6 2.2M462.31 721.04l2.6 2.2m0 -2.2l-2.6 2.2M463.4 720.16l2.6 2.2m0 -2.2l-2.6 2.2M464.05 720.71l2.6 2.2m0 -2.2l-2.6 2.2M465.02 721.24l2.6 2.2m0 -2.2l-2.6 2.2M465.75 719.66l2.6 2.2m0 -2.2l-2.6 2.2M466.49 720.5l2.6 2.2m0 -2.2l-2.6 2.2M467.33 717.66l2.6 2.2m0 -2.2l-2.6 2.2M468.36 720.64l2.6 2.2m0 -2.2l-2.6 2.2M469.41 719.22l2.6 2.2m0 -2.2l-2.6 2.2M470.2 719.52l2.6 2.2m0 -2.2l-2.6 2.2M470.93 719.7l2.6 2.2m0 -2.2l-2.6 2.2M471.59 720.28l2.6 2.2m0 -2.2l-2.6 2.2M472.67 720.05l2.6 2.2m0 -2.2l-2.6 2.2M473.69 719.74l2.6 2.2m0 -2.2l-2.6 2.2M474.49 718.93l2.6 2.2m0 -2.2l-2.6 2.2M475.41 720.33l2.6 2.2m0 -2.2l-2.6 2.2M476.08 715.64l2.6 2.2m0 -2.2l-2.6 2.2M476.79 720.11l2.6 2.2m0 -2.2l-2.6 2.2M477.5 719.58l2.6 2.2m0 -2.2l-2.6 2.2M478.39 719.32l2.6 2.2m0 -2.2l-2.6 2.2M479.45 720.43l2.6 2.2m0 -2.2l-2.6 2.2M480.35 719.18l2.6 2.2m0 -2.2l-2.6 2.2M481.38 718.49l2.6 2.2m0 -2.2l-2.6 2.2M482.33 719.74l2.6 2.2m0 -2.2l-2.6 2.2M483.2 719.56l2.6 2.2m0 -2.2l-2.6 2.2M484.17 718.96l2.6 2.2m0 -2.2l-2.6 2.2M485.19 719.88l2.6 2.2m0 -2.2l-2.6 2.2M486.07 718.61l2.6 2.2m0 -2.2l-2.6 2.2M486.81 718.74l2.6 2.2m0 -2.2l-2.6 2.2M487.71 719.05l2.6 2.2m0 -2.2l-2.6 2.2M488.59 718.97l2.6 2.2m0 -2.2l-2.6 2.2M489.24 719.32l2.6 2.2m0 -2.2l-2.6 2.2M489.99 719.14l2.6 2.2m0 -2.2l-2.6 2.2M490.72 719.49l2.6 2.2m0 -2.2l-2.6 2.2M491.36 719.67l2.6 2.2m0 -2.2l-2.6 2.2M492.31 719.04l2.6 2.2m0 -2.2l-2.6 2.2M493.05 719.02l2.6 2.2m0 -2.2l-2.6 2.2M493.87 719.05l2.6 2.2m0 -2.2l-2.6 2.2M494.55 719.75l2.6 2.2m0 -2.2l-2.6 2.2M495.51 718.3l2.6 2.2m0 -2.2l-2.6 2.2M496.59 719.11l2.6 2.2m0 -2.2l-2.6 2.2M497.21 718.11l2.6 2.2m0 -2.2l-2.6 2.2M498.15 718.94l2.6 2.2m0 -2.2l-2.6 2.2M499.06 718.27l2.6 2.2m0 -2.2l-2.6 2.2M500.01 718.33l2.6 2.2m0 -2.2l-2.6 2.2M500.96 718.99l2.6 2.2m0 -2.2l-2.6 2.2M501.59 719.69l2.6 2.2m0 -2.2l-2.6 2.2M502.31 718.12l2.6 2.2m0 -2.2l-2.6 2.2M503.29 718.86l2.6 2.2m0 -2.2l-2.6 2.2M504.36 718.07l2.6 2.2m0 -2.2l-2.6 2.2M505.12 719.05l2.6 2.2m0 -2.2l-2.6 2.2M506.2 719.64l2.6 2.2m0 -2.2l-2.6 2.2M507.07 719.25l2.6 2.2m0 -2.2l-2.6 2.2M508.1 719.11l2.6 2.2m0 -2.2l-2.6 2.2M509.05 719.22l2.6 2.2m0 -2.2l-2.6 2.2M510.05 718.74l2.6 2.2m0 -2.2l-2.6 2.2M511.11 718.42l2.6 2.2m0 -2.2l-2.6 2.2M512.09 718.07l2.6 2.2m0 -2.2l-2.6 2.2M513.02 719.45l2.6 2.2m0 -2.2l-2.6 2.2M514.05 718.17l2.6 2.2m0 -2.2l-2.6 2.2M514.9 716.95l2.6 2.2m0 -2.2l-2.6 2.2M515.78 719.93l2.6 2.2m0 -2.2l-2.6 2.2M516.63 718.92l2.6 2.2m0 -2.2l-2.6 2.2M517.32 718.87l2.6 2.2m0 -2.2l-2.6 2.2M518.33 718.2l2.6 2.2m0 -2.2l-2.6 2.2M519.26 717.23l2.6 2.2m0 -2.2l-2.6 2.2M520.03 717.85l2.6 2.2m0 -2.2l-2.6 2.2M520.81 718.68l2.6 2.2m0 -2.2l-2.6 2.2M521.57 718.37l2.6 2.2m0 -2.2l-2.6 2.2M522.64 718.08l2.6 2.2m0 -2.2l-2.6 2.2M523.55 718.71l2.6 2.2m0 -2.2l-2.6 2.2M524.21 717.88l2.6 2.2m0 -2.2l-2.6 2.2M525.2 718.26l2.6 2.2m0 -2.2l-2.6 2.2M526.02 718.4l2.6 2.2m0 -2.2l-2.6 2.2M526.78 717.57l2.6 2.2m0 -2.2l-2.6 2.2M527.4 716.29l2.6 2.2m0 -2.2l-2.6 2.2M528.5 717.92l2.6 2.2m0 -2.2l-2.6 2.2M529.47 718.32l2.6 2.2m0 -2.2l-2.6 2.2M530.3 718.22l2.6 2.2m0 -2.2l-2.6 2.2M531.35 719.32l2.6 2.2m0 -2.2l-2.6 2.2M532.11 719.7l2.6 2.2m0 -2.2l-2.6 2.2M532.92 717.6l2.6 2.2m0 -2.2l-2.6 2.2M533.99 718.16l2.6 2.2m0 -2.2l-2.6 2.2M534.75 718.32l2.6 2.2m0 -2.2l-2.6 2.2M535.4 717.79l2.6 2.2m0 -2.2l-2.6 2.2M536.5 717.69l2.6 2.2m0 -2.2l-2.6 2.2M537.43 717.71l2.6 2.2m0 -2.2l-2.6 2.2M538.22 718.29l2.6 2.2m0 -2.2l-2.6 2.2M539.02 714.96l2.6 2.2m0 -2.2l-2.6 2.2M539.79 718.24l2.6 2.2m0 -2.2l-2.6 2.2M540.49 718.7l2.6 2.2m0 -2.2l-2.6 2.2M541.34 718.4l2.6 2.2m0 -2.2l-2.6 2.2M542.22 718.27l2.6 2.2m0 -2.2l-2.6 2.2M543.18 719.36l2.6 2.2m0 -2.2l-2.6 2.2M544.11 718.5l2.6 2.2m0 -2.2l-2.6 2.2M544.93 718.56l2.6 2.2m0 -2.2l-2.6 2.2M545.64 717.44l2.6 2.2m0 -2.2l-2.6 2.2M546.5 718.39l2.6 2.2m0 -2.2l-2.6 2.2M547.55 718.7l2.6 2.2m0 -2.2l-2.6 2.2M548.55 719.07l2.6 2.2m0 -2.2l-2.6 2.2M549.39 719.18l2.6 2.2m0 -2.2l-2.6 2.2M550.14 718.61l2.6 2.2m0 -2.2l-2.6 2.2M551.16 718.01l2.6 2.2m0 -2.2l-2.6 2.2M552.12 718.5l2.6 2.2m0 -2.2l-2.6 2.2M553.17 718.27l2.6 2.2m0 -2.2l-2.6 2.2M553.79 717.73l2.6 2.2m0 -2.2l-2.6 2.2M554.51 718.49l2.6 2.2m0 -2.2l-2.6 2.2M555.29 717.97l2.6 2.2m0 -2.2l-2.6 2.2M556.19 718.64l2.6 2.2m0 -2.2l-2.6 2.2M557.26 719.23l2.6 2.2m0 -2.2l-2.6 2.2M557.95 718.25l2.6 2.2m0 -2.2l-2.6 2.2M558.93 717.49l2.6 2.2m0 -2.2l-2.6 2.2M559.74 717.54l2.6 2.2m0 -2.2l-2.6 2.2M560.45 718.11l2.6 2.2m0 -2.2l-2.6 2.2M561.53 718.08l2.6 2.2m0 -2.2l-2.6 2.2M562.34 717.78l2.6 2.2m0 -2.2l-2.6 2.2M563.02 718.99l2.6 2.2m0 -2.2l-2.6 2.2M564.09 718.59l2.6 2.2m0 -2.2l-2.6 2.2M565 718.13l2.6 2.2m0 -2.2l-2.6 2.2M565.75 717.67l2.6 2.2m0 -2.2l-2.6 2.2M566.6 718.7l2.6 2.2m0 -2.2l-2.6 2.2M567.43 718.53l2.6 2.2m0 -2.2l-2.6 2.2M568.5 717.7l2.6 2.2m0 -2.2l-2.6 2.2M569.39 718.14l2.6 2.2m0 -2.2l-2.6 2.2M570.2 716.96l2.6 2.2m0 -2.2l-2.6 2.2M570.81 717.65l2.6 2.2m0 -2.2l-2.6 2.2M571.43 717.33l2.6 2.2m0 -2.2l-2.6 2.2M572.36 717.39l2.6 2.2m0 -2.2l-2.6 2.2M573.42 718.25l2.6 2.2m0 -2.2l-2.6 2.2M574.13 718.1l2.6 2.2m0 -2.2l-2.6 2.2M575.05 717.65l2.6 2.2m0 -2.2l-2.6 2.2M576.09 716.91l2.6 2.2m0 -2.2l-2.6 2.2M577.11 716.99l2.6 2.2m0 -2.2l-2.6 2.2M578.02 717.51l2.6 2.2m0 -2.2l-2.6 2.2M578.78 717l2.6 2.2m0 -2.2l-2.6 2.2M579.71 716.73l2.6 2.2m0 -2.2l-2.6 2.2M580.44 717.59l2.6 2.2m0 -2.2l-2.6 2.2M581.1 716.72l2.6 2.2m0 -2.2l-2.6 2.2M582.01 716.99l2.6 2.2m0 -2.2l-2.6 2.2M583.1 716.72l2.6 2.2m0 -2.2l-2.6 2.2M583.89 717.33l2.6 2.2m0 -2.2l-2.6 2.2M584.77 718.35l2.6 2.2m0 -2.2l-2.6 2.2M585.75 718.28l2.6 2.2m0 -2.2l-2.6 2.2M586.64 716.94l2.6 2.2m0 -2.2l-2.6 2.2M587.61 717.02l2.6 2.2m0 -2.2l-2.6 2.2M588.27 717.53l2.6 2.2m0 -2.2l-2.6 2.2M589.07 716.19l2.6 2.2m0 -2.2l-2.6 2.2M590.05 717.25l2.6 2.2m0 -2.2l-2.6 2.2M590.78 714.72l2.6 2.2m0 -2.2l-2.6 2.2M591.78 715.52l2.6 2.2m0 -2.2l-2.6 2.2M592.74 716.03l2.6 2.2m0 -2.2l-2.6 2.2M593.63 716.77l2.6 2.2m0 -2.2l-2.6 2.2M594.54 717.28l2.6 2.2m0 -2.2l-2.6 2.2M595.44 715.96l2.6 2.2m0 -2.2l-2.6 2.2M596.24 716.8l2.6 2.2m0 -2.2l-2.6 2.2M597.18 716.64l2.6 2.2m0 -2.2l-2.6 2.2M597.96 716.84l2.6 2.2m0 -2.2l-2.6 2.2M598.89 715.59l2.6 2.2m0 -2.2l-2.6 2.2M599.67 716.74l2.6 2.2m0 -2.2l-2.6 2.2M600.61 715.52l2.6 2.2m0 -2.2l-2.6 2.2M601.48 717.18l2.6 2.2m0 -2.2l-2.6 2.2M602.51 716.97l2.6 2.2m0 -2.2l-2.6 2.2M603.58 717.57l2.6 2.2m0 -2.2l-2.6 2.2M604.51 715.37l2.6 2.2m0 -2.2l-2.6 2.2M605.31 715.08l2.6 2.2m0 -2.2l-2.6 2.2M606.25 717.53l2.6 2.2m0 -2.2l-2.6 2.2M606.95 716.95l2.6 2.2m0 -2.2l-2.6 2.2M607.8 716.44l2.6 2.2m0 -2.2l-2.6 2.2M608.58 715.85l2.6 2.2m0 -2.2l-2.6 2.2M609.28 717.41l2.6 2.2m0 -2.2l-2.6 2.2M610.01 715.66l2.6 2.2m0 -2.2l-2.6 2.2M611.06 715.98l2.6 2.2m0 -2.2l-2.6 2.2M612.14 716.06l2.6 2.2m0 -2.2l-2.6 2.2M612.81 716.53l2.6 2.2m0 -2.2l-2.6 2.2M613.42 717.07l2.6 2.2m0 -2.2l-2.6 2.2M614.14 716l2.6 2.2m0 -2.2l-2.6 2.2M615.08 716.22l2.6 2.2m0 -2.2l-2.6 2.2M615.97 715.14l2.6 2.2m0 -2.2l-2.6 2.2M616.89 715.97l2.6 2.2m0 -2.2l-2.6 2.2M617.9 716.37l2.6 2.2m0 -2.2l-2.6 2.2M618.92 712.47l2.6 2.2m0 -2.2l-2.6 2.2M619.82 716.64l2.6 2.2m0 -2.2l-2.6 2.2M620.48 715.31l2.6 2.2m0 -2.2l-2.6 2.2M621.44 715.55l2.6 2.2m0 -2.2l-2.6 2.2M622.5 716.07l2.6 2.2m0 -2.2l-2.6 2.2M623.21 717.62l2.6 2.2m0 -2.2l-2.6 2.2M623.91 715.8l2.6 2.2m0 -2.2l-2.6 2.2M624.7 715.02l2.6 2.2m0 -2.2l-2.6 2.2M625.6 716.04l2.6 2.2m0 -2.2l-2.6 2.2M626.31 715.26l2.6 2.2m0 -2.2l-2.6 2.2M626.98 715.67l2.6 2.2m0 -2.2l-2.6 2.2M627.71 715.67l2.6 2.2m0 -2.2l-2.6 2.2M628.8 716.03l2.6 2.2m0 -2.2l-2.6 2.2M629.82 716.68l2.6 2.2m0 -2.2l-2.6 2.2M630.64 715.61l2.6 2.2m0 -2.2l-2.6 2.2M631.36 715.54l2.6 2.2m0 -2.2l-2.6 2.2M632.22 716.01l2.6 2.2m0 -2.2l-2.6 2.2M632.95 715.86l2.6 2.2m0 -2.2l-2.6 2.2M633.59 715.88l2.6 2.2m0 -2.2l-2.6 2.2M634.31 715.7l2.6 2.2m0 -2.2l-2.6 2.2M635.39 715.13l2.6 2.2m0 -2.2l-2.6 2.2M636.1 716.19l2.6 2.2m0 -2.2l-2.6 2.2M636.93 715.26l2.6 2.2m0 -2.2l-2.6 2.2M637.66 715.56l2.6 2.2m0 -2.2l-2.6 2.2M638.62 714.93l2.6 2.2m0 -2.2l-2.6 2.2M639.23 715.42l2.6 2.2m0 -2.2l-2.6 2.2M640.12 713.15l2.6 2.2m0 -2.2l-2.6 2.2M641.17 716.32l2.6 2.2m0 -2.2l-2.6 2.2M642.07 715.16l2.6 2.2m0 -2.2l-2.6 2.2M643.07 714.73l2.6 2.2m0 -2.2l-2.6 2.2M643.94 715.56l2.6 2.2m0 -2.2l-2.6 2.2M644.7 715.02l2.6 2.2m0 -2.2l-2.6 2.2M645.8 714.75l2.6 2.2m0 -2.2l-2.6 2.2M646.87 715.55l2.6 2.2m0 -2.2l-2.6 2.2M647.88 715.37l2.6 2.2m0 -2.2l-2.6 2.2M648.61 715.66l2.6 2.2m0 -2.2l-2.6 2.2M649.28 715.54l2.6 2.2m0 -2.2l-2.6 2.2M649.98 715.68l2.6 2.2m0 -2.2l-2.6 2.2M651 715.96l2.6 2.2m0 -2.2l-2.6 2.2M652.04 715.07l2.6 2.2m0 -2.2l-2.6 2.2M652.85 714.24l2.6 2.2m0 -2.2l-2.6 2.2M653.64 715.73l2.6 2.2m0 -2.2l-2.6 2.2M654.56 714.83l2.6 2.2m0 -2.2l-2.6 2.2M655.26 714.21l2.6 2.2m0 -2.2l-2.6 2.2M655.99 714.63l2.6 2.2m0 -2.2l-2.6 2.2M656.82 713.92l2.6 2.2m0 -2.2l-2.6 2.2M657.56 715.76l2.6 2.2m0 -2.2l-2.6 2.2M658.41 715.4l2.6 2.2m0 -2.2l-2.6 2.2M659.34 715.57l2.6 2.2m0 -2.2l-2.6 2.2M660.39 714.55l2.6 2.2m0 -2.2l-2.6 2.2M661.27 714.68l2.6 2.2m0 -2.2l-2.6 2.2M662.14 714.6l2.6 2.2m0 -2.2l-2.6 2.2M663.16 714.99l2.6 2.2m0 -2.2l-2.6 2.2M663.92 715.02l2.6 2.2m0 -2.2l-2.6 2.2M664.67 715.79l2.6 2.2m0 -2.2l-2.6 2.2M665.47 714.07l2.6 2.2m0 -2.2l-2.6 2.2M666.34 714.03l2.6 2.2m0 -2.2l-2.6 2.2M667.27 714.91l2.6 2.2m0 -2.2l-2.6 2.2M667.95 715.33l2.6 2.2m0 -2.2l-2.6 2.2M668.68 714.2l2.6 2.2m0 -2.2l-2.6 2.2M669.37 714.88l2.6 2.2m0 -2.2l-2.6 2.2M669.98 715.45l2.6 2.2m0 -2.2l-2.6 2.2M670.68 715.59l2.6 2.2m0 -2.2l-2.6 2.2M671.77 715.04l2.6 2.2m0 -2.2l-2.6 2.2M672.87 715.68l2.6 2.2m0 -2.2l-2.6 2.2M673.92 714.58l2.6 2.2m0 -2.2l-2.6 2.2M674.87 714.46l2.6 2.2m0 -2.2l-2.6 2.2M675.52 716.07l2.6 2.2m0 -2.2l-2.6 2.2M676.15 714.62l2.6 2.2m0 -2.2l-2.6 2.2M677.24 714.87l2.6 2.2m0 -2.2l-2.6 2.2M678.16 713.73l2.6 2.2m0 -2.2l-2.6 2.2M679.01 714.94l2.6 2.2m0 -2.2l-2.6 2.2M679.96 714.77l2.6 2.2m0 -2.2l-2.6 2.2M680.64 715.32l2.6 2.2m0 -2.2l-2.6 2.2M681.47 715.15l2.6 2.2m0 -2.2l-2.6 2.2M682.45 714.76l2.6 2.2m0 -2.2l-2.6 2.2M683.3 713.6l2.6 2.2m0 -2.2l-2.6 2.2M684.13 714.22l2.6 2.2m0 -2.2l-2.6 2.2M685.13 715.11l2.6 2.2m0 -2.2l-2.6 2.2M686.06 714.72l2.6 2.2m0 -2.2l-2.6 2.2M687.13 713.97l2.6 2.2m0 -2.2l-2.6 2.2M688.05 712.97l2.6 2.2m0 -2.2l-2.6 2.2M689.08 715.8l2.6 2.2m0 -2.2l-2.6 2.2M690.12 714.43l2.6 2.2m0 -2.2l-2.6 2.2M690.81 717.6l2.6 2.2m0 -2.2l-2.6 2.2M691.7 714.96l2.6 2.2m0 -2.2l-2.6 2.2M692.64 718.11l2.6 2.2m0 -2.2l-2.6 2.2M693.4 712.16l2.6 2.2m0 -2.2l-2.6 2.2M694.27 713.7l2.6 2.2m0 -2.2l-2.6 2.2M695.22 714.03l2.6 2.2m0 -2.2l-2.6 2.2M696 717l2.6 2.2m0 -2.2l-2.6 2.2M696.79 714.61l2.6 2.2m0 -2.2l-2.6 2.2M697.54 712.5l2.6 2.2m0 -2.2l-2.6 2.2M698.3 716.81l2.6 2.2m0 -2.2l-2.6 2.2M699.11 716.82l2.6 2.2m0 -2.2l-2.6 2.2M700.15 714.97l2.6 2.2m0 -2.2l-2.6 2.2M701 713.02l2.6 2.2m0 -2.2l-2.6 2.2M701.71 713.32l2.6 2.2m0 -2.2l-2.6 2.2M702.61 714.53l2.6 2.2m0 -2.2l-2.6 2.2M703.67 716.5l2.6 2.2m0 -2.2l-2.6 2.2M704.65 713.19l2.6 2.2m0 -2.2l-2.6 2.2M705.68 711.3l2.6 2.2m0 -2.2l-2.6 2.2M706.63 714.95l2.6 2.2m0 -2.2l-2.6 2.2M707.4 714.62l2.6 2.2m0 -2.2l-2.6 2.2M708.02 714.98l2.6 2.2m0 -2.2l-2.6 2.2M708.78 710.13l2.6 2.2m0 -2.2l-2.6 2.2M709.43 712.12l2.6 2.2m0 -2.2l-2.6 2.2M710.39 710.92l2.6 2.2m0 -2.2l-2.6 2.2M711.17 714.1l2.6 2.2m0 -2.2l-2.6 2.2M711.79 716.08l2.6 2.2m0 -2.2l-2.6 2.2M712.49 712.37l2.6 2.2m0 -2.2l-2.6 2.2M713.35 713.15l2.6 2.2m0 -2.2l-2.6 2.2M714.36 710.1l2.6 2.2m0 -2.2l-2.6 2.2M715.03 712.99l2.6 2.2m0 -2.2l-2.6 2.2M715.82 709.68l2.6 2.2m0 -2.2l-2.6 2.2M716.57 707.66l2.6 2.2m0 -2.2l-2.6 2.2M717.64 714.76l2.6 2.2m0 -2.2l-2.6 2.2M718.74 712.81l2.6 2.2m0 -2.2l-2.6 2.2M719.42 713.92l2.6 2.2m0 -2.2l-2.6 2.2M720.31 713.8l2.6 2.2m0 -2.2l-2.6 2.2M721.39 710.82l2.6 2.2m0 -2.2l-2.6 2.2M722.1 714.01l2.6 2.2m0 -2.2l-2.6 2.2M723.2 710.55l2.6 2.2m0 -2.2l-2.6 2.2M724.1 712.38l2.6 2.2m0 -2.2l-2.6 2.2M724.86 710.06l2.6 2.2m0 -2.2l-2.6 2.2M725.73 714.72l2.6 2.2m0 -2.2l-2.6 2.2M726.64 712.62l2.6 2.2m0 -2.2l-2.6 2.2M727.47 710.33l2.6 2.2m0 -2.2l-2.6 2.2M728.52 710.1l2.6 2.2m0 -2.2l-2.6 2.2M729.51 711.38l2.6 2.2m0 -2.2l-2.6 2.2M730.36 708.9l2.6 2.2m0 -2.2l-2.6 2.2M731.06 712.9l2.6 2.2m0 -2.2l-2.6 2.2M732.08 711.16l2.6 2.2m0 -2.2l-2.6 2.2M732.69 712.64l2.6 2.2m0 -2.2l-2.6 2.2M733.47 713.75l2.6 2.2m0 -2.2l-2.6 2.2M734.15 709.64l2.6 2.2m0 -2.2l-2.6 2.2M735.03 708.64l2.6 2.2m0 -2.2l-2.6 2.2M735.63 711.02l2.6 2.2m0 -2.2l-2.6 2.2M736.27 712.97l2.6 2.2m0 -2.2l-2.6 2.2M737.21 708.51l2.6 2.2m0 -2.2l-2.6 2.2M738.13 709.91l2.6 2.2m0 -2.2l-2.6 2.2M738.92 715.27l2.6 2.2m0 -2.2l-2.6 2.2M739.93 709.95l2.6 2.2m0 -2.2l-2.6 2.2M740.7 710.21l2.6 2.2m0 -2.2l-2.6 2.2M741.58 709.26l2.6 2.2m0 -2.2l-2.6 2.2M742.21 714.24l2.6 2.2m0 -2.2l-2.6 2.2M742.96 707.9l2.6 2.2m0 -2.2l-2.6 2.2M743.62 708.82l2.6 2.2m0 -2.2l-2.6 2.2M744.36 709.92l2.6 2.2m0 -2.2l-2.6 2.2M745.18 710.49l2.6 2.2m0 -2.2l-2.6 2.2M55.3 721.8l2.6 2.2m0 -2.2l-2.6 2.2M91.7 717.6l2.6 2.2m0 -2.2l-2.6 2.2M610.8 644.5l2.6 2.2m0 -2.2l-2.6 2.2M609.4 698.3l2.6 2.2m0 -2.2l-2.6 2.2M611.7 695.4l2.6 2.2m0 -2.2l-2.6 2.2M663.2 582.3l2.6 2.2m0 -2.2l-2.6 2.2M660.9 681.3l2.6 2.2m0 -2.2l-2.6 2.2M664 676.5l2.6 2.2m0 -2.2l-2.6 2.2M694.6 706.2l2.6 2.2m0 -2.2l-2.6 2.2M729.2 723.6l2.6 2.2m0 -2.2l-2.6 2.2M587.7 711.9l2.6 2.2m0 -2.2l-2.6 2.2M598.7 711.4l2.6 2.2m0 -2.2l-2.6 2.2M604.7 711.9l2.6 2.2m0 -2.2l-2.6 2.2M635.7 709.9l2.6 2.2m0 -2.2l-2.6 2.2M685.2 709.4l2.6 2.2m0 -2.2l-2.6 2.2" fill="none" stroke="#000" stroke-width="1.25"/>
<polyline points="366.6,723.9 405,723.2 444,722.7" fill="none" stroke="#1010ff" stroke-width="1.8" stroke-linejoin="round"/>
<polyline points="571.1,719.2 640,717 701.2,715.3" fill="none" stroke="#1010ff" stroke-width="1.8" stroke-linejoin="round"/>
<line x1="43.5" y1="741.6" x2="45.5" y2="741.6" stroke="#5a5a5a" stroke-width="0.9"/>
<text x="34.5" y="744.5" font-size="8.42" textLength="6.36" lengthAdjust="spacingAndGlyphs" fill="#222">0</text>
<line x1="43.5" y1="715.6" x2="45.5" y2="715.6" stroke="#5a5a5a" stroke-width="0.9"/>
<text x="28.14" y="718.5" font-size="8.42" textLength="12.72" lengthAdjust="spacingAndGlyphs" fill="#222">50</text>
<line x1="43.5" y1="689.6" x2="45.5" y2="689.6" stroke="#5a5a5a" stroke-width="0.9"/>
<text x="21.78" y="692.5" font-size="8.42" textLength="19.09" lengthAdjust="spacingAndGlyphs" fill="#222">100</text>
<line x1="43.5" y1="663.6" x2="45.5" y2="663.6" stroke="#5a5a5a" stroke-width="0.9"/>
<text x="21.78" y="666.5" font-size="8.42" textLength="19.09" lengthAdjust="spacingAndGlyphs" fill="#222">150</text>
<line x1="43.5" y1="637.6" x2="45.5" y2="637.6" stroke="#5a5a5a" stroke-width="0.9"/>
<text x="21.78" y="640.5" font-size="8.42" textLength="19.09" lengthAdjust="spacingAndGlyphs" fill="#222">200</text>
<line x1="43.5" y1="611.6" x2="45.5" y2="611.6" stroke="#5a5a5a" stroke-width="0.9"/>
<text x="21.78" y="614.5" font-size="8.42" textLength="19.09" lengthAdjust="spacingAndGlyphs" fill="#222">250</text>
<line x1="43.5" y1="585.6" x2="45.5" y2="585.6" stroke="#5a5a5a" stroke-width="0.9"/>
<text x="21.78" y="588.5" font-size="8.42" textLength="19.09" lengthAdjust="spacingAndGlyphs" fill="#222">300</text>
<line x1="84.47" y1="749.3" x2="84.47" y2="751.3" stroke="#5a5a5a" stroke-width="0.9"/>
<line x1="162.41" y1="749.3" x2="162.41" y2="751.3" stroke="#5a5a5a" stroke-width="0.9"/>
<line x1="240.35" y1="749.3" x2="240.35" y2="751.3" stroke="#5a5a5a" stroke-width="0.9"/>
<line x1="318.29" y1="749.3" x2="318.29" y2="751.3" stroke="#5a5a5a" stroke-width="0.9"/>
<line x1="396.23" y1="749.3" x2="396.23" y2="751.3" stroke="#5a5a5a" stroke-width="0.9"/>
<line x1="474.17" y1="749.3" x2="474.17" y2="751.3" stroke="#5a5a5a" stroke-width="0.9"/>
<line x1="552.11" y1="749.3" x2="552.11" y2="751.3" stroke="#5a5a5a" stroke-width="0.9"/>
<line x1="630.05" y1="749.3" x2="630.05" y2="751.3" stroke="#5a5a5a" stroke-width="0.9"/>
<line x1="707.99" y1="749.3" x2="707.99" y2="751.3" stroke="#5a5a5a" stroke-width="0.9"/>
<text transform="translate(15.3,661.75) rotate(-90)" x="-68.41" y="0" font-size="13.46" textLength="137.02" lengthAdjust="spacingAndGlyphs" fill="#222">Surface Brightness [MJy/sr]</text>
<text x="385.54" y="736" font-size="8.42" textLength="34.39" lengthAdjust="spacingAndGlyphs" fill="#222">H<tspan font-size="70%" dy="1.8">2</tspan><tspan dy="-1.8" font-style="italic">S</tspan>(0)</text>
<text x="590.91" y="734.2" font-size="8.42" textLength="26.18" lengthAdjust="spacingAndGlyphs" fill="#222">[S III]</text>
<text x="642.6" y="731.4" font-size="8.42" textLength="26.01" lengthAdjust="spacingAndGlyphs" fill="#222">[Si II]</text>
<rect x="45.5" y="770.35" width="702.5" height="61.55" fill="#e8e8e8"/>
<rect x="45.5" y="780.61" width="702.5" height="41.04" fill="#c0c0c0"/>
<rect x="45.5" y="790.87" width="702.5" height="20.52" fill="#9d9d9d"/>
<line x1="405" y1="766.3" x2="405" y2="844.9" stroke="#6a6a6a" stroke-width="0.9" stroke-dasharray="2.15 1.75"/>
<line x1="610.2" y1="766.3" x2="610.2" y2="844.9" stroke="#6a6a6a" stroke-width="0.9" stroke-dasharray="2.15 1.75"/>
<line x1="662.2" y1="766.3" x2="662.2" y2="844.9" stroke="#6a6a6a" stroke-width="0.9" stroke-dasharray="2.15 1.75"/>
<path d="M362.6 793.24l4.8 3.8m0 -3.8l-4.8 3.8M364.01 789.08l4.8 3.8m0 -3.8l-4.8 3.8M365.29 796.35l4.8 3.8m0 -3.8l-4.8 3.8M366.84 785.86l4.8 3.8m0 -3.8l-4.8 3.8M368.15 804.92l4.8 3.8m0 -3.8l-4.8 3.8M369.05 799.44l4.8 3.8m0 -3.8l-4.8 3.8M370.25 801.77l4.8 3.8m0 -3.8l-4.8 3.8M371.78 800.75l4.8 3.8m0 -3.8l-4.8 3.8M372.87 799.01l4.8 3.8m0 -3.8l-4.8 3.8M374.57 797l4.8 3.8m0 -3.8l-4.8 3.8M376.06 791.7l4.8 3.8m0 -3.8l-4.8 3.8M376.98 806.81l4.8 3.8m0 -3.8l-4.8 3.8M378.15 803.09l4.8 3.8m0 -3.8l-4.8 3.8M379.81 799.2l4.8 3.8m0 -3.8l-4.8 3.8M381 791.23l4.8 3.8m0 -3.8l-4.8 3.8M382 787.48l4.8 3.8m0 -3.8l-4.8 3.8M383.65 808.62l4.8 3.8m0 -3.8l-4.8 3.8M384.82 796.41l4.8 3.8m0 -3.8l-4.8 3.8M386.11 798.43l4.8 3.8m0 -3.8l-4.8 3.8M387.7 797.29l4.8 3.8m0 -3.8l-4.8 3.8M388.79 798.26l4.8 3.8m0 -3.8l-4.8 3.8M390.46 804.44l4.8 3.8m0 -3.8l-4.8 3.8M392.08 798.86l4.8 3.8m0 -3.8l-4.8 3.8M393.44 812.35l4.8 3.8m0 -3.8l-4.8 3.8M394.93 792.94l4.8 3.8m0 -3.8l-4.8 3.8M396.49 793.14l4.8 3.8m0 -3.8l-4.8 3.8M397.55 784.95l4.8 3.8m0 -3.8l-4.8 3.8M398.78 806.75l4.8 3.8m0 -3.8l-4.8 3.8M399.97 806.53l4.8 3.8m0 -3.8l-4.8 3.8M401.67 796.96l4.8 3.8m0 -3.8l-4.8 3.8M402.87 795.89l4.8 3.8m0 -3.8l-4.8 3.8M404.35 798.68l4.8 3.8m0 -3.8l-4.8 3.8M406.04 808.24l4.8 3.8m0 -3.8l-4.8 3.8M407.38 799.03l4.8 3.8m0 -3.8l-4.8 3.8M408.88 797.4l4.8 3.8m0 -3.8l-4.8 3.8M410.23 788.83l4.8 3.8m0 -3.8l-4.8 3.8M411.63 797.26l4.8 3.8m0 -3.8l-4.8 3.8M412.8 794.98l4.8 3.8m0 -3.8l-4.8 3.8M414.45 805.2l4.8 3.8m0 -3.8l-4.8 3.8M415.59 790.7l4.8 3.8m0 -3.8l-4.8 3.8M416.57 786.28l4.8 3.8m0 -3.8l-4.8 3.8M418.1 793.58l4.8 3.8m0 -3.8l-4.8 3.8M419.3 803.97l4.8 3.8m0 -3.8l-4.8 3.8M420.91 809.85l4.8 3.8m0 -3.8l-4.8 3.8M422.58 818.63l4.8 3.8m0 -3.8l-4.8 3.8M424.25 786.44l4.8 3.8m0 -3.8l-4.8 3.8M425.62 792.59l4.8 3.8m0 -3.8l-4.8 3.8M426.82 805.27l4.8 3.8m0 -3.8l-4.8 3.8M427.92 795.98l4.8 3.8m0 -3.8l-4.8 3.8M428.88 802.48l4.8 3.8m0 -3.8l-4.8 3.8M430.42 797.93l4.8 3.8m0 -3.8l-4.8 3.8M431.99 808.03l4.8 3.8m0 -3.8l-4.8 3.8M432.93 799.58l4.8 3.8m0 -3.8l-4.8 3.8M434.17 792.87l4.8 3.8m0 -3.8l-4.8 3.8M435.2 792.9l4.8 3.8m0 -3.8l-4.8 3.8M436.82 796.29l4.8 3.8m0 -3.8l-4.8 3.8M438.51 799.49l4.8 3.8m0 -3.8l-4.8 3.8M439.61 808.07l4.8 3.8m0 -3.8l-4.8 3.8M441.28 811.57l4.8 3.8m0 -3.8l-4.8 3.8M442.2 801.26l4.8 3.8m0 -3.8l-4.8 3.8M567.6 789.79l4.8 3.8m0 -3.8l-4.8 3.8M569.21 812.52l4.8 3.8m0 -3.8l-4.8 3.8M570.59 809.42l4.8 3.8m0 -3.8l-4.8 3.8M572.17 793l4.8 3.8m0 -3.8l-4.8 3.8M573.31 805.76l4.8 3.8m0 -3.8l-4.8 3.8M574.83 800.08l4.8 3.8m0 -3.8l-4.8 3.8M575.73 807.58l4.8 3.8m0 -3.8l-4.8 3.8M576.65 819.61l4.8 3.8m0 -3.8l-4.8 3.8M578.03 809.68l4.8 3.8m0 -3.8l-4.8 3.8M579.4 812.71l4.8 3.8m0 -3.8l-4.8 3.8M580.5 817.89l4.8 3.8m0 -3.8l-4.8 3.8M582.13 785.4l4.8 3.8m0 -3.8l-4.8 3.8M583.13 795.07l4.8 3.8m0 -3.8l-4.8 3.8M584.05 796.17l4.8 3.8m0 -3.8l-4.8 3.8M585.31 786.68l4.8 3.8m0 -3.8l-4.8 3.8M586.74 784.06l4.8 3.8m0 -3.8l-4.8 3.8M587.74 806.45l4.8 3.8m0 -3.8l-4.8 3.8M589.03 800.46l4.8 3.8m0 -3.8l-4.8 3.8M590.11 795.51l4.8 3.8m0 -3.8l-4.8 3.8M591.31 793.37l4.8 3.8m0 -3.8l-4.8 3.8M592.78 801.19l4.8 3.8m0 -3.8l-4.8 3.8M594.25 799.36l4.8 3.8m0 -3.8l-4.8 3.8M595.85 795.99l4.8 3.8m0 -3.8l-4.8 3.8M596.75 814.69l4.8 3.8m0 -3.8l-4.8 3.8M598.02 783.97l4.8 3.8m0 -3.8l-4.8 3.8M599.06 792.36l4.8 3.8m0 -3.8l-4.8 3.8M600.53 798.74l4.8 3.8m0 -3.8l-4.8 3.8M601.68 784.16l4.8 3.8m0 -3.8l-4.8 3.8M602.62 804.59l4.8 3.8m0 -3.8l-4.8 3.8M604.24 793.35l4.8 3.8m0 -3.8l-4.8 3.8M605.37 810.18l4.8 3.8m0 -3.8l-4.8 3.8M607.03 798.71l4.8 3.8m0 -3.8l-4.8 3.8M608.01 807.37l4.8 3.8m0 -3.8l-4.8 3.8M609.5 805.04l4.8 3.8m0 -3.8l-4.8 3.8M611.17 803.79l4.8 3.8m0 -3.8l-4.8 3.8M612.49 785.12l4.8 3.8m0 -3.8l-4.8 3.8M613.84 782.81l4.8 3.8m0 -3.8l-4.8 3.8M615.52 791.85l4.8 3.8m0 -3.8l-4.8 3.8M616.71 810.64l4.8 3.8m0 -3.8l-4.8 3.8M617.69 776.08l4.8 3.8m0 -3.8l-4.8 3.8M618.65 783.25l4.8 3.8m0 -3.8l-4.8 3.8M620.16 790.92l4.8 3.8m0 -3.8l-4.8 3.8M621.42 799.82l4.8 3.8m0 -3.8l-4.8 3.8M622.84 799.76l4.8 3.8m0 -3.8l-4.8 3.8M624.09 807.64l4.8 3.8m0 -3.8l-4.8 3.8M625.31 799.49l4.8 3.8m0 -3.8l-4.8 3.8M626.39 789.06l4.8 3.8m0 -3.8l-4.8 3.8M627.49 795.5l4.8 3.8m0 -3.8l-4.8 3.8M628.95 792.38l4.8 3.8m0 -3.8l-4.8 3.8M630.22 812.04l4.8 3.8m0 -3.8l-4.8 3.8M631.31 806.53l4.8 3.8m0 -3.8l-4.8 3.8M632.71 791.42l4.8 3.8m0 -3.8l-4.8 3.8M634.38 789.38l4.8 3.8m0 -3.8l-4.8 3.8M635.68 793.07l4.8 3.8m0 -3.8l-4.8 3.8M637.15 786.03l4.8 3.8m0 -3.8l-4.8 3.8M638.55 808.72l4.8 3.8m0 -3.8l-4.8 3.8M640.06 807.52l4.8 3.8m0 -3.8l-4.8 3.8M641.52 814.45l4.8 3.8m0 -3.8l-4.8 3.8M642.96 797.87l4.8 3.8m0 -3.8l-4.8 3.8M644.17 777.83l4.8 3.8m0 -3.8l-4.8 3.8M645.56 787.67l4.8 3.8m0 -3.8l-4.8 3.8M647.26 819.76l4.8 3.8m0 -3.8l-4.8 3.8M648.16 801.55l4.8 3.8m0 -3.8l-4.8 3.8M649.37 791.08l4.8 3.8m0 -3.8l-4.8 3.8M650.39 802.05l4.8 3.8m0 -3.8l-4.8 3.8M651.53 799.72l4.8 3.8m0 -3.8l-4.8 3.8M653.19 798.98l4.8 3.8m0 -3.8l-4.8 3.8M654.17 808.8l4.8 3.8m0 -3.8l-4.8 3.8M655.84 800.28l4.8 3.8m0 -3.8l-4.8 3.8M657.01 804.51l4.8 3.8m0 -3.8l-4.8 3.8M658.42 801.48l4.8 3.8m0 -3.8l-4.8 3.8M660.08 805.04l4.8 3.8m0 -3.8l-4.8 3.8M661.24 798.96l4.8 3.8m0 -3.8l-4.8 3.8M662.26 780.58l4.8 3.8m0 -3.8l-4.8 3.8M663.71 794.61l4.8 3.8m0 -3.8l-4.8 3.8M664.83 786.58l4.8 3.8m0 -3.8l-4.8 3.8M666.03 788.8l4.8 3.8m0 -3.8l-4.8 3.8M667.28 802.27l4.8 3.8m0 -3.8l-4.8 3.8M668.67 799.58l4.8 3.8m0 -3.8l-4.8 3.8M669.88 792.85l4.8 3.8m0 -3.8l-4.8 3.8M671 789.59l4.8 3.8m0 -3.8l-4.8 3.8M671.93 776.63l4.8 3.8m0 -3.8l-4.8 3.8M673.48 785.21l4.8 3.8m0 -3.8l-4.8 3.8M674.39 804.25l4.8 3.8m0 -3.8l-4.8 3.8M675.69 786.18l4.8 3.8m0 -3.8l-4.8 3.8M677.15 795.38l4.8 3.8m0 -3.8l-4.8 3.8M678.24 786.87l4.8 3.8m0 -3.8l-4.8 3.8M679.22 797.93l4.8 3.8m0 -3.8l-4.8 3.8M680.37 817.33l4.8 3.8m0 -3.8l-4.8 3.8M681.56 792.89l4.8 3.8m0 -3.8l-4.8 3.8M682.57 794.02l4.8 3.8m0 -3.8l-4.8 3.8M683.89 815.13l4.8 3.8m0 -3.8l-4.8 3.8M684.83 794.88l4.8 3.8m0 -3.8l-4.8 3.8M686.18 789.78l4.8 3.8m0 -3.8l-4.8 3.8M687.26 792.71l4.8 3.8m0 -3.8l-4.8 3.8M688.9 815.38l4.8 3.8m0 -3.8l-4.8 3.8M690.5 786.31l4.8 3.8m0 -3.8l-4.8 3.8M691.47 797.13l4.8 3.8m0 -3.8l-4.8 3.8M693.09 798.78l4.8 3.8m0 -3.8l-4.8 3.8M694.14 814.12l4.8 3.8m0 -3.8l-4.8 3.8M695.08 793.44l4.8 3.8m0 -3.8l-4.8 3.8M696.48 810.1l4.8 3.8m0 -3.8l-4.8 3.8M697.76 795.87l4.8 3.8m0 -3.8l-4.8 3.8M698.87 806.49l4.8 3.8m0 -3.8l-4.8 3.8M413.6 772.1l4.8 3.8m0 -3.8l-4.8 3.8M396 779.4l4.8 3.8m0 -3.8l-4.8 3.8M397.5 783.8l4.8 3.8m0 -3.8l-4.8 3.8M398.4 787.6l4.8 3.8m0 -3.8l-4.8 3.8M388.7 820.3l4.8 3.8m0 -3.8l-4.8 3.8M390.2 824.7l4.8 3.8m0 -3.8l-4.8 3.8M423.2 820.9l4.8 3.8m0 -3.8l-4.8 3.8M367.7 815.1l4.8 3.8m0 -3.8l-4.8 3.8M640.9 772.3l4.8 3.8m0 -3.8l-4.8 3.8M665.5 770.1l4.8 3.8m0 -3.8l-4.8 3.8M678.2 770.1l4.8 3.8m0 -3.8l-4.8 3.8M586.3 830.9l4.8 3.8m0 -3.8l-4.8 3.8M597.6 827.5l4.8 3.8m0 -3.8l-4.8 3.8M604.6 827.2l4.8 3.8m0 -3.8l-4.8 3.8M634.6 825.2l4.8 3.8m0 -3.8l-4.8 3.8M693.2 837.1l4.8 3.8m0 -3.8l-4.8 3.8M683.9 820.4l4.8 3.8m0 -3.8l-4.8 3.8M572.1 812.5l4.8 3.8m0 -3.8l-4.8 3.8" fill="none" stroke="#111" stroke-width="1.0"/>
<line x1="45.5" y1="802.7" x2="748.0" y2="802.7" stroke="#f00" stroke-width="1.2"/>
<line x1="45.5" y1="801.12" x2="748.0" y2="801.12" stroke="#f00" stroke-width="2.4" stroke-dasharray="7.2 2.4"/>
<rect x="45.5" y="765.8" width="702.5" height="79.6" fill="none" stroke="#5a5a5a" stroke-width="1"/>
<rect x="53.1" y="771" width="172.7" height="17.2" rx="2.2" fill="#fff" fill-opacity="0.82" stroke="#d4d4d4" stroke-width="0.8"/>
<line x1="57.1" y1="778.9" x2="82.4" y2="778.9" stroke="#f00" stroke-width="2" stroke-dasharray="6.4 3.2"/>
<text x="91.66" y="782.6" font-size="10.66" textLength="129.37" lengthAdjust="spacingAndGlyphs" fill="#222">Median: 1.02 ± 6.64</text>
<line x1="43.5" y1="771.8" x2="45.5" y2="771.8" stroke="#5a5a5a" stroke-width="0.9"/>
<text x="28.14" y="774.7" font-size="8.42" textLength="12.72" lengthAdjust="spacingAndGlyphs" fill="#222">20</text>
<line x1="43.5" y1="787.25" x2="45.5" y2="787.25" stroke="#5a5a5a" stroke-width="0.9"/>
<text x="28.14" y="790.15" font-size="8.42" textLength="12.72" lengthAdjust="spacingAndGlyphs" fill="#222">10</text>
<line x1="43.5" y1="802.7" x2="45.5" y2="802.7" stroke="#5a5a5a" stroke-width="0.9"/>
<text x="34.5" y="805.6" font-size="8.42" textLength="6.36" lengthAdjust="spacingAndGlyphs" fill="#222">0</text>
<line x1="43.5" y1="818.15" x2="45.5" y2="818.15" stroke="#5a5a5a" stroke-width="0.9"/>
<text x="19.76" y="821.05" font-size="8.42" textLength="21.1" lengthAdjust="spacingAndGlyphs" fill="#222">−10</text>
<line x1="43.5" y1="833.6" x2="45.5" y2="833.6" stroke="#5a5a5a" stroke-width="0.9"/>
<text x="19.76" y="836.5" font-size="8.42" textLength="21.1" lengthAdjust="spacingAndGlyphs" fill="#222">−20</text>
<line x1="45.5" y1="845.4" x2="45.5" y2="847.4" stroke="#5a5a5a" stroke-width="0.9"/>
<text x="38.95" y="854.8" font-size="8.42" textLength="12.72" lengthAdjust="spacingAndGlyphs" fill="#222">19</text>
<line x1="84.47" y1="845.4" x2="84.47" y2="847.4" stroke="#5a5a5a" stroke-width="0.9"/>
<text x="78.08" y="854.8" font-size="8.42" textLength="12.72" lengthAdjust="spacingAndGlyphs" fill="#222">20</text>
<line x1="123.44" y1="845.4" x2="123.44" y2="847.4" stroke="#5a5a5a" stroke-width="0.9"/>
<text x="117.17" y="854.8" font-size="8.42" textLength="12.72" lengthAdjust="spacingAndGlyphs" fill="#222">21</text>
<line x1="162.41" y1="845.4" x2="162.41" y2="847.4" stroke="#5a5a5a" stroke-width="0.9"/>
<text x="156.18" y="854.8" font-size="8.42" textLength="12.72" lengthAdjust="spacingAndGlyphs" fill="#222">22</text>
<line x1="201.38" y1="845.4" x2="201.38" y2="847.4" stroke="#5a5a5a" stroke-width="0.9"/>
<text x="195.05" y="854.8" font-size="8.42" textLength="12.72" lengthAdjust="spacingAndGlyphs" fill="#222">23</text>
<line x1="240.35" y1="845.4" x2="240.35" y2="847.4" stroke="#5a5a5a" stroke-width="0.9"/>
<text x="233.9" y="854.8" font-size="8.42" textLength="12.72" lengthAdjust="spacingAndGlyphs" fill="#222">24</text>
<line x1="279.32" y1="845.4" x2="279.32" y2="847.4" stroke="#5a5a5a" stroke-width="0.9"/>
<text x="273.03" y="854.8" font-size="8.42" textLength="12.72" lengthAdjust="spacingAndGlyphs" fill="#222">25</text>
<line x1="318.29" y1="845.4" x2="318.29" y2="847.4" stroke="#5a5a5a" stroke-width="0.9"/>
<text x="311.87" y="854.8" font-size="8.42" textLength="12.72" lengthAdjust="spacingAndGlyphs" fill="#222">26</text>
<line x1="357.26" y1="845.4" x2="357.26" y2="847.4" stroke="#5a5a5a" stroke-width="0.9"/>
<text x="350.96" y="854.8" font-size="8.42" textLength="12.72" lengthAdjust="spacingAndGlyphs" fill="#222">27</text>
<line x1="396.23" y1="845.4" x2="396.23" y2="847.4" stroke="#5a5a5a" stroke-width="0.9"/>
<text x="389.85" y="854.8" font-size="8.42" textLength="12.72" lengthAdjust="spacingAndGlyphs" fill="#222">28</text>
<line x1="435.2" y1="845.4" x2="435.2" y2="847.4" stroke="#5a5a5a" stroke-width="0.9"/>
<text x="428.82" y="854.8" font-size="8.42" textLength="12.72" lengthAdjust="spacingAndGlyphs" fill="#222">29</text>
<line x1="474.17" y1="845.4" x2="474.17" y2="847.4" stroke="#5a5a5a" stroke-width="0.9"/>
<text x="467.76" y="854.8" font-size="8.42" textLength="12.72" lengthAdjust="spacingAndGlyphs" fill="#222">30</text>
<line x1="513.14" y1="845.4" x2="513.14" y2="847.4" stroke="#5a5a5a" stroke-width="0.9"/>
<text x="506.86" y="854.8" font-size="8.42" textLength="12.72" lengthAdjust="spacingAndGlyphs" fill="#222">31</text>
<line x1="552.11" y1="845.4" x2="552.11" y2="847.4" stroke="#5a5a5a" stroke-width="0.9"/>
<text x="545.87" y="854.8" font-size="8.42" textLength="12.72" lengthAdjust="spacingAndGlyphs" fill="#222">32</text>
<line x1="591.08" y1="845.4" x2="591.08" y2="847.4" stroke="#5a5a5a" stroke-width="0.9"/>
<text x="584.73" y="854.8" font-size="8.42" textLength="12.72" lengthAdjust="spacingAndGlyphs" fill="#222">33</text>
<line x1="630.05" y1="845.4" x2="630.05" y2="847.4" stroke="#5a5a5a" stroke-width="0.9"/>
<text x="623.58" y="854.8" font-size="8.42" textLength="12.72" lengthAdjust="spacingAndGlyphs" fill="#222">34</text>
<line x1="669.02" y1="845.4" x2="669.02" y2="847.4" stroke="#5a5a5a" stroke-width="0.9"/>
<text x="662.72" y="854.8" font-size="8.42" textLength="12.72" lengthAdjust="spacingAndGlyphs" fill="#222">35</text>
<line x1="707.99" y1="845.4" x2="707.99" y2="847.4" stroke="#5a5a5a" stroke-width="0.9"/>
<text x="701.56" y="854.8" font-size="8.42" textLength="12.72" lengthAdjust="spacingAndGlyphs" fill="#222">36</text>
<text x="341.08" y="865.8" font-size="10.72" textLength="109.91" lengthAdjust="spacingAndGlyphs" fill="#222">Wavelength [µm]</text>
<text transform="translate(14,805.6) rotate(-90)" x="-31.72" y="0" font-size="13.46" textLength="63.32" lengthAdjust="spacingAndGlyphs" fill="#222">Residual [%]</text>
</svg>
</body></html>
